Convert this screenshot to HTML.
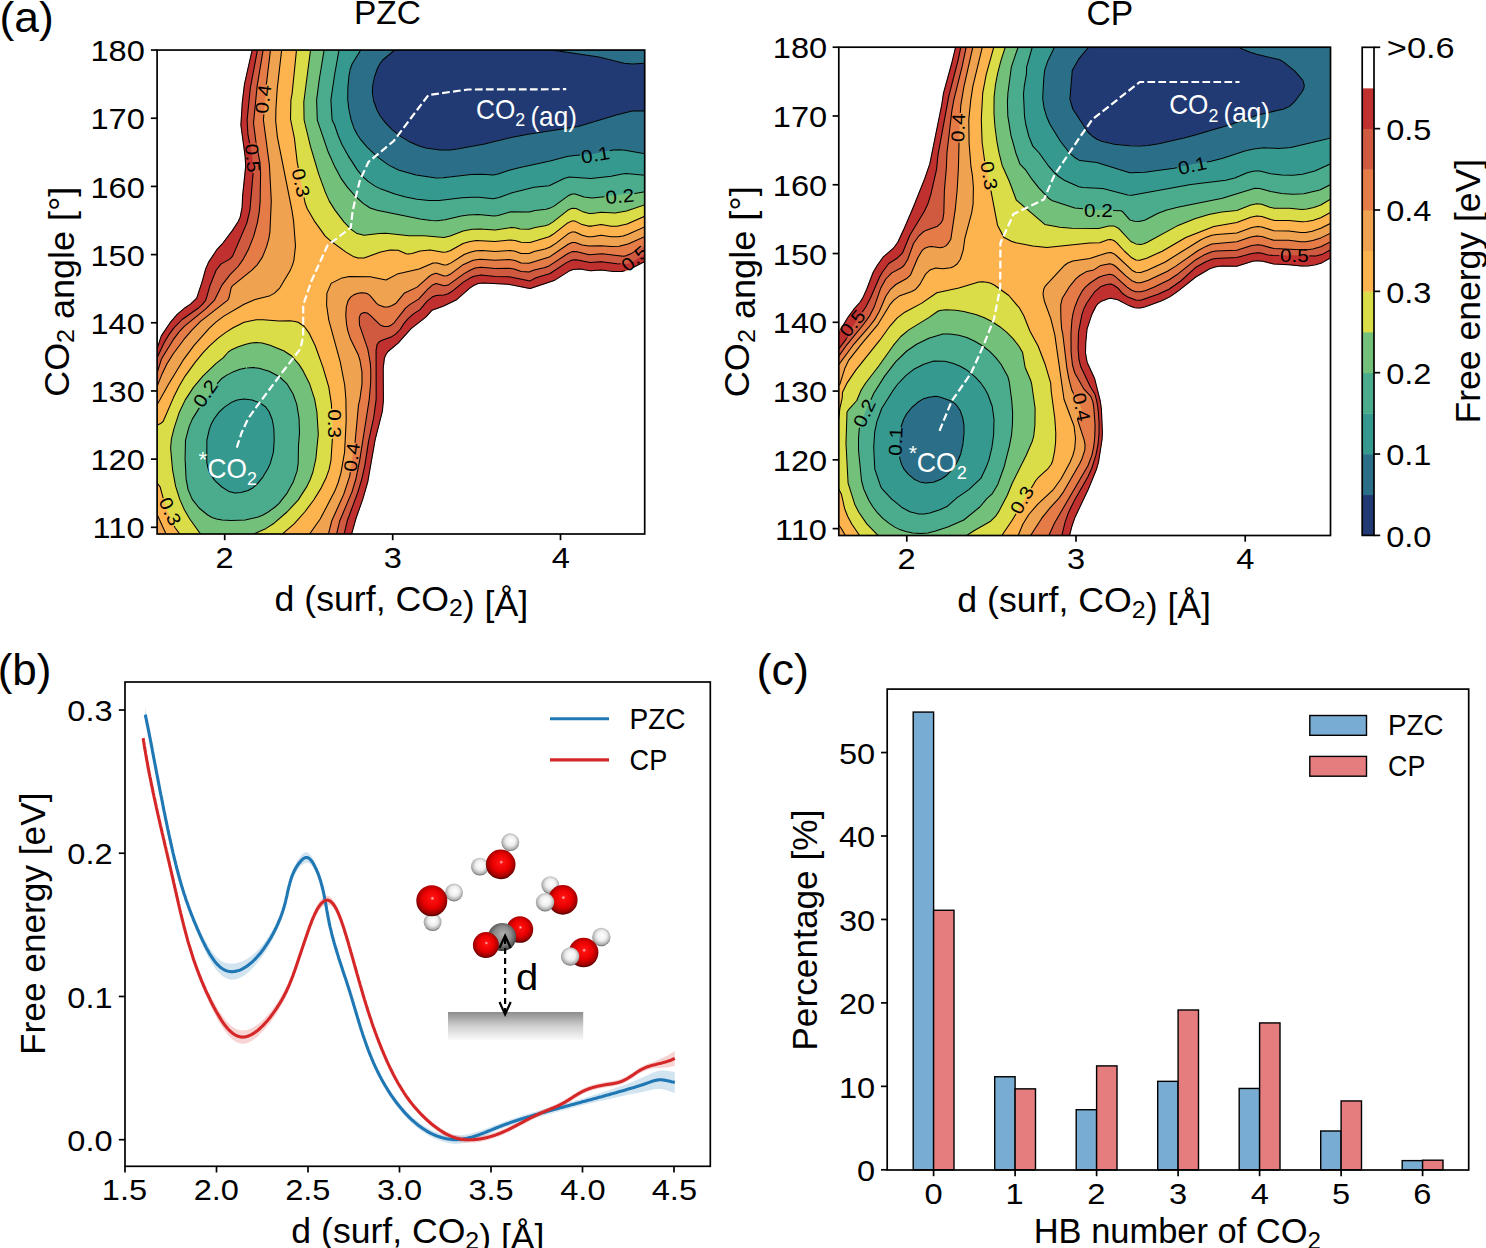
<!DOCTYPE html>
<html><head><meta charset="utf-8"><style>html,body{margin:0;padding:0;background:#fff}svg{display:block}text{font-family:"Liberation Sans",sans-serif}</style></head>
<body><svg width="1486" height="1248" viewBox="0 0 1486 1248">
<rect width="1486" height="1248" fill="#fff"/>
<clipPath id="cl"><rect x="157.1" y="50.05" width="487.60" height="483.95"/></clipPath>
<mask id="mcl" maskUnits="userSpaceOnUse" x="0" y="0" width="1486" height="1248"><rect x="0" y="0" width="1486" height="1248" fill="#fff"/>
<rect x="-15.0" y="-5" width="30.0" height="10" fill="#000" transform="translate(263.1,99.2) rotate(-83)"/>
<rect x="-15.0" y="-5" width="30.0" height="10" fill="#000" transform="translate(252.8,158.1) rotate(85)"/>
<rect x="-15.0" y="-5" width="30.0" height="10" fill="#000" transform="translate(300.9,182.8) rotate(78)"/>
<rect x="-15.0" y="-5" width="30.0" height="10" fill="#000" transform="translate(595.2,154.8) rotate(-10)"/>
<rect x="-15.0" y="-5" width="30.0" height="10" fill="#000" transform="translate(619.5,196.3) rotate(-5)"/>
<rect x="-15.0" y="-5" width="30.0" height="10" fill="#000" transform="translate(634.7,258.5) rotate(-40)"/>
<rect x="-15.0" y="-5" width="30.0" height="10" fill="#000" transform="translate(205.2,393.6) rotate(-55)"/>
<rect x="-15.0" y="-5" width="30.0" height="10" fill="#000" transform="translate(334.3,423.7) rotate(90)"/>
<rect x="-15.0" y="-5" width="30.0" height="10" fill="#000" transform="translate(351.7,457.3) rotate(-82)"/>
<rect x="-15.0" y="-5" width="30.0" height="10" fill="#000" transform="translate(170.2,511.4) rotate(65)"/>
</mask>
<g clip-path="url(#cl)">
<g stroke-width="0.6" stroke-linejoin="round">
<path stroke="#213a73" fill="#213a73" d="M397.1,47.8 397.6,47.0 543.7,47.0 551.1,49.9 598.9,57.0 624.1,63.2 632.1,63.9 648.1,63.0 648.1,111.0 636.1,110.8 631.1,111.3 616.3,115.0 578.1,126.5 528.1,134.2 512.1,137.3 484.5,144.1 457.1,149.0 450.1,149.9 440.1,150.1 426.0,148.1 419.1,146.0 410.0,142.1 400.3,136.1 392.6,130.1 386.1,123.5 380.1,115.7 377.1,110.3 374.0,102.0 372.5,94.0 372.5,87.0 373.9,79.0 377.2,69.0 379.7,64.0 382.7,60.0 396.9,48.0Z"/>
<path stroke="#2a6f87" fill="#2a6f87" d="M363.1,47.0 397.6,47.0 394.7,50.0 382.7,60.0 380.1,63.4 377.6,68.0 374.5,77.0 372.6,86.0 372.4,93.0 373.7,101.0 377.0,110.0 380.1,115.7 385.1,122.4 392.1,129.6 400.3,136.1 410.0,142.1 419.1,146.0 426.0,148.1 440.1,150.1 450.1,149.9 457.1,149.0 484.5,144.1 512.1,137.3 528.1,134.2 578.1,126.5 616.3,115.0 631.1,111.3 636.1,110.8 648.1,111.0 648.1,154.2 625.1,150.2 619.1,149.7 613.1,150.0 595.1,154.1 574.1,155.6 567.1,156.6 550.1,161.1 520.1,167.4 494.1,175.0 490.1,175.1 481.1,174.1 471.1,174.5 439.1,178.0 429.1,177.2 415.1,174.9 401.5,171.1 392.1,167.0 388.7,165.1 376.1,155.7 365.1,145.0 357.1,134.3 352.1,123.1 349.1,111.1 347.7,99.0 348.0,85.0 349.1,74.8 351.3,66.0 354.1,60.4 362.6,47.0ZM544.1,47.0 648.1,47.0 648.1,63.0 631.1,63.9 622.1,62.8 598.9,57.0 551.1,49.9 543.7,47.0Z"/>
<path stroke="#36998f" fill="#36998f" d="M340.1,47.0 362.6,47.0 354.1,60.4 351.7,65.0 349.4,73.0 348.2,82.0 347.6,95.0 348.4,107.0 351.1,119.7 355.1,130.6 358.2,136.1 363.1,142.7 376.1,155.7 390.1,165.9 401.5,171.1 418.1,175.5 436.1,177.9 443.1,177.8 471.1,174.5 482.1,174.2 493.1,175.1 498.1,174.1 509.1,170.3 520.1,167.4 550.1,161.1 567.1,156.6 574.1,155.6 595.1,154.1 613.1,150.0 619.1,149.7 625.1,150.2 648.1,154.2 648.1,175.6 626.1,173.5 622.1,173.9 611.1,176.2 591.1,178.6 569.1,177.1 564.1,178.5 549.1,185.7 534.1,187.2 511.1,193.0 496.1,198.4 491.1,198.7 479.1,197.3 471.1,197.2 441.1,200.3 432.1,200.7 418.1,199.4 405.7,197.1 391.9,193.1 376.8,187.0 369.0,182.1 362.1,175.8 356.1,168.1 348.1,155.6 340.1,140.4 334.6,125.0 332.1,120.0 331.7,117.0 330.9,100.0 334.4,76.0 339.5,47.0ZM244.1,399.0 252.1,400.1 260.1,402.9 265.1,406.5 268.7,411.1 272.1,419.1 273.5,426.1 274.2,439.1 273.5,451.1 272.1,457.9 268.7,467.1 264.8,474.1 259.0,482.1 254.1,486.9 250.1,489.6 244.1,491.9 237.1,493.1 230.1,492.0 224.6,489.1 216.2,482.1 210.9,475.1 208.3,469.0 206.9,463.0 206.9,440.1 209.1,430.1 210.8,425.0 214.1,418.8 219.1,412.1 224.4,407.1 231.1,402.6 237.1,400.1 243.6,399.1Z"/>
<path stroke="#4aac8d" fill="#4aac8d" d="M325.1,47.0 339.5,47.0 334.2,77.0 330.9,101.0 332.1,120.0 334.6,125.0 339.1,138.0 342.2,145.1 347.1,153.9 355.1,166.7 360.5,174.1 365.1,178.8 370.1,182.8 376.1,186.6 382.1,189.5 394.9,194.1 406.1,197.1 417.1,199.3 430.1,200.6 440.1,200.3 471.1,197.2 479.1,197.3 493.1,198.7 499.1,197.6 512.1,192.7 534.1,187.2 549.1,185.7 564.1,178.5 569.1,177.1 591.1,178.6 611.1,176.2 622.1,173.9 626.1,173.5 648.1,175.6 648.1,191.2 633.1,193.7 592.1,198.0 584.1,196.9 575.1,193.9 572.1,194.0 568.1,195.8 554.0,206.1 550.1,208.1 546.1,209.2 535.1,210.5 529.1,212.1 511.1,211.7 498.1,215.4 494.1,216.0 478.1,214.6 468.1,214.9 461.1,215.9 444.1,219.9 435.1,220.7 420.1,219.0 378.1,210.5 371.1,208.5 364.1,204.2 357.1,198.0 348.8,189.1 342.1,179.9 335.5,168.1 328.2,152.1 324.1,141.0 317.2,119.0 316.6,100.0 319.2,80.0 324.6,47.0ZM246.1,368.0 252.1,367.6 258.2,368.1 262.1,368.8 268.8,371.1 279.1,376.5 287.1,383.9 293.1,394.0 296.7,404.1 299.0,418.1 299.5,433.1 298.5,445.1 298.2,463.1 297.1,470.9 293.1,482.3 287.1,493.1 279.1,503.4 275.1,507.1 268.2,512.0 263.0,515.0 258.2,517.0 246.1,519.8 232.1,520.6 222.1,520.1 217.1,519.2 209.1,515.9 200.1,509.0 195.1,503.5 192.1,499.1 188.1,489.6 186.1,478.9 185.1,460.1 185.5,440.1 189.0,427.1 192.3,419.1 202.1,403.4 217.6,383.1 222.1,378.2 226.8,375.1 232.7,372.0 240.1,369.3 245.9,368.1ZM243.6,399.1 237.1,400.1 231.1,402.6 224.4,407.1 219.1,412.1 214.1,418.8 210.8,425.1 209.1,430.1 206.9,440.1 206.9,463.1 208.3,469.1 210.9,475.1 216.2,482.0 224.6,489.0 230.1,492.0 237.1,493.1 244.1,491.9 250.1,489.6 254.1,486.9 259.0,482.1 264.8,474.0 268.7,467.1 272.1,457.9 273.5,451.1 274.2,439.1 273.5,426.1 272.1,419.1 268.7,411.1 265.1,406.5 260.1,402.9 252.1,400.1 244.1,399.0Z"/>
<path stroke="#72c07a" fill="#72c07a" d="M311.1,47.0 324.6,47.0 319.1,80.9 316.5,102.0 317.3,120.1 319.4,125.0 326.1,146.7 336.1,169.3 340.9,178.1 345.1,184.3 351.4,192.1 359.1,199.9 366.1,205.7 371.1,208.5 378.1,210.5 420.1,219.0 431.1,220.6 438.1,220.6 446.1,219.5 461.1,215.9 468.1,214.9 478.1,214.6 494.1,216.0 498.1,215.4 511.1,211.7 529.1,212.1 535.1,210.5 546.1,209.2 550.1,208.1 554.0,206.1 568.1,195.8 572.1,194.0 575.1,193.9 584.1,196.9 592.1,198.0 633.1,193.7 648.1,191.2 648.1,203.7 623.1,211.9 614.1,213.0 601.1,212.3 590.1,213.4 583.1,211.8 575.1,208.3 572.1,208.2 567.1,210.7 551.4,223.1 545.1,225.7 535.1,227.4 529.1,229.2 520.1,229.0 515.1,227.8 511.1,227.5 495.1,229.9 479.1,228.9 471.1,229.4 462.1,231.2 448.1,236.7 443.1,237.4 424.1,235.7 409.1,235.8 386.1,233.2 379.1,233.4 366.1,235.2 361.1,234.9 356.1,233.1 349.1,227.5 343.1,220.9 334.8,210.1 330.4,203.1 327.3,197.1 318.4,173.1 312.0,152.1 304.1,120.0 303.9,100.0 304.9,95.0 310.9,47.0ZM252.1,342.9 256.1,342.6 262.1,343.1 271.1,345.6 279.1,348.7 285.1,351.5 290.1,354.7 298.0,363.1 303.1,370.9 309.7,384.1 314.3,398.1 316.8,411.1 318.3,433.1 316.0,458.1 312.9,472.1 310.1,479.8 307.1,486.1 298.1,500.0 287.0,512.0 274.1,523.2 266.1,528.4 251.5,535.0 248.4,537.0 202.6,537.0 186.7,514.0 182.6,506.1 178.6,496.1 175.6,486.1 173.5,476.1 171.3,458.0 170.6,446.0 171.4,439.1 173.1,432.0 179.1,412.8 186.3,398.1 195.2,385.1 205.1,373.9 216.1,363.4 223.1,357.8 229.5,351.1 240.3,346.0 251.3,343.1ZM245.9,368.1 240.1,369.3 232.7,372.1 226.8,375.1 222.1,378.2 217.6,383.1 202.1,403.4 192.3,419.1 189.0,427.1 185.5,440.1 185.1,460.1 186.1,478.9 188.1,489.6 192.1,499.1 195.1,503.5 200.1,509.0 209.1,515.9 217.1,519.2 222.1,520.1 232.1,520.6 246.1,519.8 258.2,517.0 263.0,515.0 268.2,512.0 275.1,507.0 279.1,503.4 287.1,493.1 293.1,482.3 297.1,470.9 298.2,463.1 298.5,445.1 299.5,433.1 299.0,418.1 296.7,404.1 293.1,394.0 287.1,383.9 279.1,376.5 268.8,371.1 262.1,368.8 258.2,368.1 252.1,367.6 246.1,368.0Z"/>
<path stroke="#dadc48" fill="#dadc48" d="M297.1,47.0 310.9,47.0 304.9,95.0 303.9,100.0 303.9,118.0 310.9,148.1 316.4,167.1 325.7,193.1 331.6,205.1 338.1,214.5 345.8,224.1 352.0,230.1 357.1,233.6 364.1,235.3 379.1,233.4 386.1,233.2 409.1,235.8 424.1,235.7 444.1,237.4 450.1,236.1 463.1,230.9 472.1,229.3 480.1,229.0 495.1,229.9 511.1,227.5 515.1,227.8 520.1,229.0 529.1,229.2 535.1,227.4 545.1,225.7 549.1,224.4 553.1,221.9 568.0,210.1 572.1,208.2 576.1,208.5 582.1,211.4 589.1,213.4 592.1,213.4 601.1,212.3 615.1,212.9 626.5,211.1 648.1,203.7 648.1,214.8 629.1,223.3 621.1,225.7 612.1,226.2 601.1,224.6 589.1,226.2 582.1,224.6 575.1,221.1 572.1,220.9 567.1,223.3 553.1,234.3 549.1,236.8 530.1,242.4 521.1,242.3 515.1,240.6 510.1,240.0 495.1,241.4 481.1,240.5 475.1,240.7 469.1,241.7 463.1,243.5 450.1,250.7 446.1,252.1 443.1,252.2 430.1,250.1 420.1,251.1 412.1,253.6 408.1,254.1 406.1,253.7 398.1,250.2 389.1,250.0 377.4,253.0 366.1,257.4 360.1,258.2 356.1,257.7 350.6,255.1 327.1,238.0 322.1,232.2 315.1,222.1 307.4,209.1 305.4,204.1 297.2,162.1 294.4,138.1 290.5,119.0 290.9,100.0 292.1,93.6 296.8,47.0ZM254.1,320.0 263.1,319.7 279.1,321.0 290.1,320.8 295.1,321.4 299.1,322.7 305.1,327.2 309.1,333.1 314.1,343.1 322.5,366.1 328.6,386.1 331.3,403.1 332.5,433.0 331.5,454.1 330.1,465.3 326.8,476.1 322.7,485.1 318.8,492.1 307.1,509.1 292.1,526.0 278.9,537.0 248.4,537.0 251.5,535.0 266.1,528.4 274.1,523.2 287.0,512.0 298.1,500.1 307.1,486.1 310.1,479.8 312.9,472.0 316.0,458.1 318.3,433.1 317.7,420.1 315.9,405.1 314.3,398.1 309.7,384.1 303.1,370.9 296.4,361.1 290.1,354.7 281.1,349.6 273.1,346.3 263.1,343.3 256.1,342.6 251.1,343.1 245.1,344.5 237.7,347.1 231.1,350.1 228.3,352.0 223.1,357.8 216.1,363.4 204.1,374.9 198.5,381.1 188.1,395.0 184.1,401.9 180.1,410.4 174.1,428.1 171.6,438.0 170.7,444.1 171.0,455.1 173.6,477.1 177.6,493.1 183.5,508.1 189.8,519.0 202.6,537.0 181.9,537.0 175.1,527.8 171.1,520.3 165.1,505.2 160.1,486.9 154.1,479.1 154.1,426.0 157.1,425.7 157.3,425.1 160.1,423.8 163.1,421.5 174.6,395.1 183.2,379.1 193.1,365.0 202.1,353.8 209.1,346.2 218.1,338.1 227.1,331.4 236.1,326.2 245.1,321.8 253.7,320.0Z"/>
<path stroke="#fdb44f" fill="#fdb44f" d="M282.1,47.0 296.8,47.0 292.1,93.6 290.9,100.0 290.5,119.0 294.4,138.1 297.4,163.1 304.1,198.5 306.1,206.1 315.1,222.1 321.2,231.1 326.1,237.0 330.1,240.6 344.1,250.7 353.1,256.4 358.1,258.1 364.1,257.9 380.6,252.1 390.1,250.0 398.1,250.2 406.1,253.7 408.1,254.1 412.1,253.6 420.1,251.1 430.1,250.1 443.1,252.2 446.1,252.1 450.1,250.7 463.1,243.5 469.1,241.7 476.1,240.6 495.1,241.4 510.1,240.0 515.1,240.6 521.1,242.3 530.1,242.4 549.1,236.8 553.1,234.3 567.1,223.3 572.1,220.9 575.1,221.1 582.1,224.6 588.1,226.1 592.1,226.1 601.1,224.6 611.1,226.2 617.1,226.2 627.1,224.1 648.1,214.8 648.1,225.4 629.1,233.9 622.1,236.1 612.1,236.9 601.1,235.3 589.1,236.8 582.1,235.3 575.1,232.1 572.1,231.9 568.1,233.8 556.1,243.1 550.1,247.0 545.1,248.9 534.1,251.6 529.1,253.6 521.1,253.4 515.1,251.3 510.1,250.5 495.1,251.5 482.1,250.5 476.1,250.8 470.1,252.2 464.1,254.5 451.1,262.9 447.1,264.8 444.1,265.0 437.1,262.9 433.1,262.9 419.1,269.0 397.2,274.1 386.1,280.0 370.1,276.7 349.1,276.6 342.1,277.9 331.1,283.4 326.9,293.1 326.6,305.1 328.8,320.1 340.3,362.1 344.7,385.1 345.9,399.1 346.2,420.1 344.6,452.1 340.9,473.1 338.0,483.1 334.8,491.1 320.2,519.0 307.5,537.0 278.9,537.0 294.1,523.9 304.7,512.0 313.7,500.0 321.1,488.1 326.0,478.1 329.1,469.4 331.0,460.1 332.4,438.1 332.3,421.1 331.4,404.1 328.8,387.1 322.9,367.1 315.1,345.5 308.1,331.4 305.1,327.2 303.1,325.5 298.1,322.2 295.1,321.4 290.1,320.8 279.1,321.0 263.1,319.7 256.1,319.8 244.1,322.2 233.1,327.8 226.1,332.1 218.1,338.1 209.1,346.2 203.1,352.6 195.1,362.4 185.1,376.1 179.1,386.2 173.7,397.1 163.1,421.5 160.1,423.8 157.3,425.0 157.1,425.7 154.1,426.0 154.1,409.1 156.1,406.6 167.1,386.7 180.6,364.1 187.4,354.1 196.1,343.1 211.4,326.1 218.3,320.1 225.4,315.1 244.1,304.3 251.1,301.0 258.1,298.6 269.1,296.1 275.1,292.6 279.0,289.1 280.3,287.1 289.9,271.1 292.5,265.1 293.9,260.1 295.5,246.1 293.6,221.1 291.9,210.1 277.4,137.1 275.7,121.0 275.9,109.1 277.2,89.0 282.0,47.0ZM154.8,480.1 156.1,481.2 160.1,486.9 165.1,505.2 171.1,520.3 175.1,527.8 181.9,537.0 167.4,537.0 156.1,512.2 154.1,508.8 154.1,479.1Z"/>
<path stroke="#efa24f" fill="#efa24f" d="M271.1,47.0 282.0,47.0 277.2,89.0 275.9,109.0 275.7,121.0 277.6,138.1 291.9,210.1 293.4,220.0 295.5,246.1 293.9,260.1 292.8,264.1 289.9,271.1 280.3,287.1 278.1,289.9 274.5,293.1 269.2,296.1 255.1,299.5 244.1,304.3 223.8,316.1 215.9,322.1 209.4,328.1 194.1,345.4 183.9,359.1 168.1,384.9 156.1,406.6 154.1,409.1 154.1,392.3 155.6,390.1 165.1,367.4 173.1,354.1 186.1,336.7 197.6,324.1 203.2,319.1 227.8,300.1 228.9,298.1 231.1,288.1 232.1,286.2 251.9,270.1 257.0,265.1 262.4,257.1 266.7,246.1 268.7,239.1 269.9,232.1 271.3,201.1 269.4,165.1 263.4,120.0 266.1,86.6 270.8,47.0ZM647.1,225.7 648.1,225.4 648.1,235.1 629.1,243.7 622.1,245.9 613.1,246.6 601.1,245.7 589.1,246.1 582.7,245.1 576.1,242.7 573.1,242.2 568.1,244.2 553.1,254.8 549.1,257.1 534.1,261.3 529.1,263.2 521.1,263.0 515.1,260.6 509.1,259.6 495.1,260.2 480.1,259.2 472.1,260.6 462.6,265.1 451.1,273.7 447.1,275.8 444.1,276.0 436.1,273.3 432.1,274.4 428.1,277.3 417.1,287.1 404.1,293.3 396.1,303.2 389.1,306.8 384.1,307.0 378.1,304.7 376.1,302.9 370.1,295.7 368.0,294.1 365.1,292.9 361.1,292.7 357.1,293.5 353.4,295.1 350.6,297.1 347.9,301.1 346.3,307.1 345.8,315.1 346.5,324.1 347.9,331.1 350.5,339.0 358.1,354.4 359.9,360.1 362.0,372.1 362.0,384.1 359.9,399.1 358.5,405.0 355.1,442.2 349.7,476.1 343.8,494.1 331.7,521.0 327.7,537.0 307.5,537.0 320.2,519.0 334.8,491.1 338.0,483.0 340.9,473.1 344.6,452.1 346.2,420.1 345.9,399.0 344.7,385.0 340.3,362.1 328.8,320.1 326.6,305.1 326.9,293.1 331.1,283.4 342.1,277.9 349.1,276.6 370.1,276.7 386.1,280.0 397.2,274.1 419.1,269.0 433.1,262.9 437.1,262.9 444.1,265.0 447.1,264.8 451.1,262.9 464.1,254.5 470.1,252.2 476.1,250.8 482.1,250.5 495.1,251.5 510.1,250.5 515.1,251.3 521.1,253.4 529.1,253.6 534.1,251.6 545.1,248.9 550.1,247.0 556.1,243.1 568.1,233.8 572.1,231.9 575.1,232.1 582.1,235.3 588.1,236.7 592.1,236.8 601.1,235.3 611.1,236.8 617.1,236.8 622.1,236.1 627.1,234.7 646.1,226.1ZM154.3,509.1 167.4,537.0 154.1,537.0 154.1,508.8Z"/>
<path stroke="#e57b47" fill="#e57b47" d="M264.1,47.0 270.8,47.0 266.1,86.6 263.4,120.0 269.4,165.1 271.3,201.1 269.9,232.1 268.7,239.1 266.7,246.1 262.4,257.1 257.0,265.1 251.9,270.1 232.1,286.2 231.1,288.1 228.9,298.1 227.8,300.1 200.8,321.1 191.9,330.1 184.1,339.2 173.1,354.0 167.1,363.6 162.1,373.9 155.6,390.1 154.1,392.3 154.1,380.6 156.1,376.1 161.1,359.7 169.1,345.9 176.1,335.7 183.5,327.1 191.3,320.1 205.5,309.1 214.6,300.1 222.0,285.1 230.1,274.6 238.1,266.5 243.9,258.1 249.4,247.1 254.3,234.1 257.6,222.1 259.4,211.1 260.1,202.1 260.6,172.1 259.9,162.1 256.1,143.3 253.5,123.0 257.1,86.4 263.6,47.0ZM646.1,235.8 648.1,235.1 648.1,244.4 630.2,254.1 625.1,255.9 620.1,256.2 602.1,253.8 589.1,254.8 576.1,251.6 573.1,251.4 568.1,253.4 549.1,265.9 544.1,267.7 534.1,270.0 529.1,271.9 521.1,271.4 514.1,269.0 509.1,268.3 495.1,268.4 481.1,267.2 474.1,268.5 463.1,274.2 448.1,285.1 444.1,285.8 436.1,283.6 432.1,285.3 427.8,289.1 418.6,299.1 410.1,304.4 405.1,308.4 395.1,321.8 392.1,324.6 389.1,326.2 385.1,326.7 380.3,325.1 370.1,315.1 367.1,313.0 364.1,312.4 361.1,313.7 360.1,315.1 359.2,318.1 359.5,325.0 367.8,349.1 370.3,363.1 370.8,371.1 370.7,382.1 369.3,399.0 359.9,459.1 355.9,479.1 352.1,491.6 339.7,521.0 335.9,537.0 327.7,537.0 327.8,536.0 331.7,521.0 343.8,494.1 349.7,476.1 355.1,442.2 358.5,405.1 359.9,399.0 362.1,383.1 361.9,371.1 359.6,359.1 358.1,354.4 350.5,339.1 347.9,331.1 346.5,324.1 345.8,315.1 346.3,307.1 347.9,301.1 350.6,297.1 353.4,295.1 357.1,293.5 361.1,292.7 365.1,292.9 368.0,294.1 370.1,295.7 376.1,302.9 378.1,304.7 384.1,307.0 388.1,307.1 392.1,305.5 396.1,303.2 404.1,293.3 417.1,287.1 428.1,277.3 432.1,274.4 436.1,273.3 444.1,276.0 447.1,275.8 451.1,273.7 463.1,264.7 473.1,260.3 480.1,259.2 495.1,260.2 509.1,259.6 515.1,260.6 521.1,263.0 529.1,263.2 549.3,257.1 568.1,244.2 572.1,242.4 575.1,242.4 582.1,244.9 589.1,246.1 601.1,245.7 611.1,246.6 619.1,246.3 628.1,244.1 645.5,236.1Z"/>
<path stroke="#cf5a3f" fill="#cf5a3f" d="M258.1,47.0 263.6,47.0 257.1,86.4 253.5,123.0 256.1,143.3 259.9,162.1 260.6,172.1 260.1,202.1 259.5,210.1 257.8,221.1 254.7,233.1 249.4,247.1 243.9,258.1 238.1,266.5 230.1,274.6 222.0,285.1 214.6,300.1 205.5,309.1 184.5,326.1 179.1,331.9 173.1,339.9 161.4,359.1 156.1,376.1 154.1,380.6 154.1,363.0 155.6,361.1 161.1,348.5 166.1,339.3 172.1,330.1 179.1,322.2 185.2,317.1 198.4,308.1 202.1,304.7 205.1,301.1 206.1,299.1 210.1,285.2 216.1,270.2 220.8,264.1 229.8,259.1 232.6,256.1 244.5,229.1 247.5,221.1 250.2,208.1 253.2,172.1 252.3,158.1 247.9,134.1 247.1,120.0 250.3,88.0 258.0,47.0ZM647.1,244.6 648.1,244.4 648.1,251.9 643.1,254.8 634.1,261.2 628.1,263.6 619.1,263.9 601.1,261.7 590.1,262.5 577.1,259.9 573.1,259.8 567.1,262.3 550.1,273.5 536.1,277.7 531.1,280.5 529.1,281.0 509.1,276.8 495.1,276.5 481.1,275.0 474.1,276.2 469.9,278.1 463.4,282.1 452.1,291.3 448.1,293.8 444.1,294.9 436.1,295.4 432.1,297.1 427.1,301.1 420.1,309.6 413.1,314.1 408.1,318.6 404.2,323.1 400.1,329.5 395.6,334.1 391.1,337.1 382.1,340.3 378.9,342.1 377.1,344.6 376.1,350.1 376.2,399.1 373.8,417.1 368.6,441.1 364.9,465.1 361.8,479.1 357.9,492.0 347.2,521.0 343.5,537.0 335.9,537.0 336.0,536.0 339.7,521.0 352.1,491.6 356.9,475.1 365.1,427.9 369.3,399.1 370.5,386.1 370.7,369.1 369.1,354.5 367.1,346.5 359.3,324.1 359.4,317.1 361.1,313.7 364.1,312.4 367.1,313.0 370.1,315.1 380.1,324.9 384.1,326.6 388.1,326.4 391.1,325.2 394.1,322.8 405.5,308.1 410.1,304.4 418.6,299.1 427.8,289.1 432.1,285.3 436.1,283.6 444.1,285.8 448.1,285.1 464.1,273.6 470.1,270.2 475.1,268.1 481.1,267.2 495.1,268.4 509.1,268.3 514.1,269.0 521.1,271.4 529.1,271.9 534.1,270.0 544.1,267.7 549.1,265.9 567.1,254.0 572.1,251.6 576.1,251.6 589.1,254.8 602.1,253.8 623.1,256.2 626.1,255.7 630.1,254.1 646.3,245.1Z"/>
<path stroke="#c0302e" fill="#c0302e" d="M253.1,47.0 258.0,47.0 250.3,88.0 247.1,120.0 247.9,134.1 252.3,158.1 253.2,172.1 250.2,208.1 247.5,221.1 244.5,229.1 232.6,256.1 229.8,259.1 220.8,264.1 216.1,270.2 210.1,285.2 206.1,299.1 205.1,301.1 202.1,304.7 198.1,308.3 182.1,319.5 173.7,328.1 169.3,334.1 164.1,342.8 155.6,361.1 154.1,363.0 154.1,356.4 162.1,334.3 170.1,322.7 176.1,315.4 185.1,307.7 190.5,304.1 196.7,298.0 202.1,281.8 205.6,269.1 208.6,262.1 217.1,249.3 223.1,242.8 232.1,230.9 238.1,221.8 240.2,217.1 242.1,207.5 242.6,196.1 245.7,166.1 245.1,156.1 240.9,125.0 242.3,102.1 244.5,84.0 252.8,47.1ZM648.1,251.9 648.1,259.8 633.1,267.6 626.1,270.5 622.1,271.4 617.1,271.6 601.1,270.0 591.1,270.8 581.1,269.0 574.1,269.2 569.1,271.1 554.1,280.6 531.1,288.4 528.1,288.4 513.6,285.1 507.1,284.2 483.1,282.9 478.1,283.6 474.1,285.3 470.1,287.9 456.1,300.1 443.1,306.2 432.1,310.2 426.1,316.9 411.1,328.7 398.1,343.2 388.1,351.5 386.1,354.3 384.4,358.1 383.2,368.1 383.4,400.1 382.4,411.1 375.1,439.9 367.7,482.1 362.8,499.1 356.1,518.0 350.8,537.0 343.5,537.0 343.6,536.0 347.2,521.0 357.9,492.1 361.8,479.1 364.9,465.1 368.6,441.1 373.8,417.0 376.2,399.1 376.1,350.1 377.1,344.6 378.9,342.0 382.1,340.3 391.1,337.1 395.6,334.1 400.1,329.5 404.2,323.1 408.1,318.6 413.1,314.1 420.1,309.6 427.1,301.1 432.1,297.1 436.1,295.4 444.1,294.9 448.1,293.8 452.1,291.3 463.4,282.1 469.9,278.1 474.1,276.2 481.1,275.0 495.1,276.5 509.1,276.8 530.1,280.9 536.1,277.7 550.1,273.5 566.1,262.9 572.1,260.0 576.1,259.7 590.1,262.5 601.1,261.7 617.1,263.7 626.1,263.9 630.1,263.1 633.1,261.8 647.7,252.1Z"/>
</g>
<path fill="none" stroke="#000" stroke-width="1.05" stroke-linejoin="round" mask="url(#mcl)" d="M397.6,47.0 394.7,50.0 382.7,60.0 380.1,63.4 377.6,68.0 374.5,77.0 372.6,86.0 372.4,93.0 373.7,101.0 377.0,110.0 380.1,115.7 385.1,122.4 392.1,129.6 400.3,136.1 410.0,142.1 419.1,146.0 426.0,148.1 440.1,150.1 450.1,149.9 457.1,149.0 484.5,144.1 512.1,137.3 528.1,134.2 578.1,126.5 616.3,115.0 631.1,111.3 636.1,110.8 648.1,111.0M648.1,63.0 632.1,63.9 624.1,63.2 598.9,57.0 551.1,49.9 543.7,47.0M362.6,47.0 352.1,64.0 350.3,69.0 349.1,74.8 347.9,87.0 347.7,99.0 348.8,109.0 351.2,120.1 354.1,128.4 357.1,134.3 361.1,140.2 367.1,147.2 377.1,156.6 388.7,165.1 399.1,170.2 416.1,175.1 436.1,177.9 443.1,177.8 471.1,174.5 482.1,174.2 493.1,175.1 498.1,174.1 509.1,170.3 520.1,167.4 550.1,161.1 567.1,156.6 574.1,155.6 595.1,154.1 613.1,150.0 619.1,149.7 625.1,150.2 648.1,154.2M339.5,47.0 334.4,76.0 330.9,100.0 332.1,120.0 334.6,125.0 338.1,135.5 342.2,145.1 348.1,155.6 357.1,169.6 362.1,175.8 367.7,181.1 375.0,186.1 381.1,189.1 394.9,194.1 405.7,197.1 417.1,199.3 429.1,200.5 439.1,200.4 462.1,197.8 472.1,197.2 479.1,197.3 493.1,198.7 499.1,197.6 512.1,192.7 534.1,187.2 549.1,185.7 564.1,178.5 569.1,177.1 591.1,178.6 611.1,176.2 622.1,173.9 626.1,173.5 648.1,175.6M244.1,399.0 237.1,400.1 231.1,402.6 224.4,407.1 219.1,412.1 214.1,418.8 210.8,425.1 209.1,430.1 206.9,440.1 206.8,462.1 208.1,468.6 210.1,473.6 215.1,480.9 221.9,487.0 229.1,491.6 235.1,493.1 241.1,492.6 248.1,490.5 253.1,487.7 257.1,484.1 262.8,477.1 267.7,469.0 270.4,463.1 273.4,452.1 274.2,440.1 273.8,428.0 272.1,419.2 269.1,411.7 265.7,407.0 260.4,403.1 252.1,400.1 244.1,399.0M324.6,47.0 319.2,80.0 316.6,100.1 317.3,120.1 328.1,151.8 335.0,167.1 340.9,178.1 347.1,186.9 355.1,196.0 363.1,203.4 370.1,208.0 377.1,210.3 420.1,219.0 431.1,220.6 437.1,220.7 445.1,219.7 461.1,215.9 468.1,214.9 478.1,214.6 494.1,216.0 498.1,215.4 511.1,211.7 529.1,212.1 535.1,210.5 546.1,209.2 550.1,208.1 554.0,206.1 568.1,195.8 572.1,194.0 575.1,193.9 584.1,196.9 592.1,198.0 633.1,193.7 648.1,191.2M246.1,368.0 240.1,369.3 232.7,372.1 226.8,375.1 222.1,378.2 217.6,383.1 202.1,403.4 192.3,419.1 189.1,426.6 185.5,440.1 185.1,459.1 186.1,478.9 188.1,489.6 192.1,499.1 199.1,508.0 207.7,515.0 212.1,517.5 216.6,519.0 222.1,520.1 231.1,520.6 245.1,519.9 258.2,517.0 263.0,515.0 268.2,512.0 275.1,507.0 279.1,503.4 287.1,493.1 293.1,482.3 297.1,470.9 298.2,463.1 298.5,445.1 299.5,433.1 299.0,418.1 296.7,404.1 293.1,394.0 287.1,383.9 279.1,376.5 269.1,371.2 259.1,368.2 253.1,367.6 247.1,367.9M310.9,47.0 303.8,102.0 304.1,120.0 310.4,146.1 318.7,174.1 325.3,192.1 329.3,201.1 335.1,210.4 344.1,222.1 350.8,229.1 357.1,233.6 364.1,235.3 379.1,233.4 386.1,233.2 409.1,235.8 424.1,235.7 444.1,237.4 450.1,236.1 463.1,230.9 472.1,229.3 480.1,229.0 495.1,229.9 511.1,227.5 515.1,227.8 520.1,229.0 529.1,229.2 535.1,227.4 545.1,225.7 549.1,224.4 553.1,221.9 568.0,210.1 572.1,208.2 576.1,208.5 582.1,211.4 589.1,213.4 592.1,213.4 601.1,212.3 615.1,212.9 626.5,211.1 648.1,203.7M248.4,537.0 251.5,535.0 266.1,528.4 274.1,523.2 287.0,512.0 298.1,500.1 307.1,486.1 310.1,479.8 312.9,472.0 315.8,459.1 318.3,434.1 316.9,412.1 314.6,399.1 309.7,384.1 303.1,370.9 299.1,364.6 291.7,356.0 284.1,351.0 270.1,345.3 262.1,343.1 256.1,342.6 251.1,343.1 245.1,344.5 237.7,347.1 231.1,350.1 228.3,352.0 223.1,357.8 216.1,363.4 203.1,375.9 193.6,387.1 185.1,400.1 179.1,412.8 174.1,428.1 171.4,439.1 170.6,448.1 172.6,470.1 175.6,486.1 179.7,499.1 184.5,510.1 189.8,519.0 202.6,537.0M296.8,47.0 292.1,93.6 290.9,100.0 290.5,119.0 294.4,138.1 297.2,162.1 305.1,203.0 307.1,208.5 314.1,220.6 325.2,236.1 331.1,241.3 346.0,252.1 353.1,256.4 358.1,258.1 364.1,257.9 380.6,252.1 390.1,250.0 398.1,250.2 406.1,253.7 408.1,254.1 412.1,253.6 420.1,251.1 430.1,250.1 443.1,252.2 446.1,252.1 450.1,250.7 463.1,243.5 469.1,241.7 476.1,240.6 495.1,241.4 510.1,240.0 515.1,240.6 521.1,242.3 530.1,242.4 549.1,236.8 553.1,234.3 567.1,223.3 572.1,220.9 575.1,221.1 582.1,224.6 588.1,226.1 592.1,226.1 601.1,224.6 611.1,226.2 617.1,226.2 627.1,224.1 648.1,214.8M154.1,479.1 160.1,486.9 165.1,505.2 171.1,520.3 175.1,527.8 181.9,537.0M278.9,537.0 294.1,523.9 304.7,512.0 313.7,500.0 321.1,488.1 326.0,478.1 329.1,469.4 331.0,460.1 332.4,438.1 332.3,421.1 331.4,404.1 328.8,387.1 322.9,367.1 315.1,345.5 309.1,333.1 304.1,326.3 298.1,322.2 295.1,321.4 290.1,320.8 279.1,321.0 263.1,319.7 256.1,319.8 244.1,322.2 233.1,327.8 226.2,332.1 218.1,338.1 209.3,346.1 203.1,352.6 195.1,362.4 185.1,376.1 179.1,386.2 173.7,397.1 163.1,421.5 160.1,423.8 157.3,425.0 157.1,425.7 154.1,426.0M282.0,47.0 277.2,89.0 275.9,109.0 275.7,121.0 277.4,137.1 291.9,210.1 293.6,221.1 295.5,246.1 293.9,260.1 292.5,265.1 289.9,271.1 279.7,288.1 274.5,293.1 269.2,296.1 255.1,299.5 244.1,304.3 223.8,316.1 215.9,322.1 209.4,328.1 194.1,345.4 183.9,359.1 168.1,384.9 156.1,406.6 154.1,409.1M154.1,508.8 156.1,512.2 167.4,537.0M307.5,537.0 320.2,519.0 334.8,491.1 338.0,483.0 340.9,473.1 344.6,452.1 346.2,420.1 345.9,399.0 344.7,385.0 340.3,362.1 328.8,320.1 326.6,305.1 326.9,293.1 331.1,283.4 342.1,277.9 349.1,276.6 370.1,276.7 386.1,280.0 397.2,274.1 419.1,269.0 433.1,262.9 437.1,262.9 444.1,265.0 447.1,264.8 451.1,262.9 464.1,254.5 470.1,252.2 476.1,250.8 482.1,250.5 495.1,251.5 510.1,250.5 515.1,251.3 521.1,253.4 529.1,253.6 534.1,251.6 545.1,248.9 550.1,247.0 556.1,243.1 568.1,233.8 572.1,231.9 575.1,232.1 582.1,235.3 588.1,236.7 592.1,236.8 601.1,235.3 611.1,236.8 618.1,236.7 623.1,235.9 628.1,234.3 648.1,225.4M270.8,47.0 266.1,86.6 263.4,120.0 269.4,165.1 271.3,201.1 269.9,232.1 268.7,239.1 266.4,247.1 262.4,257.1 257.0,265.1 251.9,270.1 232.1,286.2 231.1,288.1 228.9,298.1 227.8,300.1 200.8,321.1 191.9,330.1 184.1,339.2 173.1,354.0 167.1,363.6 162.1,373.9 155.6,390.1 154.1,392.3M327.7,537.0 331.7,521.0 343.8,494.1 349.7,476.1 355.1,442.2 358.5,405.1 359.9,399.0 362.0,384.1 362.0,372.1 359.9,360.0 358.1,354.4 350.5,339.1 347.9,331.1 346.5,324.1 345.8,315.1 346.3,307.1 347.9,301.1 350.6,297.1 353.4,295.1 357.1,293.5 361.1,292.7 365.1,292.9 368.0,294.1 370.1,295.7 376.1,302.9 378.1,304.7 384.1,307.0 388.1,307.1 392.1,305.5 396.1,303.2 404.1,293.3 417.1,287.1 428.1,277.3 432.1,274.4 436.1,273.3 444.1,276.0 447.1,275.8 451.1,273.7 463.1,264.7 473.1,260.3 480.1,259.2 495.1,260.2 509.1,259.6 515.1,260.6 521.1,263.0 529.1,263.2 549.3,257.1 568.1,244.2 572.1,242.4 575.1,242.4 582.1,244.9 589.1,246.1 601.1,245.7 611.1,246.6 619.1,246.3 628.1,244.1 648.1,235.1M263.6,47.0 257.1,86.4 253.5,123.0 256.1,143.3 259.9,162.1 260.6,173.1 260.1,202.1 259.2,212.1 257.3,223.1 253.7,236.1 248.6,249.1 243.3,259.1 238.1,266.5 230.1,274.6 222.0,285.1 214.6,300.1 205.5,309.1 184.5,326.1 179.1,331.9 173.1,339.9 161.4,359.1 156.1,376.1 154.1,380.6M335.9,537.0 339.7,521.0 352.1,491.6 355.9,479.0 359.9,459.1 369.3,399.1 370.7,382.0 370.8,371.1 370.3,363.1 367.8,349.1 359.5,325.1 359.2,318.1 360.1,315.1 361.1,313.7 364.1,312.4 367.1,313.0 370.1,315.1 380.1,324.9 384.1,326.6 388.1,326.4 391.1,325.2 394.1,322.8 405.5,308.1 410.1,304.4 418.6,299.1 427.8,289.1 432.1,285.3 436.1,283.6 444.1,285.8 448.1,285.1 464.1,273.6 470.1,270.2 475.1,268.1 481.1,267.2 495.1,268.4 509.1,268.3 514.1,269.0 521.1,271.4 529.1,271.9 534.1,270.0 544.1,267.7 549.1,265.9 567.1,254.0 572.1,251.6 576.1,251.6 589.1,254.8 602.1,253.8 623.1,256.2 626.1,255.7 630.1,254.1 648.1,244.4M258.0,47.0 250.3,88.0 247.1,120.0 247.9,134.1 252.3,158.1 253.2,172.1 249.9,210.1 246.8,223.1 232.6,256.1 229.8,259.1 220.8,264.1 216.1,270.2 210.1,285.2 206.1,299.1 205.1,301.1 202.1,304.7 198.1,308.3 182.1,319.5 173.7,328.1 169.3,334.1 164.1,342.8 155.6,361.1 154.1,363.0M343.5,537.0 347.2,521.0 357.9,492.1 361.8,479.1 364.9,465.1 368.6,441.1 373.8,417.0 376.2,399.1 376.1,350.1 377.1,344.6 378.9,342.0 382.1,340.3 391.1,337.1 395.6,334.1 400.1,329.5 404.2,323.1 408.1,318.6 413.1,314.1 420.1,309.6 427.1,301.1 432.1,297.1 436.1,295.4 444.1,294.9 448.1,293.8 452.1,291.3 463.4,282.1 469.9,278.1 474.1,276.2 481.1,275.0 495.1,276.5 509.1,276.8 530.1,280.9 536.1,277.7 550.1,273.5 566.1,262.9 572.1,260.0 576.1,259.7 590.1,262.5 601.1,261.7 617.1,263.7 626.1,263.9 630.1,263.1 633.1,261.8 648.1,251.9M252.8,47.1 244.5,84.0 242.3,102.1 240.9,125.0 245.1,156.1 245.7,166.1 242.6,196.1 242.1,207.5 240.2,217.1 238.1,221.8 232.1,230.9 223.1,242.8 217.1,249.3 208.6,262.1 205.6,269.1 202.1,281.8 196.7,298.1 190.5,304.1 185.1,307.7 177.4,314.1 170.1,322.7 161.2,336.1 156.1,351.7 154.1,356.4M350.8,537.0 356.1,518.0 362.8,499.1 367.7,482.1 375.1,439.9 382.4,411.1 383.4,400.1 383.2,368.1 384.4,358.1 386.1,354.3 388.1,351.5 398.1,343.2 411.1,328.7 426.1,316.9 432.1,310.2 443.1,306.2 456.1,300.1 470.1,287.9 474.1,285.3 478.1,283.6 483.1,282.9 508.1,284.3 530.1,288.6 554.1,280.6 569.1,271.1 573.1,269.4 580.1,268.9 590.1,270.7 601.1,270.0 613.1,271.5 622.1,271.4 631.1,268.5 648.1,259.8"/>
<g transform="translate(263.1,99.2) rotate(-83)"><text transform="matrix(1.12,0,0,1.0,-14.37,6.50)" font-size="18.5" fill="#000">0.4</text></g>
<g transform="translate(252.8,158.1) rotate(85)"><text transform="matrix(1.12,0,0,1.0,-14.37,6.50)" font-size="18.5" fill="#000">0.5</text></g>
<g transform="translate(300.9,182.8) rotate(78)"><text transform="matrix(1.12,0,0,1.0,-14.37,6.50)" font-size="18.5" fill="#000">0.3</text></g>
<g transform="translate(595.2,154.8) rotate(-10)"><text transform="matrix(1.12,0,0,1.0,-14.19,6.50)" font-size="18.5" fill="#000">0.1</text></g>
<g transform="translate(619.5,196.3) rotate(-5)"><text transform="matrix(1.12,0,0,1.0,-14.19,6.50)" font-size="18.5" fill="#000">0.2</text></g>
<g transform="translate(634.7,258.5) rotate(-40)"><text transform="matrix(1.12,0,0,1.0,-14.37,6.50)" font-size="18.5" fill="#000">0.5</text></g>
<g transform="translate(205.2,393.6) rotate(-55)"><text transform="matrix(1.12,0,0,1.0,-14.19,6.50)" font-size="18.5" fill="#000">0.2</text></g>
<g transform="translate(334.3,423.7) rotate(90)"><text transform="matrix(1.12,0,0,1.0,-14.37,6.50)" font-size="18.5" fill="#000">0.3</text></g>
<g transform="translate(351.7,457.3) rotate(-82)"><text transform="matrix(1.12,0,0,1.0,-14.37,6.50)" font-size="18.5" fill="#000">0.4</text></g>
<g transform="translate(170.2,511.4) rotate(65)"><text transform="matrix(1.12,0,0,1.0,-14.37,6.50)" font-size="18.5" fill="#000">0.3</text></g>
</g>
<clipPath id="cr"><rect x="838.8" y="47.2" width="491.70" height="488.30"/></clipPath>
<mask id="mcr" maskUnits="userSpaceOnUse" x="0" y="0" width="1486" height="1248"><rect x="0" y="0" width="1486" height="1248" fill="#fff"/>
<rect x="-15.0" y="-5" width="30.0" height="10" fill="#000" transform="translate(958.1,127.7) rotate(-88)"/>
<rect x="-15.0" y="-5" width="30.0" height="10" fill="#000" transform="translate(989.2,175.6) rotate(80)"/>
<rect x="-15.0" y="-5" width="30.0" height="10" fill="#000" transform="translate(1192.1,165.6) rotate(-12)"/>
<rect x="-15.0" y="-5" width="30.0" height="10" fill="#000" transform="translate(1098.1,210.7) rotate(0)"/>
<rect x="-15.0" y="-5" width="30.0" height="10" fill="#000" transform="translate(1294.3,255.5) rotate(0)"/>
<rect x="-15.0" y="-5" width="30.0" height="10" fill="#000" transform="translate(852.3,323.4) rotate(-50)"/>
<rect x="-15.0" y="-5" width="30.0" height="10" fill="#000" transform="translate(864.2,413.3) rotate(-65)"/>
<rect x="-15.0" y="-5" width="30.0" height="10" fill="#000" transform="translate(895.6,441.5) rotate(-88)"/>
<rect x="-15.0" y="-5" width="30.0" height="10" fill="#000" transform="translate(1021.9,500.0) rotate(-60)"/>
<rect x="-15.0" y="-5" width="30.0" height="10" fill="#000" transform="translate(1081.5,407.0) rotate(78)"/>
</mask>
<g clip-path="url(#cr)">
<g stroke-width="0.6" stroke-linejoin="round">
<path stroke="#213a73" fill="#213a73" d="M1090.8,45.0 1091.2,44.2 1233.3,44.2 1242.7,49.2 1249.8,52.0 1260.5,55.2 1276.8,58.8 1282.8,61.3 1293.8,70.2 1302.0,79.2 1304.2,84.2 1304.1,87.2 1303.0,90.2 1298.4,97.2 1293.3,103.2 1289.8,106.1 1284.8,108.7 1276.8,110.9 1256.7,115.2 1230.8,124.6 1194.3,135.2 1160.8,143.4 1147.8,145.5 1131.8,145.8 1113.8,144.1 1098.8,140.2 1093.8,137.2 1089.0,133.2 1073.8,110.9 1071.8,106.6 1070.2,101.2 1070.0,97.2 1072.3,70.2 1078.8,58.9 1090.7,45.2Z"/>
<path stroke="#2a6f87" fill="#2a6f87" d="M1055.8,44.6 1055.9,44.2 1091.2,44.2 1078.8,58.9 1072.7,69.2 1072.0,72.2 1069.9,98.2 1071.0,104.2 1073.4,110.2 1087.8,132.0 1095.3,138.2 1101.6,141.2 1114.8,144.3 1130.8,145.8 1139.8,146.0 1147.8,145.5 1158.8,143.8 1183.8,138.1 1194.3,135.2 1230.8,124.6 1256.7,115.2 1283.8,109.0 1289.8,106.1 1294.2,102.2 1302.4,91.2 1303.8,88.2 1304.3,85.2 1302.7,80.2 1294.8,71.2 1283.8,62.1 1279.8,59.8 1256.6,54.2 1250.3,52.2 1242.7,49.2 1233.3,44.2 1333.8,44.2 1333.8,137.4 1290.8,147.5 1278.8,148.5 1263.8,147.8 1253.8,149.0 1244.8,151.1 1222.8,158.2 1211.0,161.2 1174.0,168.2 1144.8,172.3 1129.8,172.8 1096.8,162.4 1080.8,160.9 1075.9,158.2 1070.8,154.2 1066.8,150.0 1061.8,143.2 1049.8,124.0 1046.5,116.2 1044.1,108.2 1042.7,98.2 1043.8,78.0 1044.7,70.2 1047.8,60.9 1055.7,45.2ZM928.8,397.2 934.8,396.3 938.8,396.8 949.4,400.2 955.5,404.2 958.9,408.2 961.6,414.2 963.4,421.2 964.0,428.2 963.7,438.2 961.8,449.7 959.8,456.6 956.6,463.2 951.7,470.2 945.8,476.0 938.8,480.2 931.8,482.6 925.8,483.1 919.8,481.9 913.8,478.9 907.8,473.8 903.8,468.8 900.8,462.4 899.5,456.2 898.6,447.2 898.9,438.2 900.7,428.2 902.9,421.2 905.8,415.2 910.2,409.2 916.8,403.1 922.8,399.1 928.7,397.2Z"/>
<path stroke="#36998f" fill="#36998f" d="M1033.8,44.2 1055.9,44.2 1047.8,60.9 1044.7,70.2 1043.8,78.0 1042.7,98.2 1044.1,108.2 1046.5,116.2 1049.8,124.0 1061.8,143.2 1066.8,150.0 1070.8,154.2 1075.9,158.2 1080.8,160.9 1096.8,162.4 1129.8,172.8 1144.8,172.3 1174.0,168.2 1211.0,161.2 1222.8,158.2 1244.8,151.1 1253.8,149.0 1263.8,147.8 1278.8,148.5 1290.8,147.5 1333.8,137.4 1333.8,162.3 1318.8,169.3 1311.0,172.2 1298.8,174.7 1285.8,175.3 1272.8,174.1 1259.8,171.0 1254.8,171.0 1247.8,172.6 1234.8,177.9 1225.8,180.2 1190.8,184.5 1147.8,192.6 1130.8,195.3 1102.8,188.4 1080.6,187.2 1066.2,181.2 1058.8,176.5 1053.0,171.2 1038.8,152.5 1032.1,145.2 1028.2,134.2 1025.7,124.2 1024.0,112.2 1023.4,96.2 1024.1,87.2 1026.4,74.2 1026.6,67.2 1033.1,44.2ZM933.8,361.1 944.8,361.2 952.5,363.2 958.8,365.5 963.8,368.1 968.8,371.5 974.3,376.2 979.2,381.2 985.8,390.4 988.8,396.3 991.7,404.2 993.8,416.2 994.0,430.2 992.8,442.2 989.8,456.9 986.8,465.8 981.0,478.2 968.8,489.6 956.4,498.2 947.8,506.0 938.8,510.2 926.8,513.7 921.8,514.2 916.8,513.7 910.8,512.2 906.3,510.2 900.2,506.2 892.8,500.2 881.8,488.5 879.3,483.2 874.8,469.2 873.8,446.2 874.9,430.2 878.8,415.7 882.8,406.3 893.9,389.2 901.8,379.5 912.5,370.2 921.5,365.2 933.2,361.2ZM928.7,397.2 922.8,399.1 916.8,403.1 910.2,409.2 905.8,415.2 902.9,421.2 900.7,428.2 898.9,438.2 898.6,447.2 899.5,456.2 900.8,462.4 903.8,468.8 907.8,473.8 913.8,478.9 919.8,481.9 925.8,483.1 931.8,482.6 938.8,480.2 945.8,476.0 951.7,470.2 956.6,463.2 959.8,456.6 961.8,449.7 963.7,438.2 964.0,428.2 963.4,421.2 961.6,414.2 958.9,408.2 955.5,404.2 949.4,400.2 938.8,396.8 934.8,396.3 928.8,397.2Z"/>
<path stroke="#4aac8d" fill="#4aac8d" d="M1019.8,44.2 1033.1,44.2 1026.6,67.2 1026.4,74.2 1024.1,87.2 1023.4,96.2 1024.0,112.2 1025.6,123.2 1028.2,134.2 1031.8,144.5 1032.8,146.2 1038.8,152.5 1050.3,168.2 1056.0,174.2 1064.8,180.5 1078.8,186.7 1082.8,187.4 1102.8,188.4 1127.8,194.9 1131.8,195.2 1190.8,184.5 1225.8,180.2 1234.8,177.9 1247.8,172.6 1254.8,171.0 1259.8,171.0 1270.8,173.7 1281.8,175.1 1292.8,175.2 1302.3,174.2 1314.8,171.0 1333.8,162.3 1333.8,183.0 1323.8,188.4 1318.8,190.4 1304.8,193.6 1290.8,194.1 1276.8,192.8 1269.8,191.4 1259.8,188.4 1254.8,188.2 1222.4,198.2 1167.8,209.7 1158.8,212.9 1143.8,220.5 1137.8,221.5 1129.8,219.9 1122.8,211.8 1120.8,210.7 1096.8,210.0 1074.8,207.9 1051.4,200.2 1046.6,196.2 1038.8,187.9 1031.9,179.2 1025.8,170.2 1020.0,164.2 1015.9,153.2 1010.9,135.2 1008.1,119.2 1007.4,106.2 1008.2,90.2 1011.3,67.2 1019.1,44.2ZM942.8,334.1 949.8,334.0 957.8,335.1 965.7,337.2 972.9,340.2 980.8,344.7 987.8,349.8 993.8,355.4 999.8,362.5 1005.8,372.3 1009.0,380.2 1012.4,408.2 1012.7,417.2 1012.2,427.2 1010.3,442.2 1004.3,466.2 997.8,484.4 991.9,494.2 986.8,498.6 978.6,508.2 963.8,520.0 946.8,527.3 933.8,531.5 926.8,533.1 918.8,533.4 911.8,532.7 903.8,531.0 896.8,528.2 889.8,523.9 882.7,518.2 877.0,512.2 871.8,505.3 868.7,500.2 864.6,491.2 861.7,482.2 858.5,450.2 858.7,433.2 859.4,428.2 861.6,420.2 867.9,404.2 871.1,399.2 874.9,391.2 879.9,383.2 887.8,371.7 894.8,362.8 904.8,352.7 914.8,345.3 927.8,338.6 942.1,334.2ZM933.2,361.2 921.5,365.2 912.5,370.2 901.8,379.5 893.9,389.2 882.8,406.3 878.8,415.7 874.9,430.2 873.8,446.2 874.8,469.2 879.3,483.2 881.8,488.5 892.8,500.2 900.2,506.2 906.3,510.2 910.8,512.2 916.8,513.7 921.8,514.2 926.8,513.7 938.8,510.2 947.8,506.0 956.4,498.2 968.8,489.6 981.0,478.2 986.8,465.8 989.8,456.9 992.8,442.2 994.0,430.2 993.8,416.2 991.7,404.2 988.8,396.3 985.8,390.4 979.2,381.2 974.3,376.2 968.8,371.5 963.8,368.1 958.8,365.5 952.5,363.2 944.8,361.2 933.8,361.1Z"/>
<path stroke="#72c07a" fill="#72c07a" d="M1006.8,44.2 1019.1,44.2 1011.3,67.2 1008.9,84.2 1007.5,99.2 1007.5,111.2 1008.5,122.2 1011.1,136.2 1014.0,147.2 1017.8,159.2 1020.0,164.2 1025.8,170.2 1031.9,179.2 1039.0,188.2 1048.6,198.2 1051.8,200.4 1074.8,207.9 1096.8,210.0 1120.8,210.7 1122.8,211.8 1129.8,219.9 1134.8,221.3 1138.8,221.5 1144.6,220.2 1158.1,213.2 1166.8,210.0 1178.8,207.0 1222.4,198.2 1254.8,188.2 1259.8,188.4 1270.8,191.6 1281.8,193.5 1292.8,194.2 1303.8,193.7 1319.8,190.0 1333.8,183.0 1333.8,197.3 1322.8,204.1 1314.8,207.2 1303.8,209.4 1288.8,208.2 1275.8,208.3 1270.8,207.5 1260.8,204.1 1257.8,203.7 1253.8,204.3 1236.8,210.4 1221.8,211.9 1213.8,213.5 1194.8,218.7 1175.8,226.6 1160.8,235.2 1145.3,243.2 1142.8,244.1 1139.8,244.4 1135.8,243.9 1130.8,241.5 1118.4,228.2 1113.8,225.9 1108.8,226.1 1098.8,228.5 1088.8,228.1 1072.8,228.3 1060.8,227.3 1045.8,224.8 1042.8,223.0 1016.4,200.2 1009.7,182.2 1001.4,163.2 997.0,142.2 994.2,116.2 994.0,98.2 995.8,82.5 999.4,66.2 1006.2,44.2ZM941.8,310.1 949.8,309.9 959.8,310.7 968.8,312.6 978.8,315.5 987.8,319.4 995.8,324.0 1003.8,329.8 1010.8,336.3 1017.8,344.6 1022.5,352.2 1025.1,367.2 1030.6,380.2 1031.7,384.2 1035.1,407.2 1035.0,424.2 1033.7,436.2 1032.6,440.2 1027.2,453.2 1012.8,481.9 1009.6,490.2 1001.7,506.2 996.4,515.2 991.8,520.2 974.8,530.2 960.9,539.2 881.7,539.2 866.8,523.9 858.8,512.3 854.7,504.2 847.8,481.2 846.0,441.2 846.7,414.2 847.5,411.2 856.8,400.5 861.1,390.2 865.5,383.2 878.8,366.0 892.8,346.1 899.8,337.5 904.3,333.2 909.8,329.2 928.8,317.6 937.8,311.3 941.0,310.2ZM942.1,334.2 927.8,338.6 914.8,345.3 904.8,352.7 894.8,362.8 887.8,371.7 879.9,383.2 874.9,391.2 871.1,399.2 867.9,404.2 861.6,420.2 859.4,428.2 858.7,433.2 858.5,450.2 861.7,482.2 864.6,491.2 868.7,500.2 871.8,505.3 877.0,512.2 882.7,518.2 889.8,523.9 896.8,528.2 903.8,531.0 911.8,532.7 918.8,533.4 926.8,533.1 933.8,531.5 946.8,527.3 963.8,520.0 978.6,508.2 986.8,498.6 991.9,494.2 997.8,484.4 1004.3,466.2 1010.3,442.2 1012.2,427.2 1012.7,417.2 1012.4,408.2 1009.0,380.2 1005.8,372.3 999.8,362.5 993.8,355.4 987.8,349.8 980.8,344.7 972.9,340.2 965.7,337.2 957.8,335.1 949.8,334.0 942.8,334.1Z"/>
<path stroke="#dadc48" fill="#dadc48" d="M994.8,44.2 1006.2,44.2 1000.8,61.2 997.7,73.2 995.2,86.2 994.0,98.2 994.0,113.2 995.1,128.2 997.9,147.2 1001.4,163.2 1009.7,182.2 1016.4,200.2 1044.8,224.4 1059.9,227.2 1071.8,228.3 1098.8,228.5 1108.8,226.1 1113.8,225.9 1118.4,228.2 1130.8,241.5 1135.8,243.9 1140.8,244.4 1143.8,243.8 1147.3,242.2 1176.8,226.1 1194.8,218.7 1208.8,214.6 1221.8,211.9 1236.8,210.4 1250.8,205.1 1256.8,203.8 1261.8,204.3 1269.8,207.2 1274.2,208.2 1289.8,208.2 1301.8,209.4 1306.8,209.1 1313.8,207.5 1320.8,205.0 1333.8,197.3 1333.8,210.6 1323.8,216.5 1316.9,219.2 1308.8,221.3 1301.8,221.8 1288.8,220.6 1274.8,220.4 1270.8,219.6 1260.8,216.2 1257.8,215.8 1253.8,216.4 1236.8,222.5 1216.8,225.8 1209.8,227.7 1184.8,238.0 1167.9,248.2 1158.0,253.2 1144.8,258.9 1138.8,260.3 1135.8,260.0 1131.8,257.8 1124.8,251.5 1116.8,242.8 1113.8,240.5 1110.8,239.5 1107.8,239.7 1099.8,242.7 1089.8,242.9 1051.8,247.1 1043.8,247.4 1035.8,246.6 1014.8,242.6 1005.3,238.2 1003.8,237.2 1002.8,235.8 997.9,226.2 996.8,222.2 990.4,187.2 984.0,157.2 982.3,144.2 981.5,133.2 981.5,113.2 983.1,90.2 986.8,72.2 994.6,44.2ZM977.8,282.1 982.8,281.7 988.8,282.7 992.8,284.1 997.6,287.2 1008.8,295.5 1018.8,307.2 1022.1,312.2 1029.8,330.8 1037.8,345.2 1045.8,366.3 1050.9,384.2 1051.2,391.2 1055.2,422.2 1055.8,434.2 1055.4,444.2 1053.8,456.1 1051.8,463.2 1047.8,468.9 1038.7,477.2 1035.8,480.5 1012.2,520.2 999.3,539.2 960.9,539.2 974.8,530.2 991.8,520.2 996.4,515.2 1001.7,506.2 1009.6,490.2 1012.8,481.9 1027.2,453.2 1032.6,440.2 1033.9,435.2 1035.1,423.2 1035.0,406.2 1031.7,384.2 1030.6,380.2 1025.1,367.2 1022.8,353.2 1020.8,349.0 1012.6,338.2 1001.8,328.2 989.8,320.4 976.8,314.8 966.8,312.1 957.8,310.5 945.8,309.8 939.8,310.4 937.8,311.3 928.8,317.6 905.8,332.0 900.8,336.5 894.8,343.5 878.8,366.0 866.2,382.2 861.1,390.2 856.8,400.5 848.2,410.2 847.0,412.2 846.0,443.2 848.1,483.2 854.7,504.2 858.8,512.3 866.8,523.9 881.7,539.2 862.1,539.2 851.9,524.2 847.6,516.2 844.5,508.2 841.4,494.2 835.8,483.3 835.8,431.1 837.8,426.8 839.9,408.2 842.2,398.2 842.5,392.2 846.8,383.4 851.8,375.6 880.5,339.2 890.8,325.0 895.9,319.2 901.8,314.2 906.8,311.0 921.8,303.1 936.8,292.8 958.8,287.9 977.3,282.2Z"/>
<path stroke="#fdb44f" fill="#fdb44f" d="M983.8,44.2 994.6,44.2 986.1,75.2 982.5,95.2 981.3,125.2 981.9,140.2 983.2,152.2 997.5,225.2 1003.8,237.2 1011.3,241.2 1015.8,242.8 1032.8,246.1 1046.8,247.4 1089.8,242.9 1099.8,242.7 1107.8,239.7 1110.8,239.5 1113.8,240.5 1116.8,242.8 1124.8,251.5 1131.8,257.8 1135.8,260.0 1139.8,260.3 1146.7,258.2 1162.2,251.2 1185.8,237.5 1213.8,226.4 1236.8,222.5 1250.8,217.2 1256.8,215.9 1261.8,216.4 1270.8,219.6 1274.8,220.4 1288.8,220.6 1301.8,221.8 1306.8,221.6 1313.4,220.2 1320.8,217.8 1333.8,210.6 1333.8,221.7 1321.8,227.9 1308.8,232.0 1301.8,232.6 1288.8,231.0 1274.8,230.8 1270.8,230.1 1261.8,227.1 1257.8,226.6 1251.8,227.6 1236.8,232.9 1216.8,234.4 1209.8,235.9 1200.1,240.2 1185.8,248.8 1166.8,261.2 1147.8,270.0 1140.8,272.4 1136.8,272.5 1132.8,270.8 1128.8,267.7 1115.8,255.2 1112.8,253.1 1109.8,252.4 1105.8,253.2 1089.8,258.5 1077.8,260.0 1071.8,261.4 1066.8,263.6 1063.7,266.2 1045.2,286.2 1043.5,290.2 1043.0,295.2 1044.4,301.2 1050.8,318.6 1054.8,334.9 1064.0,399.2 1074.1,426.2 1075.5,438.2 1074.8,448.2 1072.8,455.6 1069.8,462.8 1060.8,479.3 1052.8,490.2 1037.8,504.1 1028.8,514.5 1022.8,524.2 1016.6,539.2 999.3,539.2 1012.2,520.2 1035.8,480.5 1038.7,477.2 1047.8,468.9 1051.8,463.2 1053.8,456.1 1055.5,443.2 1055.8,433.2 1055.1,421.2 1051.2,391.2 1050.7,383.2 1044.8,363.3 1037.3,344.2 1030.0,331.2 1023.8,315.7 1019.6,308.2 1008.8,295.5 993.8,284.7 990.8,283.2 985.8,282.0 981.8,281.7 977.8,282.1 958.8,287.9 936.8,292.8 921.8,303.1 904.8,312.2 896.8,318.3 889.8,326.3 879.8,340.2 855.8,370.1 846.8,383.4 842.5,392.2 842.2,398.2 839.9,408.2 837.8,426.8 835.8,431.1 835.8,384.8 838.8,385.1 839.9,384.2 844.9,368.2 848.8,360.1 860.8,344.9 876.7,326.2 881.4,319.2 889.8,304.9 894.8,299.2 899.8,295.7 911.8,291.5 915.8,289.2 919.8,284.4 925.8,273.8 929.6,270.2 934.8,268.1 943.8,268.8 948.8,268.2 951.8,267.4 955.7,265.2 957.8,263.2 961.3,257.2 963.2,250.2 964.9,238.2 972.0,211.2 973.3,201.2 973.3,184.2 970.9,166.2 968.8,138.2 968.6,124.2 969.3,113.2 971.6,94.2 973.7,82.2 983.0,44.2ZM836.0,484.2 837.8,486.7 841.4,494.2 844.5,508.2 847.6,516.2 851.9,524.2 862.1,539.2 847.4,539.2 841.8,529.3 835.8,520.7 835.8,483.3Z"/>
<path stroke="#efa24f" fill="#efa24f" d="M973.8,44.2 983.0,44.2 973.7,82.2 971.6,94.2 969.3,113.2 968.6,124.2 968.8,138.2 970.9,166.2 973.3,184.2 973.3,201.2 972.0,211.2 964.9,238.2 963.2,250.2 961.3,257.2 957.8,263.2 955.7,265.2 951.8,267.4 948.8,268.2 943.8,268.8 934.8,268.1 929.6,270.2 925.8,273.8 919.8,284.4 915.8,289.2 911.8,291.5 898.9,296.2 892.8,301.2 889.8,304.9 877.4,325.2 860.8,344.9 848.8,360.2 844.9,368.2 840.3,383.2 838.8,385.1 835.8,384.8 835.8,367.8 837.8,365.9 853.1,345.2 868.8,327.2 874.8,319.4 879.4,311.2 885.3,297.2 888.8,291.5 895.8,284.5 906.8,278.4 909.8,275.9 911.4,273.2 914.0,266.2 918.8,255.7 920.8,252.2 923.5,249.2 925.8,247.7 929.8,246.7 939.8,247.7 943.8,246.9 945.8,245.9 947.8,243.9 950.8,239.3 955.3,209.2 957.2,189.2 958.4,168.2 959.4,127.2 960.8,105.2 963.8,87.2 973.5,44.2ZM1332.8,222.0 1333.8,221.7 1333.8,231.7 1321.8,237.6 1308.8,241.3 1302.8,241.9 1288.8,240.3 1273.8,240.3 1261.8,236.5 1256.8,235.9 1250.8,237.1 1236.8,241.8 1214.8,243.5 1210.8,244.4 1204.8,246.9 1197.8,250.8 1175.8,266.1 1167.8,271.0 1154.8,277.3 1141.8,282.5 1136.8,282.8 1132.7,281.2 1126.8,276.8 1115.8,266.5 1112.8,264.5 1109.8,263.7 1100.8,265.4 1093.8,269.9 1086.8,271.4 1079.8,275.5 1075.5,279.2 1068.4,288.2 1063.8,295.2 1061.9,299.2 1060.6,306.2 1060.9,319.2 1061.7,329.2 1062.8,334.2 1066.9,368.2 1068.8,378.6 1071.8,390.1 1075.8,398.2 1079.6,403.2 1081.8,409.2 1081.6,411.2 1077.9,418.2 1077.7,420.2 1084.2,440.2 1085.1,445.2 1084.8,450.2 1082.2,458.2 1079.9,463.2 1062.8,492.9 1058.8,498.4 1049.8,508.2 1041.8,518.2 1028.2,539.2 1016.6,539.2 1022.8,524.2 1026.9,517.2 1032.8,509.4 1043.8,498.2 1052.8,490.2 1058.8,482.4 1064.8,472.6 1069.8,462.8 1073.6,453.2 1075.2,446.2 1075.5,439.2 1074.8,429.9 1072.8,421.9 1067.4,409.2 1064.0,399.2 1054.8,334.9 1050.8,318.6 1044.4,301.2 1043.0,295.2 1043.5,290.2 1045.2,286.2 1063.7,266.2 1066.8,263.6 1071.8,261.4 1077.8,260.0 1089.8,258.5 1105.8,253.2 1109.8,252.4 1112.8,253.1 1115.8,255.2 1128.8,267.7 1132.8,270.8 1136.8,272.5 1140.8,272.4 1147.3,270.2 1164.8,262.2 1200.1,240.2 1205.8,237.4 1211.8,235.3 1216.8,234.4 1236.8,232.9 1251.8,227.6 1257.8,226.6 1261.8,227.1 1273.8,230.7 1288.8,231.0 1300.8,232.5 1305.8,232.5 1312.2,231.2 1320.8,228.3 1332.3,222.2ZM836.3,521.2 842.8,530.9 847.4,539.2 835.8,539.2 835.8,520.7Z"/>
<path stroke="#e57b47" fill="#e57b47" d="M966.8,44.4 973.5,44.2 963.8,87.2 960.8,105.2 959.4,127.2 958.4,168.2 957.2,189.2 955.3,209.2 950.8,239.3 947.8,243.9 945.8,245.9 943.8,246.9 939.8,247.7 931.8,246.6 928.8,246.8 924.8,248.2 922.4,250.2 918.8,255.7 914.0,266.2 911.4,273.2 909.8,275.9 906.8,278.4 895.8,284.5 890.7,289.2 885.8,296.2 878.8,312.6 872.8,322.2 853.1,345.2 836.8,367.1 835.8,367.8 835.8,360.4 846.8,344.8 863.8,324.0 869.8,315.6 874.5,306.2 880.8,287.9 885.8,279.0 891.8,272.9 901.8,267.5 904.2,265.2 907.8,259.2 913.6,243.2 918.8,236.0 922.8,232.3 925.8,230.4 937.6,226.2 940.8,223.2 942.8,219.7 943.8,213.2 944.4,190.2 946.4,167.2 946.9,153.2 951.8,111.2 953.8,99.9 962.2,66.2 966.7,45.2ZM1332.8,232.0 1333.8,231.7 1333.8,240.1 1321.8,246.4 1309.8,249.5 1301.8,250.1 1288.8,248.9 1274.8,248.7 1269.8,247.8 1261.8,245.2 1256.8,244.7 1250.8,245.8 1236.8,250.2 1215.8,251.0 1210.8,252.1 1203.8,255.1 1195.8,259.7 1176.8,274.8 1169.8,279.4 1153.9,287.2 1141.8,291.6 1136.8,292.0 1131.8,290.3 1126.8,286.9 1114.8,276.1 1112.8,275.0 1109.8,274.3 1103.8,275.4 1098.8,277.2 1090.8,282.5 1085.3,287.2 1082.1,291.2 1078.3,298.2 1075.1,306.2 1073.1,313.2 1071.9,320.2 1071.0,333.2 1071.1,352.2 1072.5,365.2 1074.8,373.0 1084.0,389.2 1090.8,396.4 1092.8,401.6 1093.8,407.6 1095.1,425.2 1094.8,436.8 1093.8,446.3 1091.8,455.6 1087.8,466.0 1054.4,523.2 1047.2,539.2 1028.2,539.2 1028.6,538.2 1042.5,517.2 1050.7,507.2 1058.8,498.4 1062.8,492.9 1080.4,462.2 1083.8,453.9 1085.0,449.2 1085.1,445.2 1084.2,440.2 1077.7,420.2 1077.9,418.2 1081.6,411.2 1081.8,409.2 1079.6,403.2 1075.8,398.2 1071.8,390.1 1068.8,378.6 1066.9,368.2 1062.8,334.2 1061.7,329.2 1060.9,319.2 1060.6,306.2 1061.9,299.2 1066.3,291.2 1074.8,279.9 1079.8,275.5 1086.8,271.4 1093.8,269.9 1100.8,265.4 1109.8,263.7 1112.8,264.5 1115.8,266.5 1125.8,275.9 1131.8,280.7 1136.8,282.8 1140.8,282.8 1148.3,280.2 1167.5,271.2 1175.8,266.1 1197.8,250.8 1205.8,246.4 1211.8,244.1 1236.8,241.8 1250.8,237.1 1256.8,235.9 1261.8,236.5 1273.8,240.3 1288.8,240.3 1300.8,241.8 1305.8,241.8 1312.8,240.4 1320.8,237.9 1332.4,232.2Z"/>
<path stroke="#cf5a3f" fill="#cf5a3f" d="M961.8,44.2 966.8,44.2 962.2,66.2 953.8,99.9 951.8,111.2 946.9,153.2 946.4,167.2 944.4,190.2 943.8,213.2 942.8,219.7 940.8,223.2 937.6,226.2 925.8,230.4 922.8,232.3 918.8,236.0 913.6,243.2 907.8,259.2 904.2,265.2 901.8,267.5 891.8,272.9 885.8,279.0 880.8,287.9 874.5,306.2 869.8,315.6 863.8,324.0 846.8,344.8 835.8,360.4 835.8,352.9 845.8,339.6 852.3,327.2 866.2,306.2 869.8,299.3 881.0,274.2 888.8,263.5 897.8,257.7 902.4,253.2 909.8,235.2 924.4,211.2 928.1,203.2 930.9,194.2 936.6,169.2 937.9,155.2 948.8,96.2 958.1,60.2 961.4,44.2ZM1333.8,240.1 1333.8,248.1 1322.8,254.2 1317.8,255.8 1303.8,256.2 1272.8,255.4 1267.8,254.9 1260.8,252.9 1257.8,252.7 1251.8,253.6 1236.8,257.5 1215.8,258.6 1211.8,259.3 1204.8,262.2 1196.0,267.2 1181.8,280.2 1169.8,288.8 1160.5,293.2 1141.8,300.0 1135.8,300.1 1128.0,297.2 1122.2,293.2 1118.1,288.2 1113.8,285.2 1110.8,284.1 1106.8,284.4 1100.8,286.6 1094.3,292.2 1086.6,303.2 1084.1,308.2 1082.0,314.2 1078.5,332.2 1078.1,348.2 1078.9,359.2 1080.6,366.2 1090.1,386.2 1094.8,393.9 1096.8,401.2 1098.2,410.2 1099.1,423.2 1099.0,434.2 1098.1,444.2 1095.9,455.2 1092.2,467.2 1087.8,477.0 1074.8,499.8 1068.6,512.2 1065.1,522.2 1060.9,539.2 1047.2,539.2 1047.5,538.2 1054.4,523.2 1082.8,475.0 1088.8,463.9 1092.7,452.2 1094.4,441.2 1095.0,422.2 1093.8,407.2 1092.8,401.6 1090.8,396.4 1084.0,389.2 1074.8,373.0 1072.5,365.2 1071.1,352.2 1071.0,333.2 1071.9,320.2 1073.1,313.2 1075.1,306.2 1078.3,298.2 1082.1,291.2 1085.3,287.2 1090.8,282.5 1098.8,277.2 1103.8,275.4 1109.8,274.3 1112.8,275.0 1114.8,276.1 1126.8,286.9 1131.7,290.2 1135.8,291.8 1140.8,291.8 1145.8,290.4 1153.8,287.2 1168.8,280.0 1176.8,274.8 1195.8,259.7 1203.8,255.1 1211.8,251.8 1215.8,251.0 1236.8,250.2 1251.8,245.5 1257.8,244.7 1261.8,245.2 1273.8,248.6 1305.8,250.0 1312.8,249.0 1320.8,246.7 1333.4,240.2Z"/>
<path stroke="#c0302e" fill="#c0302e" d="M956.8,44.2 961.4,44.2 961.2,45.2 958.1,60.2 948.8,96.2 937.9,155.2 936.6,169.2 930.9,194.2 928.1,203.2 924.4,211.2 909.8,235.2 902.4,253.2 897.8,257.7 888.8,263.5 882.3,272.2 879.5,277.2 870.8,297.2 866.2,306.2 852.3,327.2 845.8,339.6 835.8,352.9 835.8,336.4 838.5,333.2 847.8,317.5 853.8,309.2 859.8,302.5 862.8,297.9 866.8,289.0 873.2,272.2 877.3,265.2 883.0,257.2 893.4,248.2 897.8,242.2 911.8,210.8 923.8,181.0 929.8,163.9 941.8,104.5 943.5,93.2 951.8,63.0 956.3,44.2ZM1333.8,248.1 1333.8,256.0 1321.8,262.9 1310.8,265.6 1301.8,266.1 1288.8,264.7 1274.8,264.1 1270.8,263.5 1262.8,261.2 1256.8,260.7 1252.7,261.2 1236.8,266.2 1220.8,266.1 1213.6,267.2 1208.9,269.2 1195.5,277.2 1177.8,291.3 1169.8,296.9 1158.8,301.9 1141.8,307.8 1136.8,308.1 1131.8,306.8 1117.8,299.7 1110.8,298.2 1108.8,298.4 1100.8,301.6 1096.8,305.0 1090.8,317.0 1087.0,329.2 1085.7,343.2 1085.5,353.2 1087.1,362.2 1094.5,378.2 1100.3,401.2 1101.4,409.2 1102.4,432.2 1102.2,438.2 1098.5,462.2 1096.5,469.2 1088.3,489.2 1074.8,517.8 1071.8,526.5 1068.6,539.2 1060.9,539.2 1065.7,520.2 1068.2,513.2 1071.8,505.5 1086.8,478.8 1091.4,469.2 1096.2,454.2 1098.6,440.2 1099.2,429.2 1098.9,418.2 1097.8,406.4 1096.0,397.2 1094.8,393.9 1090.1,386.2 1080.8,366.9 1078.9,359.2 1078.1,349.2 1078.5,332.2 1081.8,315.0 1086.1,304.2 1089.8,298.1 1094.3,292.2 1100.8,286.6 1106.8,284.4 1110.8,284.1 1113.8,285.2 1118.1,288.2 1122.2,293.2 1127.8,297.1 1135.8,300.1 1140.8,300.2 1158.0,294.2 1169.0,289.2 1180.8,281.0 1196.0,267.2 1204.8,262.2 1211.8,259.3 1215.8,258.6 1236.8,257.5 1251.8,253.6 1257.8,252.7 1260.8,252.9 1267.8,254.9 1272.8,255.4 1315.8,256.0 1321.8,254.6 1333.5,248.2Z"/>
</g>
<path fill="none" stroke="#000" stroke-width="1.05" stroke-linejoin="round" mask="url(#mcr)" d="M1091.2,44.2 1078.8,58.9 1072.3,70.2 1069.9,99.2 1072.8,109.0 1087.8,132.0 1092.4,136.2 1096.9,139.2 1101.6,141.2 1114.4,144.2 1129.8,145.7 1139.8,146.0 1147.8,145.5 1158.8,143.8 1183.8,138.1 1194.3,135.2 1230.8,124.6 1256.7,115.2 1283.8,109.0 1289.8,106.1 1294.2,102.2 1302.4,91.2 1303.8,88.2 1304.3,85.2 1302.7,80.2 1294.8,71.2 1283.8,62.1 1279.8,59.8 1256.6,54.2 1250.3,52.2 1242.7,49.2 1233.3,44.2M1055.9,44.2 1047.8,60.9 1044.7,70.2 1043.8,78.0 1042.7,98.2 1044.1,108.2 1046.5,116.2 1049.8,124.0 1060.4,141.2 1069.7,153.2 1074.4,157.2 1079.8,160.6 1096.8,162.4 1129.8,172.8 1144.8,172.3 1174.0,168.2 1211.0,161.2 1222.8,158.2 1244.8,151.1 1253.8,149.0 1263.8,147.8 1278.8,148.5 1290.8,147.5 1333.8,137.4M928.8,397.2 922.8,399.1 917.8,402.3 911.8,407.5 906.8,413.6 903.7,419.2 901.2,426.2 899.3,435.2 898.6,442.2 898.8,450.2 899.8,458.3 901.5,464.2 903.8,468.8 908.2,474.2 914.2,479.2 919.8,481.9 925.8,483.1 933.4,482.2 940.9,479.2 946.8,475.2 952.8,468.8 957.7,461.2 960.8,453.7 962.9,444.2 964.0,433.2 963.9,425.2 962.8,418.2 960.0,410.2 956.6,405.2 953.0,402.2 949.8,400.4 939.8,397.1 935.8,396.3 928.8,397.2M1033.1,44.2 1026.6,67.2 1026.4,74.2 1024.3,86.2 1023.5,94.2 1024.5,116.2 1025.8,124.5 1028.8,136.2 1032.8,146.2 1038.8,152.5 1048.7,166.2 1053.8,172.1 1058.8,176.5 1063.8,179.9 1078.8,186.7 1082.8,187.4 1102.8,188.4 1127.8,194.9 1131.8,195.2 1190.8,184.5 1225.8,180.2 1234.8,177.9 1247.8,172.6 1254.8,171.0 1259.8,171.0 1270.8,173.7 1281.8,175.1 1292.8,175.2 1302.3,174.2 1314.8,171.0 1333.8,162.3M933.8,361.1 923.8,364.2 913.8,369.3 905.8,375.7 897.8,384.0 893.2,390.2 881.8,408.2 876.8,421.9 874.7,432.2 873.7,447.2 874.8,469.2 880.8,486.8 882.4,489.2 891.7,499.2 901.6,507.2 909.8,511.8 918.8,514.0 923.8,514.1 929.8,513.1 939.8,509.8 947.5,506.2 956.8,497.9 968.8,489.6 980.8,478.4 985.8,468.1 988.8,460.4 991.8,447.9 993.6,435.2 994.0,419.2 992.2,406.2 987.8,394.2 984.8,388.7 980.9,383.2 975.8,377.6 970.8,373.1 965.5,369.2 960.2,366.2 952.8,363.3 944.8,361.2 933.8,361.1M1019.1,44.2 1011.3,67.2 1007.9,93.2 1007.4,102.2 1007.8,115.8 1010.9,135.2 1015.9,153.2 1020.0,164.2 1025.8,170.2 1031.9,179.2 1039.0,188.2 1048.6,198.2 1051.8,200.4 1074.8,207.9 1096.8,210.0 1120.8,210.7 1122.8,211.8 1129.8,219.9 1134.8,221.3 1138.8,221.5 1144.6,220.2 1158.1,213.2 1166.8,210.0 1178.8,207.0 1222.4,198.2 1254.8,188.2 1259.8,188.4 1270.8,191.6 1281.8,193.5 1292.8,194.2 1303.8,193.7 1319.8,190.0 1333.8,183.0M942.8,334.1 928.8,338.2 916.6,344.2 906.8,351.0 895.8,361.6 884.8,375.9 873.8,393.2 871.1,399.2 867.8,404.5 863.7,414.2 859.2,429.2 858.5,438.2 858.5,450.2 861.6,481.2 863.8,489.2 868.8,500.3 872.8,506.8 877.8,513.2 882.8,518.3 888.8,523.1 894.8,527.1 899.8,529.6 905.8,531.5 912.8,532.9 920.8,533.4 927.8,532.9 934.8,531.2 947.8,526.9 963.8,520.0 979.8,507.0 986.8,498.6 991.9,494.2 997.8,484.4 1004.3,466.2 1009.4,446.2 1011.5,435.2 1012.5,423.2 1012.6,412.2 1011.7,400.2 1009.3,382.2 1007.7,376.2 1001.0,364.2 995.8,357.6 989.4,351.2 982.8,346.0 974.8,341.2 966.8,337.6 958.8,335.3 949.8,334.0 942.8,334.1M1006.2,44.2 1000.8,61.2 997.7,73.2 995.4,85.2 994.1,97.2 994.0,113.2 994.9,126.2 997.0,142.2 999.1,153.2 1002.1,165.2 1009.3,181.2 1016.4,200.2 1044.8,224.4 1059.9,227.2 1071.8,228.3 1098.8,228.5 1108.8,226.1 1113.8,225.9 1118.4,228.2 1130.8,241.5 1135.8,243.9 1140.8,244.4 1143.8,243.8 1147.3,242.2 1176.8,226.1 1194.8,218.7 1208.8,214.6 1221.8,211.9 1236.8,210.4 1250.8,205.1 1256.8,203.8 1261.8,204.3 1269.8,207.2 1274.2,208.2 1289.8,208.2 1301.8,209.4 1306.8,209.1 1313.8,207.5 1320.8,205.0 1333.8,197.3M960.9,539.2 974.8,530.2 990.6,521.2 995.7,516.2 998.8,511.4 1007.3,495.2 1012.2,483.2 1026.2,455.2 1032.3,441.2 1033.7,436.2 1034.9,425.2 1035.1,408.2 1031.7,384.2 1030.6,380.2 1025.1,367.2 1022.5,352.2 1018.8,346.0 1012.8,338.4 1006.8,332.4 999.8,326.7 991.8,321.5 983.8,317.5 975.8,314.5 963.8,311.4 955.8,310.3 945.8,309.8 939.8,310.4 937.8,311.3 928.8,317.6 908.8,329.9 900.8,336.5 893.5,345.2 878.8,366.0 865.5,383.2 861.1,390.2 856.8,400.5 848.2,410.2 847.0,412.2 846.0,443.2 848.1,483.2 854.7,504.2 858.8,512.3 866.8,523.9 881.7,539.2M994.6,44.2 986.3,74.2 982.7,93.2 981.3,119.2 982.1,142.2 984.8,162.2 989.3,182.2 997.5,225.2 1003.8,237.2 1011.3,241.2 1015.8,242.8 1032.8,246.1 1046.8,247.4 1089.8,242.9 1099.8,242.7 1107.8,239.7 1110.8,239.5 1113.8,240.5 1116.8,242.8 1124.8,251.5 1131.8,257.8 1135.8,260.0 1139.8,260.3 1146.7,258.2 1162.2,251.2 1185.8,237.5 1213.8,226.4 1236.8,222.5 1250.8,217.2 1256.8,215.9 1261.8,216.4 1270.8,219.6 1274.8,220.4 1288.8,220.6 1301.8,221.8 1306.8,221.6 1313.4,220.2 1320.8,217.8 1333.8,210.6M835.8,475.7 835.8,476.2M835.8,483.3 841.4,494.2 844.5,508.2 847.6,516.2 851.9,524.2 862.1,539.2M999.3,539.2 1012.2,520.2 1035.8,480.5 1038.7,477.2 1047.5,469.2 1051.3,464.2 1052.8,460.2 1054.6,451.2 1055.6,442.2 1055.8,433.2 1054.8,418.2 1051.2,391.2 1050.7,383.2 1045.1,364.2 1038.2,346.2 1030.0,331.2 1023.8,315.7 1019.6,308.2 1008.8,295.5 994.6,285.2 990.8,283.2 986.8,282.2 982.8,281.7 978.8,282.0 958.8,287.9 936.8,292.8 921.8,303.1 904.8,312.2 897.0,318.2 889.8,326.3 879.8,340.2 855.8,370.1 846.8,383.4 842.5,392.2 842.2,398.2 839.9,408.2 837.8,426.8 835.8,431.1M983.0,44.2 972.9,86.2 970.8,99.9 968.8,119.2 969.1,143.2 970.9,166.2 972.5,176.2 973.4,187.2 973.1,204.2 971.6,213.2 964.9,238.2 963.2,250.2 960.4,259.2 956.9,264.2 953.8,266.4 950.8,267.7 942.8,268.8 935.8,267.9 929.8,270.1 925.8,273.8 919.8,284.4 915.8,289.2 911.8,291.5 899.8,295.7 893.8,300.2 889.8,304.9 877.4,325.2 860.8,344.9 848.8,360.1 844.9,368.2 839.9,384.2 838.8,385.1 835.8,384.8M835.8,520.7 841.8,529.3 847.4,539.2M1016.6,539.2 1022.8,524.2 1028.8,514.5 1037.8,504.1 1052.8,490.2 1060.8,479.3 1069.8,462.8 1072.8,455.6 1074.8,448.2 1075.5,438.2 1074.1,426.2 1064.0,399.2 1054.8,334.9 1050.8,318.6 1044.4,301.2 1043.0,294.2 1043.8,289.1 1045.2,286.2 1064.7,265.2 1067.8,263.0 1072.8,261.1 1089.8,258.5 1106.8,252.9 1110.8,252.5 1113.8,253.7 1116.8,256.0 1131.9,270.2 1135.8,272.2 1140.8,272.4 1147.3,270.2 1164.8,262.2 1200.1,240.2 1205.8,237.4 1211.8,235.3 1216.8,234.4 1236.8,232.9 1251.8,227.6 1257.8,226.6 1261.8,227.1 1273.8,230.7 1288.8,231.0 1300.8,232.5 1305.8,232.5 1312.2,231.2 1320.8,228.3 1333.8,221.7M973.5,44.2 963.8,87.2 960.8,105.2 959.4,127.2 958.4,168.2 957.2,189.2 955.3,209.2 950.8,239.3 947.8,243.9 945.8,245.9 943.8,246.9 939.8,247.7 931.8,246.6 928.8,246.8 924.8,248.2 921.8,250.9 917.8,257.8 910.4,275.2 907.1,278.2 895.8,284.5 889.8,290.2 885.8,296.2 879.4,311.2 874.8,319.4 868.8,327.2 853.1,345.2 837.8,365.9 835.8,367.8M1028.2,539.2 1041.8,518.2 1049.8,508.2 1058.8,498.4 1062.8,492.9 1079.9,463.2 1082.2,458.2 1084.8,450.2 1085.1,445.2 1084.2,440.2 1077.7,420.2 1077.9,418.2 1081.6,411.2 1081.8,409.2 1079.6,403.2 1075.8,398.2 1071.8,390.1 1068.8,378.6 1066.9,368.2 1062.8,334.2 1061.7,329.2 1060.9,318.2 1060.7,305.2 1062.3,298.2 1069.1,287.2 1075.8,278.9 1079.8,275.5 1086.8,271.4 1093.8,269.9 1100.8,265.4 1109.8,263.7 1112.8,264.5 1115.8,266.5 1125.8,275.9 1131.8,280.7 1136.8,282.8 1140.8,282.8 1148.3,280.2 1167.5,271.2 1175.8,266.1 1197.8,250.8 1205.8,246.4 1211.8,244.1 1236.8,241.8 1250.8,237.1 1256.8,235.9 1261.8,236.5 1273.8,240.3 1288.8,240.3 1300.8,241.8 1305.8,241.8 1312.8,240.4 1320.8,237.9 1333.8,231.7M966.8,44.2 962.2,66.2 953.8,99.9 951.8,111.2 946.9,153.2 946.4,167.2 944.4,190.2 943.8,213.2 942.8,219.7 940.8,223.2 937.6,226.2 925.8,230.4 922.8,232.3 918.8,236.0 913.6,243.2 907.8,259.2 904.2,265.2 901.8,267.5 891.8,272.9 885.8,279.0 880.8,287.9 874.5,306.2 869.8,315.6 863.8,324.0 846.8,344.8 835.8,360.4M1047.2,539.2 1054.4,523.2 1087.8,466.0 1091.8,455.6 1093.8,446.3 1094.8,436.8 1095.1,425.2 1093.8,407.6 1092.8,401.6 1090.8,396.4 1084.0,389.2 1074.8,373.0 1072.5,365.2 1071.1,352.2 1071.0,333.2 1071.9,320.2 1073.1,313.2 1075.1,306.2 1078.3,298.2 1082.1,291.2 1085.3,287.2 1090.8,282.5 1098.8,277.2 1103.8,275.4 1109.8,274.3 1112.8,275.0 1114.8,276.1 1126.8,286.9 1131.7,290.2 1135.8,291.8 1140.8,291.8 1145.8,290.4 1153.8,287.2 1168.8,280.0 1176.8,274.8 1195.8,259.7 1203.8,255.1 1211.8,251.8 1215.8,251.0 1236.8,250.2 1251.8,245.5 1257.8,244.7 1261.8,245.2 1273.8,248.6 1305.8,250.0 1312.8,249.0 1320.8,246.7 1333.8,240.1M961.4,44.2 958.1,60.2 948.8,96.2 937.9,155.2 936.6,169.2 930.9,194.2 928.1,203.2 924.4,211.2 909.8,235.2 902.4,253.2 897.8,257.7 888.8,263.5 882.3,272.2 879.5,277.2 870.8,297.2 866.2,306.2 852.3,327.2 845.8,339.6 835.8,352.9M1060.9,539.2 1065.1,522.2 1068.6,512.2 1074.8,499.8 1087.8,477.0 1092.2,467.2 1095.9,455.2 1098.1,444.2 1099.0,434.2 1099.1,423.2 1098.2,410.2 1096.8,401.2 1094.8,393.9 1090.1,386.2 1080.6,366.2 1078.9,359.2 1078.1,348.2 1078.5,332.2 1082.0,314.2 1084.1,308.2 1086.6,303.2 1094.3,292.2 1100.8,286.6 1106.8,284.4 1110.8,284.1 1113.8,285.2 1118.1,288.2 1122.2,293.2 1127.8,297.1 1135.8,300.1 1140.8,300.2 1158.0,294.2 1169.0,289.2 1180.8,281.0 1196.0,267.2 1204.8,262.2 1211.8,259.3 1215.8,258.6 1236.8,257.5 1251.8,253.6 1257.8,252.7 1260.8,252.9 1267.8,254.9 1272.8,255.4 1315.8,256.0 1321.8,254.6 1333.8,248.1M956.3,44.2 951.8,63.0 943.5,93.2 941.8,104.5 929.8,163.9 924.8,178.4 913.8,206.0 903.8,229.6 897.8,242.2 893.4,248.2 883.0,257.2 877.3,265.2 873.2,272.2 866.8,289.0 862.8,297.9 859.8,302.5 853.8,309.2 847.8,317.5 838.5,333.2 835.8,336.4M1068.6,539.2 1071.8,526.5 1074.8,517.8 1088.3,489.2 1096.5,469.2 1098.5,462.2 1102.1,439.2 1102.4,432.2 1101.4,409.2 1100.3,401.2 1094.5,378.2 1087.1,362.2 1085.5,353.2 1085.7,343.2 1087.0,329.2 1091.8,314.6 1095.8,306.5 1097.8,303.9 1100.8,301.6 1108.8,298.4 1110.8,298.2 1117.8,299.7 1128.8,305.6 1134.8,307.7 1139.8,308.1 1144.8,306.9 1161.8,300.7 1169.8,296.9 1177.8,291.3 1195.8,277.0 1209.8,268.7 1215.8,266.7 1221.8,266.0 1236.8,266.2 1252.7,261.2 1256.8,260.7 1262.8,261.2 1273.8,264.0 1288.8,264.7 1301.8,266.1 1307.8,266.0 1314.8,264.9 1321.8,262.9 1333.8,256.0"/>
<g transform="translate(958.1,127.7) rotate(-88)"><text transform="matrix(1.12,0,0,1.0,-14.37,6.50)" font-size="18.5" fill="#000">0.4</text></g>
<g transform="translate(989.2,175.6) rotate(80)"><text transform="matrix(1.12,0,0,1.0,-14.37,6.50)" font-size="18.5" fill="#000">0.3</text></g>
<g transform="translate(1192.1,165.6) rotate(-12)"><text transform="matrix(1.12,0,0,1.0,-14.19,6.50)" font-size="18.5" fill="#000">0.1</text></g>
<g transform="translate(1098.1,210.7) rotate(0)"><text transform="matrix(1.12,0,0,1.0,-14.19,6.50)" font-size="18.5" fill="#000">0.2</text></g>
<g transform="translate(1294.3,255.5) rotate(0)"><text transform="matrix(1.12,0,0,1.0,-14.37,6.50)" font-size="18.5" fill="#000">0.5</text></g>
<g transform="translate(852.3,323.4) rotate(-50)"><text transform="matrix(1.12,0,0,1.0,-14.37,6.50)" font-size="18.5" fill="#000">0.5</text></g>
<g transform="translate(864.2,413.3) rotate(-65)"><text transform="matrix(1.12,0,0,1.0,-14.19,6.50)" font-size="18.5" fill="#000">0.2</text></g>
<g transform="translate(895.6,441.5) rotate(-88)"><text transform="matrix(1.12,0,0,1.0,-14.19,6.50)" font-size="18.5" fill="#000">0.1</text></g>
<g transform="translate(1021.9,500.0) rotate(-60)"><text transform="matrix(1.12,0,0,1.0,-14.37,6.50)" font-size="18.5" fill="#000">0.3</text></g>
<g transform="translate(1081.5,407.0) rotate(78)"><text transform="matrix(1.12,0,0,1.0,-14.37,6.50)" font-size="18.5" fill="#000">0.4</text></g>
</g>
<rect x="157.1" y="50.05" width="487.60" height="483.95" fill="none" stroke="#000" stroke-width="1.7"/>
<rect x="838.8" y="47.2" width="491.70" height="488.30" fill="none" stroke="#000" stroke-width="1.7"/>
<line x1="150.90" y1="50.05" x2="157.10" y2="50.05" stroke="#000" stroke-width="1.7"/>
<line x1="150.90" y1="118.23" x2="157.10" y2="118.23" stroke="#000" stroke-width="1.7"/>
<line x1="150.90" y1="186.41" x2="157.10" y2="186.41" stroke="#000" stroke-width="1.7"/>
<line x1="150.90" y1="254.59" x2="157.10" y2="254.59" stroke="#000" stroke-width="1.7"/>
<line x1="150.90" y1="322.77" x2="157.10" y2="322.77" stroke="#000" stroke-width="1.7"/>
<line x1="150.90" y1="390.95" x2="157.10" y2="390.95" stroke="#000" stroke-width="1.7"/>
<line x1="150.90" y1="459.13" x2="157.10" y2="459.13" stroke="#000" stroke-width="1.7"/>
<line x1="150.90" y1="527.31" x2="157.10" y2="527.31" stroke="#000" stroke-width="1.7"/>
<line x1="224.70" y1="534.00" x2="224.70" y2="540.20" stroke="#000" stroke-width="1.7"/>
<line x1="392.70" y1="534.00" x2="392.70" y2="540.20" stroke="#000" stroke-width="1.7"/>
<line x1="560.50" y1="534.00" x2="560.50" y2="540.20" stroke="#000" stroke-width="1.7"/>
<line x1="832.60" y1="47.20" x2="838.80" y2="47.20" stroke="#000" stroke-width="1.7"/>
<line x1="832.60" y1="115.98" x2="838.80" y2="115.98" stroke="#000" stroke-width="1.7"/>
<line x1="832.60" y1="184.75" x2="838.80" y2="184.75" stroke="#000" stroke-width="1.7"/>
<line x1="832.60" y1="253.53" x2="838.80" y2="253.53" stroke="#000" stroke-width="1.7"/>
<line x1="832.60" y1="322.30" x2="838.80" y2="322.30" stroke="#000" stroke-width="1.7"/>
<line x1="832.60" y1="391.07" x2="838.80" y2="391.07" stroke="#000" stroke-width="1.7"/>
<line x1="832.60" y1="459.85" x2="838.80" y2="459.85" stroke="#000" stroke-width="1.7"/>
<line x1="832.60" y1="528.62" x2="838.80" y2="528.62" stroke="#000" stroke-width="1.7"/>
<line x1="906.80" y1="535.50" x2="906.80" y2="541.70" stroke="#000" stroke-width="1.7"/>
<line x1="1076.00" y1="535.50" x2="1076.00" y2="541.70" stroke="#000" stroke-width="1.7"/>
<line x1="1245.20" y1="535.50" x2="1245.20" y2="541.70" stroke="#000" stroke-width="1.7"/>
<rect x="1362.2" y="494.72" width="11.80" height="41.07" fill="#213a73"/>
<rect x="1362.2" y="454.05" width="11.80" height="41.07" fill="#2a6f87"/>
<rect x="1362.2" y="413.38" width="11.80" height="41.07" fill="#36998f"/>
<rect x="1362.2" y="372.70" width="11.80" height="41.07" fill="#4aac8d"/>
<rect x="1362.2" y="332.02" width="11.80" height="41.07" fill="#72c07a"/>
<rect x="1362.2" y="291.35" width="11.80" height="41.07" fill="#dadc48"/>
<rect x="1362.2" y="250.68" width="11.80" height="41.07" fill="#fdb44f"/>
<rect x="1362.2" y="210.00" width="11.80" height="41.07" fill="#efa24f"/>
<rect x="1362.2" y="169.32" width="11.80" height="41.07" fill="#e57b47"/>
<rect x="1362.2" y="128.65" width="11.80" height="41.07" fill="#cf5a3f"/>
<rect x="1362.2" y="87.98" width="11.80" height="41.07" fill="#c0302e"/>
<rect x="1362.2" y="47.30" width="11.80" height="41.07" fill="#ffffff"/>
<rect x="1362.2" y="47.3" width="11.80" height="488.10" fill="none" stroke="#000" stroke-width="1.7"/>
<line x1="1374.0" y1="535.40" x2="1380.20" y2="535.40" stroke="#000" stroke-width="1.7"/>
<line x1="1374.0" y1="454.05" x2="1380.20" y2="454.05" stroke="#000" stroke-width="1.7"/>
<line x1="1374.0" y1="372.70" x2="1380.20" y2="372.70" stroke="#000" stroke-width="1.7"/>
<line x1="1374.0" y1="291.35" x2="1380.20" y2="291.35" stroke="#000" stroke-width="1.7"/>
<line x1="1374.0" y1="210.00" x2="1380.20" y2="210.00" stroke="#000" stroke-width="1.7"/>
<line x1="1374.0" y1="128.65" x2="1380.20" y2="128.65" stroke="#000" stroke-width="1.7"/>
<line x1="1374.0" y1="47.30" x2="1380.20" y2="47.30" stroke="#000" stroke-width="1.7"/>
<g clip-path="url(#cl)"><path d="M236.8,447.6 L241.5,433.0 L247.9,418.9 L258.3,404.4 L283.3,371.0 L300.5,348.7 L303.2,336.0 L303.2,305.0 L311.5,280.8 L327.5,245.5 L350.8,227.5 L352.5,212.0 L356.0,196.0 L360.0,180.0 L368.5,162.0 L393.7,141.0 L428.4,95.0 L468.0,89.5 L566.2,89.2" fill="none" stroke="#fff" stroke-width="2.2" stroke-dasharray="7.7,3.3"/></g>
<g clip-path="url(#cr)"><path d="M939.5,430.8 L951.8,400.8 L970.9,373.5 L983.1,346.3 L994.0,319.0 L1000.2,287.7 L1000.4,243.0 L1013.5,214.1 L1044.0,199.4 L1054.1,175.7 L1067.6,155.5 L1080.0,137.0 L1092.4,119.4 L1139.8,82.0 L1239.5,82.0" fill="none" stroke="#fff" stroke-width="2.2" stroke-dasharray="7.7,3.3"/></g>
<clipPath id="cb"><rect x="125.0" y="682.0" width="585.3" height="484.3"/></clipPath>
<g clip-path="url(#cb)">
<path d="M145.3,706.4 L145.6,708.6 L145.9,710.8 L146.2,713.0 L146.5,715.2 L146.8,717.5 L147.1,719.5 L147.4,721.1 L147.7,722.7 L148.0,724.3 L148.3,725.9 L148.6,727.5 L148.9,729.1 L149.2,730.7 L149.5,732.4 L149.8,734.0 L150.1,735.6 L150.4,737.2 L150.7,738.9 L151.0,740.5 L151.3,742.2 L151.6,743.8 L151.9,745.4 L152.2,747.0 L152.4,748.6 L152.7,750.1 L153.0,751.7 L153.3,753.2 L153.6,754.8 L153.9,756.3 L154.2,757.9 L154.5,759.5 L154.8,761.0 L155.1,762.6 L155.4,764.2 L155.7,765.7 L156.0,767.3 L156.3,768.9 L156.6,770.4 L156.9,772.0 L157.2,773.6 L157.5,775.1 L157.8,776.7 L158.1,778.3 L158.4,779.9 L158.7,781.4 L159.0,783.0 L159.3,784.6 L159.6,786.1 L159.9,787.7 L160.2,789.3 L160.5,790.9 L160.8,792.4 L161.2,794.0 L161.5,795.6 L161.8,797.1 L162.1,798.7 L162.4,800.3 L162.7,801.8 L163.0,803.4 L163.3,805.0 L163.6,806.5 L163.9,808.1 L164.2,809.7 L164.6,811.2 L164.9,812.8 L165.2,814.3 L165.5,815.8 L165.8,817.4 L166.1,818.9 L166.5,820.4 L166.8,821.9 L167.1,823.5 L167.4,825.0 L167.7,826.5 L168.1,828.0 L168.4,829.5 L168.7,831.0 L169.0,832.5 L169.4,834.0 L169.7,835.5 L170.0,837.0 L170.4,838.5 L170.7,840.0 L171.0,841.4 L171.4,842.9 L171.7,844.4 L172.0,845.8 L172.4,847.3 L172.7,848.8 L173.0,850.2 L173.4,851.7 L173.7,853.1 L174.1,854.5 L174.4,856.0 L174.8,857.4 L175.1,858.8 L175.5,860.2 L175.8,861.6 L176.2,863.0 L176.5,864.5 L176.9,865.9 L177.3,867.3 L177.7,868.7 L178.0,870.1 L178.4,871.5 L178.8,872.9 L179.2,874.3 L179.6,875.7 L180.0,877.1 L180.4,878.4 L180.8,879.8 L181.2,881.2 L181.6,882.6 L182.1,884.0 L182.5,885.4 L182.9,886.8 L183.4,888.2 L183.8,889.6 L184.3,891.0 L184.8,892.4 L185.3,893.9 L185.7,895.3 L186.2,896.7 L186.7,898.1 L187.3,899.6 L187.8,901.0 L188.3,902.5 L188.9,903.9 L189.4,905.4 L190.0,906.9 L190.6,908.3 L191.1,909.8 L191.7,911.3 L192.4,912.8 L193.0,914.3 L193.6,915.8 L194.2,917.4 L194.9,918.9 L195.6,920.5 L196.3,922.0 L196.9,923.6 L197.7,925.2 L198.4,926.8 L199.1,928.4 L199.9,930.0 L200.6,931.6 L201.4,933.2 L202.2,934.8 L203.0,936.3 L203.8,937.9 L204.6,939.5 L205.5,941.0 L206.3,942.6 L207.2,944.1 L208.1,945.5 L209.0,947.0 L209.9,948.4 L210.8,949.8 L211.8,951.1 L212.7,952.3 L213.7,953.6 L214.6,954.7 L215.6,955.8 L216.6,956.9 L217.6,957.9 L218.7,958.8 L219.7,959.7 L220.7,960.5 L221.8,961.1 L222.9,961.7 L223.9,962.2 L225.0,962.7 L226.1,963.0 L227.2,963.3 L228.4,963.4 L229.5,963.5 L230.6,963.5 L231.8,963.5 L232.9,963.5 L234.0,963.5 L235.2,963.4 L236.4,963.2 L237.5,962.9 L238.7,962.6 L239.8,962.3 L241.0,961.8 L242.2,961.4 L243.3,960.8 L244.5,960.2 L245.7,959.6 L246.8,958.9 L248.0,958.2 L249.1,957.5 L250.3,956.7 L251.4,955.8 L252.6,954.9 L253.7,954.0 L254.8,953.0 L255.9,952.0 L257.0,950.9 L258.1,949.8 L259.2,948.7 L260.3,947.5 L261.4,946.3 L262.4,945.0 L263.5,943.7 L264.5,942.3 L265.5,940.9 L266.5,939.5 L267.5,938.1 L268.5,936.6 L269.4,935.1 L270.4,933.6 L271.3,932.1 L272.2,930.6 L273.1,929.0 L273.9,927.4 L274.8,925.9 L275.6,924.3 L276.4,922.7 L277.1,921.1 L277.9,919.4 L278.6,917.8 L279.3,916.2 L280.0,914.6 L280.7,912.9 L281.3,911.2 L281.9,909.5 L282.4,907.8 L283.0,906.2 L283.5,904.5 L284.0,902.9 L284.4,901.3 L284.9,899.7 L285.3,898.1 L285.7,896.5 L286.0,894.9 L286.4,893.3 L286.8,891.8 L287.1,890.2 L287.4,888.7 L287.8,887.2 L288.1,885.7 L288.5,884.2 L288.8,882.7 L289.2,881.2 L289.6,879.7 L289.9,878.3 L290.4,876.8 L290.8,875.4 L291.2,874.0 L291.7,872.6 L292.2,871.2 L292.8,869.8 L293.4,868.4 L294.0,867.0 L294.6,865.7 L295.4,864.3 L296.1,862.9 L296.9,861.5 L297.8,860.1 L298.7,858.7 L299.7,857.4 L300.7,856.1 L301.7,854.8 L302.8,853.8 L303.8,852.9 L304.9,852.2 L306.0,852.1 L307.0,852.3 L308.0,852.7 L308.9,853.4 L309.8,854.2 L310.7,855.3 L311.6,856.5 L312.5,857.8 L313.3,859.2 L314.0,860.7 L314.8,862.3 L315.5,863.8 L316.2,865.3 L316.8,866.8 L317.5,868.4 L318.1,869.9 L318.6,871.4 L319.2,873.0 L319.7,874.5 L320.2,876.1 L320.7,877.7 L321.1,879.2 L321.5,880.8 L322.0,882.4 L322.3,884.0 L322.7,885.6 L323.1,887.2 L323.4,888.8 L323.8,890.4 L324.1,892.0 L324.4,893.6 L324.7,895.2 L325.0,896.8 L325.3,898.4 L325.6,900.0 L325.9,901.6 L326.2,903.2 L326.5,904.8 L326.7,906.4 L327.0,908.1 L327.3,909.7 L327.6,911.3 L327.9,912.9 L328.2,914.5 L328.5,916.1 L328.8,917.7 L329.1,919.3 L329.4,920.9 L329.8,922.5 L330.1,924.1 L330.5,925.7 L330.9,927.2 L331.3,928.8 L331.6,930.3 L332.0,931.9 L332.4,933.5 L332.9,935.0 L333.3,936.6 L333.7,938.1 L334.1,939.6 L334.6,941.2 L335.0,942.7 L335.5,944.2 L335.9,945.8 L336.4,947.3 L336.8,948.8 L337.3,950.3 L337.8,951.9 L338.3,953.4 L338.7,954.9 L339.2,956.4 L339.7,957.9 L340.2,959.4 L340.7,960.9 L341.2,962.4 L341.7,963.9 L342.2,965.4 L342.6,966.9 L343.1,968.4 L343.6,969.9 L344.1,971.4 L344.6,972.9 L345.1,974.3 L345.6,975.8 L346.1,977.3 L346.6,978.8 L347.0,980.3 L347.5,981.7 L348.0,983.2 L348.5,984.7 L348.9,986.1 L349.4,987.6 L349.9,989.1 L350.3,990.5 L350.8,992.0 L351.2,993.4 L351.7,994.9 L352.1,996.4 L352.5,997.8 L353.0,999.3 L353.4,1000.7 L353.8,1002.2 L354.3,1003.6 L354.7,1005.1 L355.1,1006.5 L355.6,1008.0 L356.0,1009.4 L356.4,1010.8 L356.8,1012.3 L357.3,1013.7 L357.7,1015.2 L358.1,1016.6 L358.6,1018.0 L359.0,1019.5 L359.5,1020.9 L359.9,1022.4 L360.3,1023.8 L360.8,1025.2 L361.2,1026.7 L361.7,1028.1 L362.2,1029.5 L362.6,1031.0 L363.1,1032.4 L363.6,1033.8 L364.1,1035.3 L364.6,1036.7 L365.1,1038.1 L365.6,1039.6 L366.1,1041.0 L366.6,1042.5 L367.1,1043.9 L367.7,1045.3 L368.2,1046.8 L368.8,1048.2 L369.3,1049.6 L369.9,1051.1 L370.5,1052.5 L371.1,1054.0 L371.7,1055.4 L372.3,1056.8 L372.9,1058.3 L373.5,1059.7 L374.2,1061.2 L374.8,1062.6 L375.5,1064.1 L376.2,1065.5 L376.9,1067.0 L377.6,1068.4 L378.3,1069.9 L379.1,1071.3 L379.8,1072.8 L380.6,1074.2 L381.3,1075.7 L382.1,1077.1 L382.9,1078.6 L383.7,1080.0 L384.6,1081.4 L385.4,1082.8 L386.3,1084.3 L387.1,1085.7 L388.0,1087.1 L388.9,1088.5 L389.8,1089.9 L390.7,1091.2 L391.6,1092.6 L392.6,1094.0 L393.5,1095.3 L394.5,1096.7 L395.4,1098.0 L396.4,1099.3 L397.4,1100.6 L398.4,1101.9 L399.5,1103.2 L400.0,1103.8 L402.1,1106.3 L404.1,1108.6 L406.2,1110.9 L408.3,1113.0 L410.3,1115.0 L412.4,1116.9 L414.5,1118.8 L416.6,1120.5 L418.6,1122.1 L420.7,1123.7 L422.8,1125.1 L424.8,1126.4 L426.9,1127.7 L429.0,1128.8 L431.0,1129.9 L433.1,1130.9 L435.2,1131.8 L437.2,1132.6 L439.3,1133.3 L441.4,1133.9 L443.4,1134.3 L445.5,1134.7 L447.6,1135.0 L449.7,1135.2 L451.7,1135.3 L453.8,1135.3 L455.9,1135.3 L457.9,1135.3 L460.0,1135.3 L460.3,1135.2 L461.1,1135.2 L461.9,1135.1 L462.7,1135.0 L463.5,1134.9 L464.3,1134.8 L465.1,1134.7 L465.9,1134.6 L466.7,1134.4 L467.4,1134.3 L468.2,1134.1 L469.0,1134.0 L469.8,1133.8 L470.6,1133.6 L471.4,1133.4 L472.2,1133.2 L473.0,1133.0 L473.8,1132.8 L474.5,1132.6 L475.3,1132.3 L476.1,1132.1 L476.9,1131.9 L477.7,1131.6 L478.5,1131.4 L479.3,1131.1 L480.0,1130.8 L480.8,1130.6 L481.6,1130.3 L482.4,1130.0 L483.2,1129.7 L484.0,1129.5 L484.7,1129.2 L485.5,1128.9 L486.3,1128.6 L487.1,1128.3 L487.9,1128.0 L488.7,1127.7 L489.4,1127.4 L490.2,1127.1 L491.0,1126.8 L491.8,1126.5 L492.6,1126.2 L493.3,1125.9 L494.1,1125.6 L494.9,1125.3 L495.7,1125.0 L496.5,1124.7 L497.2,1124.4 L498.0,1124.2 L498.8,1123.9 L499.6,1123.6 L500.3,1123.3 L501.1,1123.0 L501.9,1122.7 L502.7,1122.4 L503.4,1122.1 L504.2,1121.8 L505.0,1121.5 L505.8,1121.2 L506.5,1121.0 L507.3,1120.7 L508.1,1120.4 L508.9,1120.1 L509.6,1119.8 L510.4,1119.6 L511.2,1119.3 L511.9,1119.0 L512.7,1118.8 L513.5,1118.5 L514.3,1118.2 L515.0,1118.0 L515.8,1117.7 L516.6,1117.4 L517.4,1117.2 L518.1,1116.9 L518.9,1116.7 L519.7,1116.4 L520.4,1116.2 L521.2,1115.9 L522.0,1115.7 L522.8,1115.4 L523.5,1115.2 L524.3,1115.0 L525.1,1114.7 L525.9,1114.5 L526.6,1114.2 L527.4,1114.0 L528.2,1113.8 L529.0,1113.5 L529.7,1113.3 L530.5,1113.1 L531.3,1112.8 L532.1,1112.6 L532.8,1112.4 L533.6,1112.1 L534.4,1111.9 L535.2,1111.7 L535.9,1111.4 L536.7,1111.2 L537.5,1111.0 L538.3,1110.8 L539.1,1110.5 L539.8,1110.3 L540.6,1110.1 L541.4,1109.9 L542.2,1109.6 L543.0,1109.4 L543.7,1109.2 L544.5,1109.0 L545.3,1108.8 L546.1,1108.5 L546.9,1108.3 L547.7,1108.1 L548.5,1107.9 L549.2,1107.7 L550.0,1107.4 L550.8,1107.2 L551.6,1107.0 L552.4,1106.8 L553.2,1106.6 L554.0,1106.4 L554.8,1106.1 L555.5,1105.9 L556.3,1105.7 L557.1,1105.5 L557.9,1105.3 L558.7,1105.1 L559.5,1104.8 L560.3,1104.6 L561.1,1104.4 L561.9,1104.2 L562.7,1104.0 L563.5,1103.8 L564.2,1103.6 L565.0,1103.3 L565.8,1103.1 L566.6,1102.9 L567.4,1102.7 L568.2,1102.5 L569.0,1102.3 L569.8,1102.1 L570.6,1101.8 L571.4,1101.6 L572.2,1101.4 L573.0,1101.2 L573.8,1101.0 L574.6,1100.8 L575.4,1100.6 L576.2,1100.3 L577.0,1100.1 L577.7,1099.9 L578.5,1099.7 L579.3,1099.5 L580.1,1099.3 L580.9,1099.1 L581.7,1098.8 L582.5,1098.6 L583.3,1098.4 L584.1,1098.1 L584.9,1097.9 L585.7,1097.6 L586.5,1097.4 L587.3,1097.1 L588.1,1096.9 L588.9,1096.6 L589.7,1096.4 L590.5,1096.1 L591.3,1095.9 L592.1,1095.6 L592.9,1095.3 L593.7,1095.1 L594.5,1094.8 L595.2,1094.6 L596.0,1094.3 L596.8,1094.1 L597.6,1093.8 L598.4,1093.5 L599.2,1093.3 L600.0,1093.0 L600.8,1092.8 L601.6,1092.5 L602.4,1092.3 L603.2,1092.0 L604.0,1091.7 L604.8,1091.5 L605.6,1091.2 L606.4,1091.0 L607.2,1090.7 L607.9,1090.5 L608.7,1090.2 L609.5,1089.9 L610.3,1089.7 L611.1,1089.4 L611.9,1089.2 L612.7,1088.9 L613.5,1088.6 L614.3,1088.4 L615.1,1088.1 L615.8,1087.8 L616.6,1087.6 L617.4,1087.3 L618.2,1087.1 L619.0,1086.8 L619.8,1086.5 L620.6,1086.3 L621.4,1086.0 L622.1,1085.7 L622.9,1085.5 L623.7,1085.2 L624.5,1084.9 L625.3,1084.7 L626.1,1084.4 L626.8,1084.1 L627.6,1083.8 L628.4,1083.5 L629.2,1083.2 L630.0,1082.8 L630.8,1082.5 L631.5,1082.2 L632.3,1081.9 L633.1,1081.5 L633.9,1081.2 L634.6,1080.9 L635.4,1080.6 L636.2,1080.2 L637.0,1079.9 L637.7,1079.6 L638.5,1079.2 L639.3,1078.9 L640.1,1078.5 L640.8,1078.2 L641.6,1077.9 L642.4,1077.5 L643.1,1077.2 L643.9,1076.8 L644.7,1076.5 L645.4,1076.1 L646.2,1075.8 L647.0,1075.4 L647.7,1075.1 L648.5,1074.7 L649.3,1074.3 L650.0,1074.0 L650.8,1073.6 L651.5,1073.3 L652.3,1072.9 L653.1,1072.6 L653.8,1072.2 L654.6,1072.0 L655.4,1071.7 L656.1,1071.4 L656.9,1071.2 L657.7,1071.0 L658.5,1070.9 L659.3,1070.7 L660.1,1070.6 L660.9,1070.6 L661.7,1070.5 L662.5,1070.5 L663.3,1070.5 L664.1,1070.6 L664.9,1070.6 L665.8,1070.7 L666.6,1070.8 L667.4,1070.9 L668.2,1071.0 L669.1,1071.1 L669.9,1071.2 L670.7,1071.4 L671.5,1071.5 L672.4,1071.6 L673.2,1071.8 L674.0,1071.9 L674.8,1072.0 L674.8,1093.0 L674.0,1092.7 L673.2,1092.5 L672.4,1092.2 L671.5,1091.9 L670.7,1091.6 L669.9,1091.3 L669.1,1091.0 L668.2,1090.8 L667.4,1090.5 L666.6,1090.3 L665.8,1090.0 L664.9,1089.8 L664.1,1089.6 L663.3,1089.4 L662.5,1089.2 L661.7,1089.1 L660.9,1089.0 L660.1,1088.9 L659.3,1088.9 L658.5,1088.9 L657.7,1088.9 L656.9,1088.9 L656.1,1089.0 L655.4,1089.1 L654.6,1089.3 L653.8,1089.4 L653.1,1089.5 L652.3,1089.7 L651.5,1089.9 L650.8,1090.0 L650.0,1090.2 L649.3,1090.4 L648.5,1090.6 L647.7,1090.8 L647.0,1090.9 L646.2,1091.1 L645.4,1091.3 L644.7,1091.5 L643.9,1091.6 L643.1,1091.8 L642.4,1092.0 L641.6,1092.1 L640.8,1092.3 L640.1,1092.4 L639.3,1092.6 L638.5,1092.7 L637.7,1092.9 L637.0,1093.1 L636.2,1093.2 L635.4,1093.3 L634.6,1093.5 L633.9,1093.6 L633.1,1093.8 L632.3,1093.9 L631.5,1094.1 L630.8,1094.2 L630.0,1094.3 L629.2,1094.5 L628.4,1094.6 L627.6,1094.8 L626.8,1094.9 L626.1,1095.1 L625.3,1095.3 L624.5,1095.5 L623.7,1095.7 L622.9,1095.9 L622.1,1096.0 L621.4,1096.2 L620.6,1096.4 L619.8,1096.6 L619.0,1096.8 L618.2,1097.0 L617.4,1097.2 L616.6,1097.3 L615.8,1097.5 L615.1,1097.7 L614.3,1097.9 L613.5,1098.1 L612.7,1098.3 L611.9,1098.4 L611.1,1098.6 L610.3,1098.8 L609.5,1099.0 L608.7,1099.2 L607.9,1099.3 L607.2,1099.5 L606.4,1099.7 L605.6,1099.9 L604.8,1100.1 L604.0,1100.2 L603.2,1100.4 L602.4,1100.6 L601.6,1100.8 L600.8,1101.0 L600.0,1101.1 L599.2,1101.3 L598.4,1101.5 L597.6,1101.7 L596.8,1101.8 L596.0,1102.0 L595.2,1102.2 L594.5,1102.4 L593.7,1102.6 L592.9,1102.7 L592.1,1102.9 L591.3,1103.1 L590.5,1103.3 L589.7,1103.4 L588.9,1103.6 L588.1,1103.8 L587.3,1104.0 L586.5,1104.1 L585.7,1104.3 L584.9,1104.5 L584.1,1104.7 L583.3,1104.8 L582.5,1105.0 L581.7,1105.2 L580.9,1105.5 L580.1,1105.7 L579.3,1105.9 L578.5,1106.1 L577.7,1106.3 L577.0,1106.5 L576.2,1106.7 L575.4,1107.0 L574.6,1107.2 L573.8,1107.4 L573.0,1107.6 L572.2,1107.8 L571.4,1108.0 L570.6,1108.2 L569.8,1108.5 L569.0,1108.7 L568.2,1108.9 L567.4,1109.1 L566.6,1109.3 L565.8,1109.5 L565.0,1109.7 L564.2,1110.0 L563.5,1110.2 L562.7,1110.4 L561.9,1110.6 L561.1,1110.8 L560.3,1111.0 L559.5,1111.2 L558.7,1111.5 L557.9,1111.7 L557.1,1111.9 L556.3,1112.1 L555.5,1112.3 L554.8,1112.5 L554.0,1112.8 L553.2,1113.0 L552.4,1113.2 L551.6,1113.4 L550.8,1113.6 L550.0,1113.8 L549.2,1114.1 L548.5,1114.3 L547.7,1114.5 L546.9,1114.7 L546.1,1114.9 L545.3,1115.2 L544.5,1115.4 L543.7,1115.6 L543.0,1115.8 L542.2,1116.0 L541.4,1116.3 L540.6,1116.5 L539.8,1116.7 L539.1,1116.9 L538.3,1117.1 L537.5,1117.4 L536.7,1117.6 L535.9,1117.8 L535.2,1118.0 L534.4,1118.2 L533.6,1118.5 L532.8,1118.7 L532.1,1118.9 L531.3,1119.1 L530.5,1119.4 L529.7,1119.6 L529.0,1119.8 L528.2,1120.0 L527.4,1120.3 L526.6,1120.5 L525.9,1120.7 L525.1,1121.0 L524.3,1121.2 L523.5,1121.4 L522.8,1121.7 L522.0,1121.9 L521.2,1122.1 L520.4,1122.4 L519.7,1122.6 L518.9,1122.9 L518.1,1123.1 L517.4,1123.4 L516.6,1123.6 L515.8,1123.9 L515.0,1124.1 L514.3,1124.4 L513.5,1124.6 L512.7,1124.9 L511.9,1125.1 L511.2,1125.4 L510.4,1125.7 L509.6,1125.9 L508.9,1126.2 L508.1,1126.5 L507.3,1126.7 L506.5,1127.0 L505.8,1127.3 L505.0,1127.6 L504.2,1127.9 L503.4,1128.1 L502.7,1128.4 L501.9,1128.7 L501.1,1129.0 L500.3,1129.3 L499.6,1129.6 L498.8,1129.9 L498.0,1130.3 L497.2,1130.6 L496.5,1130.9 L495.7,1131.3 L494.9,1131.6 L494.1,1131.9 L493.3,1132.3 L492.6,1132.6 L491.8,1133.0 L491.0,1133.3 L490.2,1133.6 L489.4,1134.0 L488.7,1134.3 L487.9,1134.6 L487.1,1135.0 L486.3,1135.3 L485.5,1135.7 L484.7,1136.0 L484.0,1136.3 L483.2,1136.6 L482.4,1137.0 L481.6,1137.3 L480.8,1137.6 L480.0,1137.9 L479.3,1138.2 L478.5,1138.5 L477.7,1138.8 L476.9,1139.1 L476.1,1139.4 L475.3,1139.7 L474.5,1139.9 L473.8,1140.2 L473.0,1140.5 L472.2,1140.7 L471.4,1141.0 L470.6,1141.2 L469.8,1141.4 L469.0,1141.6 L468.2,1141.9 L467.4,1142.1 L466.7,1142.3 L465.9,1142.5 L465.1,1142.6 L464.3,1142.8 L463.5,1143.0 L462.7,1143.1 L461.9,1143.2 L461.1,1143.4 L460.3,1143.5 L460.0,1143.5 L457.9,1143.7 L455.9,1143.9 L453.8,1143.8 L451.7,1143.6 L449.7,1143.2 L447.6,1142.8 L445.5,1142.3 L443.4,1141.7 L441.4,1141.0 L439.3,1140.3 L437.2,1139.6 L435.2,1138.7 L433.1,1137.8 L431.0,1136.8 L429.0,1135.7 L426.9,1134.5 L424.8,1133.3 L422.8,1131.9 L420.7,1130.4 L418.6,1128.9 L416.6,1127.2 L414.5,1125.5 L412.4,1123.6 L410.3,1121.7 L408.3,1119.6 L406.2,1117.4 L404.1,1115.2 L402.1,1112.8 L400.0,1110.3 L399.5,1109.7 L398.4,1108.4 L397.4,1107.1 L396.4,1105.8 L395.4,1104.4 L394.5,1103.1 L393.5,1101.7 L392.6,1100.4 L391.6,1099.0 L390.7,1097.6 L389.8,1096.2 L388.9,1094.8 L388.0,1093.4 L387.1,1092.0 L386.3,1090.6 L385.4,1089.2 L384.6,1087.7 L383.7,1086.3 L382.9,1084.8 L382.1,1083.4 L381.3,1081.9 L380.6,1080.5 L379.8,1079.0 L379.1,1077.6 L378.3,1076.1 L377.6,1074.6 L376.9,1073.2 L376.2,1071.7 L375.5,1070.3 L374.8,1068.8 L374.2,1067.4 L373.5,1065.9 L372.9,1064.4 L372.3,1063.0 L371.7,1061.5 L371.1,1060.1 L370.5,1058.6 L369.9,1057.2 L369.3,1055.8 L368.8,1054.3 L368.2,1052.9 L367.7,1051.4 L367.1,1050.0 L366.6,1048.5 L366.1,1047.1 L365.6,1045.7 L365.1,1044.2 L364.6,1042.8 L364.1,1041.3 L363.6,1039.9 L363.1,1038.4 L362.6,1037.0 L362.2,1035.6 L361.7,1034.1 L361.2,1032.7 L360.8,1031.2 L360.3,1029.8 L359.9,1028.4 L359.5,1026.9 L359.0,1025.5 L358.6,1024.0 L358.1,1022.6 L357.7,1021.2 L357.3,1019.7 L356.8,1018.3 L356.4,1016.8 L356.0,1015.4 L355.6,1014.0 L355.1,1012.5 L354.7,1011.1 L354.3,1009.6 L353.8,1008.2 L353.4,1006.7 L353.0,1005.3 L352.5,1003.8 L352.1,1002.4 L351.7,1000.9 L351.2,999.4 L350.8,998.0 L350.3,996.5 L349.9,995.1 L349.4,993.6 L348.9,992.1 L348.5,990.7 L348.0,989.2 L347.5,987.7 L347.0,986.3 L346.6,984.8 L346.1,983.3 L345.6,981.8 L345.1,980.3 L344.6,978.9 L344.1,977.4 L343.6,975.9 L343.1,974.4 L342.6,972.9 L342.2,971.4 L341.7,969.9 L341.2,968.4 L340.7,966.9 L340.2,965.4 L339.7,963.9 L339.2,962.4 L338.7,960.9 L338.3,959.4 L337.8,957.9 L337.3,956.3 L336.8,954.8 L336.4,953.3 L335.9,951.8 L335.5,950.2 L335.0,948.7 L334.6,947.2 L334.1,945.6 L333.7,944.1 L333.3,942.6 L332.9,941.0 L332.4,939.5 L332.0,937.9 L331.6,936.3 L331.3,934.8 L330.9,933.2 L330.5,931.7 L330.1,930.1 L329.8,928.5 L329.4,927.0 L329.1,925.4 L328.8,923.9 L328.5,922.3 L328.2,920.7 L327.9,919.2 L327.6,917.6 L327.3,916.0 L327.0,914.5 L326.7,912.9 L326.5,911.3 L326.2,909.7 L325.9,908.2 L325.6,906.6 L325.3,905.0 L325.0,903.4 L324.7,901.9 L324.4,900.3 L324.1,898.7 L323.8,897.2 L323.4,895.6 L323.1,894.1 L322.7,892.5 L322.3,891.0 L322.0,889.5 L321.5,887.9 L321.1,886.4 L320.7,884.9 L320.2,883.4 L319.7,881.9 L319.2,880.4 L318.6,879.0 L318.1,877.5 L317.5,876.0 L316.8,874.6 L316.2,873.1 L315.5,871.7 L314.8,870.3 L314.0,869.0 L313.3,867.8 L312.5,866.6 L311.6,865.6 L310.7,864.6 L309.8,863.9 L308.9,863.3 L308.0,862.9 L307.0,862.8 L306.0,863.0 L304.9,863.4 L303.8,863.8 L302.8,864.5 L301.7,865.3 L300.7,866.3 L299.7,867.4 L298.7,868.6 L297.8,869.7 L296.9,870.9 L296.1,872.2 L295.4,873.4 L294.6,874.7 L294.0,876.0 L293.4,877.3 L292.8,878.7 L292.2,880.1 L291.7,881.4 L291.2,882.8 L290.8,884.2 L290.4,885.6 L289.9,887.1 L289.6,888.5 L289.2,890.0 L288.8,891.4 L288.5,892.9 L288.1,894.4 L287.8,895.9 L287.4,897.4 L287.1,898.9 L286.8,900.4 L286.4,902.0 L286.0,903.5 L285.7,905.1 L285.3,906.7 L284.9,908.3 L284.4,909.8 L284.0,911.5 L283.5,913.1 L283.0,914.7 L282.4,916.3 L281.9,918.0 L281.3,919.6 L280.7,921.3 L280.0,923.0 L279.3,924.7 L278.6,926.4 L277.9,928.1 L277.1,929.9 L276.4,931.6 L275.6,933.3 L274.8,935.0 L273.9,936.7 L273.1,938.4 L272.2,940.1 L271.3,941.8 L270.4,943.4 L269.4,945.1 L268.5,946.7 L267.5,948.3 L266.5,949.9 L265.5,951.4 L264.5,953.0 L263.5,954.5 L262.4,955.9 L261.4,957.4 L260.3,958.9 L259.2,960.3 L258.1,961.7 L257.0,963.1 L255.9,964.4 L254.8,965.7 L253.7,967.0 L252.6,968.2 L251.4,969.3 L250.3,970.4 L249.1,971.5 L248.0,972.5 L246.8,973.5 L245.7,974.4 L244.5,975.3 L243.3,976.0 L242.2,976.7 L241.0,977.3 L239.8,977.8 L238.7,978.3 L237.5,978.8 L236.4,979.1 L235.2,979.4 L234.0,979.6 L232.9,979.8 L231.8,979.8 L230.6,979.7 L229.5,979.4 L228.4,979.1 L227.2,978.7 L226.1,978.2 L225.0,977.7 L223.9,977.0 L222.9,976.3 L221.8,975.5 L220.7,974.6 L219.7,973.6 L218.7,972.6 L217.6,971.4 L216.6,970.2 L215.6,969.0 L214.6,967.6 L213.7,966.2 L212.7,964.7 L211.8,963.2 L210.8,961.6 L209.9,960.0 L209.0,958.4 L208.1,956.7 L207.2,955.0 L206.3,953.2 L205.5,951.5 L204.6,949.7 L203.8,947.9 L203.0,946.1 L202.2,944.3 L201.4,942.5 L200.6,940.8 L199.9,939.0 L199.1,937.2 L198.4,935.5 L197.7,933.8 L196.9,932.1 L196.3,930.5 L195.6,928.8 L194.9,927.2 L194.2,925.5 L193.6,923.9 L193.0,922.3 L192.4,920.7 L191.7,919.1 L191.1,917.5 L190.6,915.9 L190.0,914.4 L189.4,912.8 L188.9,911.3 L188.3,909.7 L187.8,908.2 L187.3,906.7 L186.7,905.2 L186.2,903.6 L185.7,902.1 L185.3,900.6 L184.8,899.2 L184.3,897.7 L183.8,896.2 L183.4,894.7 L182.9,893.3 L182.5,891.8 L182.1,890.3 L181.6,888.9 L181.2,887.4 L180.8,886.0 L180.4,884.5 L180.0,883.1 L179.6,881.6 L179.2,880.2 L178.8,878.7 L178.4,877.3 L178.0,875.9 L177.7,874.4 L177.3,873.0 L176.9,871.5 L176.5,870.1 L176.2,868.6 L175.8,867.2 L175.5,865.7 L175.1,864.3 L174.8,862.8 L174.4,861.4 L174.1,859.9 L173.7,858.4 L173.4,856.9 L173.0,855.5 L172.7,854.0 L172.4,852.5 L172.0,851.0 L171.7,849.5 L171.4,848.0 L171.0,846.5 L170.7,845.0 L170.4,843.5 L170.0,841.9 L169.7,840.4 L169.4,838.9 L169.0,837.3 L168.7,835.8 L168.4,834.3 L168.1,832.7 L167.7,831.2 L167.4,829.6 L167.1,828.1 L166.8,826.5 L166.5,825.0 L166.1,823.4 L165.8,821.9 L165.5,820.3 L165.2,818.7 L164.9,817.2 L164.6,815.6 L164.2,814.1 L163.9,812.5 L163.6,810.9 L163.3,809.4 L163.0,807.8 L162.7,806.2 L162.4,804.7 L162.1,803.1 L161.8,801.5 L161.5,800.0 L161.2,798.4 L160.8,796.8 L160.5,795.3 L160.2,793.7 L159.9,792.1 L159.6,790.5 L159.3,789.0 L159.0,787.4 L158.7,785.8 L158.4,784.3 L158.1,782.7 L157.8,781.1 L157.5,779.5 L157.2,778.0 L156.9,776.4 L156.6,774.8 L156.3,773.3 L156.0,771.7 L155.7,770.1 L155.4,768.6 L155.1,767.0 L154.8,765.4 L154.5,763.9 L154.2,762.3 L153.9,760.7 L153.6,759.2 L153.3,757.6 L153.0,756.1 L152.7,754.5 L152.4,753.0 L152.2,751.4 L151.9,749.9 L151.6,748.5 L151.3,747.1 L151.0,745.7 L150.7,744.2 L150.4,742.8 L150.1,741.4 L149.8,740.0 L149.5,738.6 L149.2,737.2 L148.9,735.8 L148.6,734.4 L148.3,733.0 L148.0,731.6 L147.7,730.2 L147.4,728.8 L147.1,727.4 L146.8,726.5 L146.5,725.7 L146.2,725.0 L145.9,724.3 L145.6,723.6 L145.3,722.9 Z" fill="#1f77b4" fill-opacity="0.2"/>
<path d="M143.1,736.1 L143.4,737.6 L143.6,739.2 L143.9,740.7 L144.1,742.2 L144.3,743.8 L144.6,745.3 L144.8,746.9 L145.1,748.4 L145.4,749.9 L145.6,751.5 L145.9,753.0 L146.2,754.6 L146.4,756.1 L146.7,757.7 L147.0,759.2 L147.3,760.8 L147.6,762.3 L147.8,763.9 L148.1,765.4 L148.4,767.0 L148.7,768.5 L149.0,770.1 L149.3,771.7 L149.6,773.2 L149.9,774.8 L150.3,776.3 L150.6,777.9 L150.9,779.5 L151.2,781.0 L151.5,782.6 L151.8,784.2 L152.2,785.7 L152.5,787.3 L152.8,788.9 L153.1,790.4 L153.5,792.0 L153.8,793.5 L154.1,795.1 L154.5,796.7 L154.8,798.2 L155.2,799.8 L155.5,801.4 L155.9,803.0 L156.2,804.5 L156.5,806.1 L156.9,807.7 L157.2,809.2 L157.6,810.8 L157.9,812.4 L158.3,813.9 L158.7,815.5 L159.0,817.1 L159.4,818.6 L159.7,820.2 L160.1,821.8 L160.4,823.3 L160.8,824.9 L161.2,826.4 L161.5,828.0 L161.9,829.5 L162.2,831.1 L162.6,832.6 L163.0,834.2 L163.3,835.7 L163.7,837.3 L164.1,838.8 L164.4,840.4 L164.8,841.9 L165.1,843.4 L165.5,845.0 L165.9,846.5 L166.2,848.1 L166.6,849.6 L167.0,851.2 L167.3,852.7 L167.7,854.2 L168.0,855.8 L168.4,857.3 L168.8,858.8 L169.1,860.4 L169.5,861.9 L169.8,863.4 L170.2,864.9 L170.6,866.5 L170.9,868.0 L171.3,869.5 L171.6,871.0 L172.0,872.6 L172.3,874.1 L172.7,875.6 L173.0,877.1 L173.4,878.6 L173.7,880.1 L174.1,881.6 L174.4,883.2 L174.7,884.7 L175.1,886.2 L175.4,887.7 L175.8,889.2 L176.1,890.7 L176.5,892.2 L176.8,893.7 L177.1,895.2 L177.5,896.7 L177.8,898.2 L178.2,899.6 L178.5,901.1 L178.9,902.6 L179.2,904.1 L179.6,905.6 L179.9,907.1 L180.3,908.6 L180.6,910.1 L181.0,911.6 L181.3,913.0 L181.7,914.5 L182.0,916.0 L182.4,917.5 L182.8,919.0 L183.2,920.5 L183.5,921.9 L183.9,923.4 L184.3,924.9 L184.7,926.4 L185.1,927.9 L185.5,929.3 L185.9,930.8 L186.3,932.3 L186.7,933.8 L187.1,935.3 L187.5,936.7 L187.9,938.2 L188.4,939.7 L188.8,941.2 L189.3,942.7 L189.7,944.2 L190.2,945.6 L190.6,947.1 L191.1,948.5 L191.6,950.0 L192.0,951.4 L192.5,952.9 L193.0,954.4 L193.5,955.8 L194.0,957.3 L194.5,958.7 L195.1,960.2 L195.6,961.6 L196.1,963.1 L196.7,964.5 L197.2,966.0 L197.8,967.5 L198.4,968.9 L199.0,970.4 L199.6,971.8 L200.2,973.3 L200.8,974.8 L201.4,976.2 L202.0,977.7 L202.7,979.2 L203.3,980.6 L204.0,982.1 L204.7,983.6 L205.3,985.0 L206.0,986.5 L206.7,988.0 L207.5,989.5 L208.2,990.9 L208.9,992.4 L209.7,993.9 L210.4,995.4 L211.2,996.9 L212.0,998.4 L212.8,999.9 L213.6,1001.4 L214.5,1002.9 L215.3,1004.4 L216.1,1005.9 L217.0,1007.4 L217.9,1008.9 L218.8,1010.4 L219.7,1011.8 L220.6,1013.2 L221.5,1014.6 L222.5,1015.9 L223.4,1017.3 L224.4,1018.5 L225.4,1019.7 L226.4,1020.9 L227.4,1022.0 L228.4,1023.1 L229.4,1024.1 L230.5,1025.0 L231.5,1025.9 L232.6,1026.8 L233.7,1027.5 L234.8,1028.2 L235.9,1028.8 L237.0,1029.3 L238.2,1029.7 L239.3,1030.0 L240.5,1030.2 L241.6,1030.3 L242.8,1030.3 L244.0,1030.3 L245.2,1030.2 L246.5,1030.0 L247.7,1029.7 L248.9,1029.3 L250.2,1028.8 L251.4,1028.3 L252.7,1027.6 L253.9,1026.9 L255.2,1026.1 L256.5,1025.3 L257.7,1024.3 L258.9,1023.4 L260.2,1022.3 L261.4,1021.2 L262.6,1020.1 L263.8,1018.9 L265.0,1017.7 L266.2,1016.5 L267.4,1015.2 L268.5,1013.9 L269.7,1012.6 L270.8,1011.2 L271.8,1009.9 L272.9,1008.5 L273.9,1007.1 L275.0,1005.7 L275.9,1004.3 L276.9,1002.9 L277.8,1001.5 L278.7,1000.2 L279.6,998.8 L280.4,997.4 L281.3,996.1 L282.1,994.7 L282.8,993.4 L283.6,992.0 L284.3,990.7 L285.0,989.3 L285.7,988.0 L286.4,986.6 L287.0,985.3 L287.6,983.9 L288.3,982.6 L288.9,981.2 L289.5,979.9 L290.0,978.5 L290.6,977.2 L291.2,975.8 L291.7,974.4 L292.2,973.1 L292.8,971.7 L293.3,970.3 L293.8,968.9 L294.3,967.5 L294.8,966.1 L295.3,964.7 L295.8,963.2 L296.3,961.8 L296.8,960.3 L297.3,958.9 L297.8,957.4 L298.3,955.9 L298.8,954.4 L299.3,952.9 L299.9,951.4 L300.4,949.8 L300.9,948.2 L301.5,946.6 L302.0,945.0 L302.5,943.3 L303.1,941.7 L303.7,940.0 L304.2,938.3 L304.8,936.6 L305.4,934.9 L306.0,933.1 L306.6,931.4 L307.2,929.6 L307.8,927.8 L308.5,926.0 L309.1,924.2 L309.7,922.3 L310.4,920.5 L311.1,918.8 L311.7,917.0 L312.4,915.2 L313.1,913.5 L313.9,911.9 L314.6,910.3 L315.3,908.7 L316.1,907.2 L316.8,905.7 L317.6,904.3 L318.4,903.0 L319.2,901.8 L320.0,900.7 L320.9,899.6 L321.7,898.7 L322.5,897.9 L323.3,897.2 L324.2,896.6 L325.0,896.2 L325.9,895.8 L326.7,895.7 L327.5,895.7 L328.4,895.9 L329.2,896.2 L330.0,896.7 L330.8,897.4 L331.6,898.1 L332.4,899.0 L333.2,900.1 L334.0,901.2 L334.8,902.4 L335.5,903.8 L336.3,905.2 L337.0,906.7 L337.7,908.3 L338.4,910.0 L339.1,911.7 L339.8,913.5 L340.5,915.3 L341.2,917.1 L341.8,919.0 L342.4,920.9 L343.1,922.8 L343.7,924.7 L344.3,926.7 L344.8,928.6 L345.4,930.4 L346.0,932.2 L346.5,934.0 L347.0,935.8 L347.6,937.6 L348.1,939.3 L348.6,941.0 L349.0,942.7 L349.5,944.4 L350.0,946.0 L350.5,947.7 L350.9,949.3 L351.4,950.9 L351.9,952.5 L352.3,954.1 L352.8,955.7 L353.2,957.3 L353.6,958.9 L354.1,960.5 L354.5,962.1 L355.0,963.6 L355.4,965.2 L355.8,966.7 L356.3,968.3 L356.7,969.8 L357.1,971.3 L357.6,972.9 L358.0,974.4 L358.4,975.9 L358.8,977.4 L359.3,978.9 L359.7,980.4 L360.1,981.9 L360.6,983.4 L361.0,984.9 L361.4,986.4 L361.8,987.8 L362.3,989.3 L362.7,990.8 L363.1,992.3 L363.6,993.7 L364.0,995.2 L364.4,996.7 L364.9,998.1 L365.3,999.6 L365.8,1001.0 L366.2,1002.5 L366.7,1003.9 L367.1,1005.4 L367.6,1006.8 L368.0,1008.3 L368.5,1009.7 L369.0,1011.2 L369.4,1012.6 L369.9,1014.1 L370.4,1015.5 L370.9,1017.0 L371.4,1018.4 L371.8,1019.9 L372.3,1021.3 L372.8,1022.8 L373.3,1024.2 L373.9,1025.7 L374.4,1027.1 L374.9,1028.6 L375.4,1030.1 L376.0,1031.5 L376.5,1033.0 L377.0,1034.4 L377.6,1035.9 L378.2,1037.4 L378.7,1038.9 L379.3,1040.3 L379.9,1041.8 L380.5,1043.3 L381.1,1044.8 L381.7,1046.3 L382.3,1047.8 L382.9,1049.2 L383.5,1050.7 L384.1,1052.2 L384.8,1053.7 L385.4,1055.2 L386.1,1056.7 L386.7,1058.2 L387.4,1059.7 L388.1,1061.2 L388.8,1062.6 L389.5,1064.1 L390.2,1065.6 L390.9,1067.1 L391.7,1068.6 L392.4,1070.0 L393.1,1071.5 L393.9,1072.9 L394.7,1074.4 L395.4,1075.8 L396.2,1077.3 L397.0,1078.7 L397.8,1080.2 L398.6,1081.6 L399.5,1083.0 L400.0,1083.9 L402.1,1087.3 L404.1,1090.5 L406.2,1093.6 L408.3,1096.5 L410.3,1099.3 L412.4,1101.9 L414.5,1104.4 L416.6,1106.8 L418.6,1109.1 L420.7,1111.3 L422.8,1113.4 L424.8,1115.4 L426.9,1117.3 L429.0,1119.1 L431.0,1120.9 L433.1,1122.5 L435.2,1124.1 L437.2,1125.7 L439.3,1127.1 L441.4,1128.4 L443.4,1129.7 L445.5,1130.9 L447.6,1131.9 L449.7,1132.9 L451.7,1133.7 L453.8,1134.5 L455.9,1135.1 L457.9,1135.6 L460.0,1136.0 L460.6,1136.1 L461.5,1136.3 L462.3,1136.4 L463.2,1136.5 L464.0,1136.5 L464.9,1136.6 L465.7,1136.7 L466.6,1136.7 L467.4,1136.8 L468.3,1136.8 L469.1,1136.8 L470.0,1136.8 L470.8,1136.8 L471.7,1136.8 L472.6,1136.8 L473.4,1136.7 L474.3,1136.7 L475.1,1136.6 L476.0,1136.5 L476.9,1136.5 L477.7,1136.4 L478.6,1136.3 L479.5,1136.1 L480.3,1136.0 L481.2,1135.9 L482.0,1135.7 L482.9,1135.6 L483.8,1135.4 L484.6,1135.2 L485.5,1135.0 L486.3,1134.8 L487.2,1134.6 L488.0,1134.4 L488.9,1134.2 L489.7,1134.0 L490.6,1133.7 L491.4,1133.5 L492.3,1133.2 L493.1,1133.0 L494.0,1132.7 L494.8,1132.4 L495.6,1132.2 L496.5,1131.9 L497.3,1131.6 L498.1,1131.3 L498.9,1131.0 L499.7,1130.7 L500.6,1130.3 L501.4,1130.0 L502.2,1129.7 L503.0,1129.3 L503.8,1129.0 L504.6,1128.6 L505.4,1128.3 L506.2,1127.9 L507.0,1127.6 L507.8,1127.2 L508.5,1126.8 L509.3,1126.5 L510.1,1126.1 L510.9,1125.7 L511.7,1125.3 L512.4,1125.0 L513.2,1124.6 L514.0,1124.2 L514.8,1123.8 L515.5,1123.4 L516.3,1123.0 L517.1,1122.6 L517.8,1122.2 L518.6,1121.8 L519.4,1121.4 L520.1,1121.0 L520.9,1120.6 L521.7,1120.2 L522.4,1119.8 L523.2,1119.4 L524.0,1118.9 L524.7,1118.5 L525.5,1118.1 L526.3,1117.7 L527.0,1117.3 L527.8,1116.9 L528.6,1116.5 L529.3,1116.1 L530.1,1115.7 L530.9,1115.3 L531.7,1114.9 L532.4,1114.5 L533.2,1114.1 L534.0,1113.7 L534.8,1113.3 L535.5,1113.0 L536.3,1112.6 L537.1,1112.2 L537.9,1111.8 L538.7,1111.5 L539.5,1111.1 L540.3,1110.8 L541.1,1110.4 L541.8,1110.1 L542.6,1109.7 L543.5,1109.4 L544.3,1109.0 L545.1,1108.7 L545.9,1108.4 L546.7,1108.0 L547.5,1107.7 L548.3,1107.4 L549.1,1107.1 L549.9,1106.7 L550.7,1106.4 L551.5,1106.1 L552.3,1105.7 L553.1,1105.4 L553.9,1105.0 L554.7,1104.7 L555.5,1104.3 L556.3,1104.0 L557.1,1103.6 L557.9,1103.3 L558.7,1102.9 L559.5,1102.5 L560.3,1102.1 L561.0,1101.7 L561.8,1101.3 L562.6,1100.9 L563.3,1100.5 L564.1,1100.0 L564.9,1099.6 L565.6,1099.1 L566.4,1098.7 L567.1,1098.2 L567.9,1097.8 L568.6,1097.3 L569.3,1096.8 L570.1,1096.4 L570.8,1095.9 L571.6,1095.4 L572.3,1094.9 L573.0,1094.4 L573.8,1094.0 L574.5,1093.5 L575.3,1093.0 L576.0,1092.6 L576.7,1092.1 L577.5,1091.7 L578.2,1091.2 L579.0,1090.8 L579.8,1090.3 L580.5,1089.9 L581.3,1089.5 L582.0,1089.1 L582.8,1088.7 L583.6,1088.3 L584.4,1088.0 L585.2,1087.6 L586.0,1087.3 L586.8,1086.9 L587.6,1086.6 L588.4,1086.3 L589.2,1086.0 L590.0,1085.7 L590.8,1085.4 L591.6,1085.2 L592.5,1084.9 L593.3,1084.7 L594.1,1084.4 L595.0,1084.2 L595.8,1084.0 L596.7,1083.8 L597.5,1083.6 L598.4,1083.4 L599.2,1083.2 L600.1,1083.0 L600.9,1082.9 L601.8,1082.7 L602.7,1082.5 L603.5,1082.4 L604.4,1082.2 L605.3,1082.1 L606.1,1082.0 L607.0,1081.8 L607.9,1081.7 L608.7,1081.6 L609.6,1081.4 L610.4,1081.3 L611.3,1081.2 L612.2,1081.0 L613.0,1080.9 L613.9,1080.8 L614.7,1080.6 L615.6,1080.4 L616.4,1080.2 L617.2,1080.0 L618.1,1079.8 L618.9,1079.6 L619.7,1079.3 L620.5,1079.1 L621.3,1078.8 L622.1,1078.5 L622.9,1078.1 L623.7,1077.8 L624.4,1077.4 L625.2,1077.0 L625.9,1076.6 L626.7,1076.2 L627.4,1075.8 L628.2,1075.3 L628.9,1074.9 L629.6,1074.4 L630.4,1073.9 L631.1,1073.5 L631.8,1073.0 L632.5,1072.5 L633.3,1072.0 L634.0,1071.5 L634.7,1071.0 L635.4,1070.5 L636.2,1070.1 L636.9,1069.6 L637.6,1069.1 L638.4,1068.6 L639.1,1068.1 L639.8,1067.7 L640.6,1067.2 L641.3,1066.8 L642.1,1066.3 L642.9,1065.9 L643.6,1065.5 L644.4,1065.2 L645.2,1064.8 L646.0,1064.5 L646.8,1064.1 L647.6,1063.8 L648.4,1063.5 L649.2,1063.2 L650.0,1062.9 L650.8,1062.7 L651.7,1062.4 L652.5,1062.2 L653.3,1061.9 L654.1,1061.6 L655.0,1061.3 L655.8,1060.9 L656.7,1060.5 L657.5,1060.1 L658.3,1059.7 L659.2,1059.4 L660.0,1059.0 L660.9,1058.6 L661.7,1058.2 L662.6,1057.8 L663.4,1057.4 L664.2,1057.0 L665.1,1056.6 L665.9,1056.2 L666.7,1055.8 L667.6,1055.4 L668.4,1054.9 L669.2,1054.5 L670.0,1054.0 L670.8,1053.5 L671.6,1053.0 L672.4,1052.5 L673.2,1052.0 L674.0,1051.4 L674.8,1050.9 L674.8,1065.8 L674.0,1066.0 L673.2,1066.2 L672.4,1066.4 L671.6,1066.6 L670.8,1066.8 L670.0,1067.0 L669.2,1067.1 L668.4,1067.2 L667.6,1067.3 L666.7,1067.4 L665.9,1067.5 L665.1,1067.6 L664.2,1067.6 L663.4,1067.7 L662.6,1067.7 L661.7,1067.8 L660.9,1067.8 L660.0,1067.9 L659.2,1067.9 L658.3,1067.9 L657.5,1068.0 L656.7,1068.0 L655.8,1068.0 L655.0,1068.1 L654.1,1068.1 L653.3,1068.3 L652.5,1068.5 L651.7,1068.7 L650.8,1068.9 L650.0,1069.1 L649.2,1069.3 L648.4,1069.6 L647.6,1069.8 L646.8,1070.1 L646.0,1070.4 L645.2,1070.7 L644.4,1071.0 L643.6,1071.3 L642.9,1071.7 L642.1,1072.0 L641.3,1072.4 L640.6,1072.8 L639.8,1073.2 L639.1,1073.6 L638.4,1074.1 L637.6,1074.5 L636.9,1075.0 L636.2,1075.5 L635.4,1075.9 L634.7,1076.4 L634.0,1076.9 L633.3,1077.4 L632.5,1077.9 L631.8,1078.4 L631.1,1078.9 L630.4,1079.3 L629.6,1079.8 L628.9,1080.3 L628.2,1080.7 L627.4,1081.2 L626.7,1081.6 L625.9,1082.0 L625.2,1082.4 L624.4,1082.8 L623.7,1083.2 L622.9,1083.5 L622.1,1083.9 L621.3,1084.2 L620.5,1084.5 L619.7,1084.7 L618.9,1085.0 L618.1,1085.2 L617.2,1085.4 L616.4,1085.6 L615.6,1085.8 L614.7,1086.0 L613.9,1086.2 L613.0,1086.3 L612.2,1086.4 L611.3,1086.6 L610.4,1086.7 L609.6,1086.8 L608.7,1087.0 L607.9,1087.1 L607.0,1087.2 L606.1,1087.4 L605.3,1087.5 L604.4,1087.6 L603.5,1087.8 L602.7,1087.9 L601.8,1088.1 L600.9,1088.3 L600.1,1088.4 L599.2,1088.6 L598.4,1088.8 L597.5,1089.0 L596.7,1089.2 L595.8,1089.4 L595.0,1089.6 L594.1,1089.8 L593.3,1090.0 L592.5,1090.3 L591.6,1090.5 L590.8,1090.8 L590.0,1091.1 L589.2,1091.3 L588.4,1091.6 L587.6,1091.9 L586.8,1092.3 L586.0,1092.6 L585.2,1092.9 L584.4,1093.3 L583.6,1093.6 L582.8,1094.0 L582.0,1094.4 L581.3,1094.8 L580.5,1095.2 L579.8,1095.6 L579.0,1096.1 L578.2,1096.5 L577.5,1096.9 L576.7,1097.4 L576.0,1097.8 L575.3,1098.3 L574.5,1098.8 L573.8,1099.2 L573.0,1099.7 L572.3,1100.2 L571.6,1100.7 L570.8,1101.1 L570.1,1101.6 L569.3,1102.1 L568.6,1102.5 L567.9,1103.0 L567.1,1103.5 L566.4,1103.9 L565.6,1104.4 L564.9,1104.8 L564.1,1105.3 L563.3,1105.7 L562.6,1106.1 L561.8,1106.5 L561.0,1106.9 L560.3,1107.3 L559.5,1107.7 L558.7,1108.1 L557.9,1108.4 L557.1,1108.8 L556.3,1109.2 L555.5,1109.5 L554.7,1109.9 L553.9,1110.2 L553.1,1110.6 L552.3,1110.9 L551.5,1111.2 L550.7,1111.5 L549.9,1111.9 L549.1,1112.2 L548.3,1112.5 L547.5,1112.9 L546.7,1113.2 L545.9,1113.5 L545.1,1113.8 L544.3,1114.2 L543.5,1114.5 L542.6,1114.8 L541.8,1115.2 L541.1,1115.5 L540.3,1115.9 L539.5,1116.2 L538.7,1116.6 L537.9,1116.9 L537.1,1117.3 L536.3,1117.7 L535.5,1118.0 L534.8,1118.4 L534.0,1118.8 L533.2,1119.2 L532.4,1119.6 L531.7,1120.0 L530.9,1120.4 L530.1,1120.8 L529.3,1121.1 L528.6,1121.5 L527.8,1121.9 L527.0,1122.3 L526.3,1122.8 L525.5,1123.2 L524.7,1123.6 L524.0,1124.0 L523.2,1124.4 L522.4,1124.8 L521.7,1125.2 L520.9,1125.6 L520.1,1126.0 L519.4,1126.4 L518.6,1126.8 L517.8,1127.2 L517.1,1127.7 L516.3,1128.1 L515.5,1128.5 L514.8,1128.9 L514.0,1129.3 L513.2,1129.7 L512.4,1130.1 L511.7,1130.5 L510.9,1130.9 L510.1,1131.3 L509.3,1131.7 L508.5,1132.1 L507.8,1132.4 L507.0,1132.8 L506.2,1133.2 L505.4,1133.6 L504.6,1133.9 L503.8,1134.3 L503.0,1134.7 L502.2,1135.0 L501.4,1135.3 L500.6,1135.7 L499.7,1136.0 L498.9,1136.4 L498.1,1136.7 L497.3,1137.0 L496.5,1137.3 L495.6,1137.6 L494.8,1137.9 L494.0,1138.2 L493.1,1138.5 L492.3,1138.8 L491.4,1139.0 L490.6,1139.3 L489.7,1139.5 L488.9,1139.8 L488.0,1140.0 L487.2,1140.2 L486.3,1140.5 L485.5,1140.7 L484.6,1140.9 L483.8,1141.1 L482.9,1141.3 L482.0,1141.4 L481.2,1141.6 L480.3,1141.7 L479.5,1141.9 L478.6,1142.0 L477.7,1142.1 L476.9,1142.3 L476.0,1142.4 L475.1,1142.4 L474.3,1142.5 L473.4,1142.6 L472.6,1142.6 L471.7,1142.7 L470.8,1142.7 L470.0,1142.7 L469.1,1142.8 L468.3,1142.8 L467.4,1142.7 L466.6,1142.7 L465.7,1142.7 L464.9,1142.6 L464.0,1142.5 L463.2,1142.4 L462.3,1142.3 L461.5,1142.2 L460.6,1142.0 L460.0,1141.9 L457.9,1141.4 L455.9,1140.9 L453.8,1140.2 L451.7,1139.4 L449.7,1138.5 L447.6,1137.5 L445.5,1136.4 L443.4,1135.2 L441.4,1133.9 L439.3,1132.5 L437.2,1131.0 L435.2,1129.5 L433.1,1127.8 L431.0,1126.1 L429.0,1124.3 L426.9,1122.4 L424.8,1120.5 L422.8,1118.4 L420.7,1116.3 L418.6,1114.1 L416.6,1111.8 L414.5,1109.4 L412.4,1106.9 L410.3,1104.3 L408.3,1101.5 L406.2,1098.6 L404.1,1095.5 L402.1,1092.3 L400.0,1088.9 L399.5,1088.0 L398.6,1086.6 L397.8,1085.2 L397.0,1083.7 L396.2,1082.3 L395.4,1080.8 L394.7,1079.4 L393.9,1077.9 L393.1,1076.5 L392.4,1075.0 L391.7,1073.6 L390.9,1072.1 L390.2,1070.6 L389.5,1069.1 L388.8,1067.6 L388.1,1066.2 L387.4,1064.7 L386.7,1063.2 L386.1,1061.7 L385.4,1060.2 L384.8,1058.7 L384.1,1057.2 L383.5,1055.7 L382.9,1054.2 L382.3,1052.8 L381.7,1051.3 L381.1,1049.8 L380.5,1048.3 L379.9,1046.8 L379.3,1045.4 L378.7,1043.9 L378.2,1042.4 L377.6,1041.0 L377.0,1039.5 L376.5,1038.1 L376.0,1036.6 L375.4,1035.2 L374.9,1033.7 L374.4,1032.3 L373.9,1030.9 L373.3,1029.4 L372.8,1028.0 L372.3,1026.5 L371.8,1025.1 L371.4,1023.7 L370.9,1022.2 L370.4,1020.8 L369.9,1019.4 L369.4,1017.9 L369.0,1016.5 L368.5,1015.1 L368.0,1013.6 L367.6,1012.2 L367.1,1010.8 L366.7,1009.3 L366.2,1007.9 L365.8,1006.4 L365.3,1005.0 L364.9,1003.6 L364.4,1002.1 L364.0,1000.7 L363.6,999.2 L363.1,997.8 L362.7,996.3 L362.3,994.8 L361.8,993.4 L361.4,991.9 L361.0,990.4 L360.6,989.0 L360.1,987.5 L359.7,986.0 L359.3,984.5 L358.8,983.0 L358.4,981.5 L358.0,980.0 L357.6,978.5 L357.1,977.0 L356.7,975.5 L356.3,973.9 L355.8,972.4 L355.4,970.9 L355.0,969.3 L354.5,967.8 L354.1,966.2 L353.6,964.7 L353.2,963.1 L352.8,961.5 L352.3,959.9 L351.9,958.3 L351.4,956.7 L350.9,955.1 L350.5,953.5 L350.0,951.9 L349.5,950.2 L349.0,948.6 L348.6,946.9 L348.1,945.2 L347.6,943.5 L347.0,941.7 L346.5,940.0 L346.0,938.2 L345.4,936.4 L344.8,934.6 L344.3,932.8 L343.7,931.0 L343.1,929.2 L342.4,927.3 L341.8,925.5 L341.2,923.8 L340.5,922.0 L339.8,920.3 L339.1,918.7 L338.4,917.1 L337.7,915.5 L337.0,914.1 L336.3,912.7 L335.5,911.3 L334.8,910.1 L334.0,909.0 L333.2,908.0 L332.4,907.1 L331.6,906.4 L330.8,905.7 L330.0,905.2 L329.2,904.9 L328.4,904.7 L327.5,904.6 L326.7,904.7 L325.9,904.8 L325.0,905.1 L324.2,905.5 L323.3,906.1 L322.5,906.7 L321.7,907.5 L320.9,908.4 L320.0,909.4 L319.2,910.5 L318.4,911.7 L317.6,913.0 L316.8,914.3 L316.1,915.8 L315.3,917.2 L314.6,918.8 L313.9,920.4 L313.1,922.0 L312.4,923.7 L311.7,925.4 L311.1,927.2 L310.4,928.9 L309.7,930.7 L309.1,932.5 L308.5,934.3 L307.8,936.1 L307.2,937.8 L306.6,939.6 L306.0,941.4 L305.4,943.1 L304.8,944.8 L304.2,946.5 L303.7,948.1 L303.1,949.8 L302.5,951.4 L302.0,953.1 L301.5,954.7 L300.9,956.2 L300.4,957.8 L299.9,959.4 L299.3,961.0 L298.8,962.5 L298.3,964.1 L297.8,965.6 L297.3,967.1 L296.8,968.6 L296.3,970.1 L295.8,971.6 L295.3,973.0 L294.8,974.5 L294.3,975.9 L293.8,977.4 L293.3,978.8 L292.8,980.3 L292.2,981.7 L291.7,983.1 L291.2,984.5 L290.6,985.9 L290.0,987.3 L289.5,988.7 L288.9,990.1 L288.3,991.5 L287.6,992.9 L287.0,994.3 L286.4,995.7 L285.7,997.1 L285.0,998.5 L284.3,999.9 L283.6,1001.3 L282.8,1002.7 L282.1,1004.1 L281.3,1005.6 L280.4,1007.0 L279.6,1008.4 L278.7,1009.9 L277.8,1011.3 L276.9,1012.8 L275.9,1014.3 L275.0,1015.7 L273.9,1017.2 L272.9,1018.7 L271.8,1020.2 L270.8,1021.7 L269.7,1023.2 L268.5,1024.7 L267.4,1026.1 L266.2,1027.5 L265.0,1028.9 L263.8,1030.3 L262.6,1031.6 L261.4,1032.8 L260.2,1034.1 L258.9,1035.3 L257.7,1036.4 L256.5,1037.4 L255.2,1038.4 L253.9,1039.3 L252.7,1040.2 L251.4,1041.0 L250.2,1041.7 L248.9,1042.3 L247.7,1042.8 L246.5,1043.2 L245.2,1043.6 L244.0,1043.8 L242.8,1043.9 L241.6,1043.8 L240.5,1043.6 L239.3,1043.3 L238.2,1042.9 L237.0,1042.4 L235.9,1041.8 L234.8,1041.1 L233.7,1040.4 L232.6,1039.6 L231.5,1038.6 L230.5,1037.7 L229.4,1036.6 L228.4,1035.5 L227.4,1034.3 L226.4,1033.0 L225.4,1031.7 L224.4,1030.4 L223.4,1029.0 L222.5,1027.6 L221.5,1026.1 L220.6,1024.6 L219.7,1023.1 L218.8,1021.5 L217.9,1019.9 L217.0,1018.4 L216.1,1016.7 L215.3,1015.1 L214.5,1013.5 L213.6,1011.9 L212.8,1010.3 L212.0,1008.7 L211.2,1007.0 L210.4,1005.4 L209.7,1003.8 L208.9,1002.2 L208.2,1000.6 L207.5,998.9 L206.7,997.3 L206.0,995.7 L205.3,994.1 L204.7,992.5 L204.0,990.9 L203.3,989.3 L202.7,987.7 L202.0,986.1 L201.4,984.5 L200.8,982.9 L200.2,981.3 L199.6,979.8 L199.0,978.2 L198.4,976.6 L197.8,975.0 L197.2,973.4 L196.7,971.9 L196.1,970.3 L195.6,968.7 L195.1,967.2 L194.5,965.6 L194.0,964.1 L193.5,962.5 L193.0,961.0 L192.5,959.4 L192.0,957.8 L191.6,956.3 L191.1,954.8 L190.6,953.2 L190.2,951.7 L189.7,950.1 L189.3,948.6 L188.8,947.1 L188.4,945.6 L187.9,944.1 L187.5,942.6 L187.1,941.1 L186.7,939.6 L186.3,938.1 L185.9,936.5 L185.5,935.0 L185.1,933.5 L184.7,932.0 L184.3,930.5 L183.9,929.0 L183.5,927.5 L183.2,926.0 L182.8,924.5 L182.4,923.0 L182.0,921.5 L181.7,920.0 L181.3,918.5 L181.0,917.0 L180.6,915.4 L180.3,913.9 L179.9,912.4 L179.6,910.9 L179.2,909.4 L178.9,907.9 L178.5,906.4 L178.2,904.9 L177.8,903.3 L177.5,901.8 L177.1,900.3 L176.8,898.8 L176.5,897.3 L176.1,895.7 L175.8,894.2 L175.4,892.7 L175.1,891.2 L174.7,889.6 L174.4,888.1 L174.1,886.6 L173.7,885.1 L173.4,883.5 L173.0,882.0 L172.7,880.4 L172.3,878.9 L172.0,877.4 L171.6,875.8 L171.3,874.3 L170.9,872.7 L170.6,871.2 L170.2,869.6 L169.8,868.1 L169.5,866.5 L169.1,865.0 L168.8,863.4 L168.4,861.9 L168.0,860.3 L167.7,858.7 L167.3,857.2 L167.0,855.6 L166.6,854.1 L166.2,852.5 L165.9,850.9 L165.5,849.4 L165.1,847.8 L164.8,846.2 L164.4,844.6 L164.1,843.1 L163.7,841.5 L163.3,839.9 L163.0,838.4 L162.6,836.8 L162.2,835.2 L161.9,833.6 L161.5,832.1 L161.2,830.5 L160.8,828.9 L160.4,827.3 L160.1,825.8 L159.7,824.2 L159.4,822.6 L159.0,821.1 L158.7,819.5 L158.3,817.9 L157.9,816.4 L157.6,814.8 L157.2,813.2 L156.9,811.7 L156.5,810.1 L156.2,808.5 L155.9,807.0 L155.5,805.4 L155.2,803.8 L154.8,802.2 L154.5,800.7 L154.1,799.1 L153.8,797.5 L153.5,796.0 L153.1,794.4 L152.8,792.9 L152.5,791.3 L152.2,789.7 L151.8,788.2 L151.5,786.6 L151.2,785.0 L150.9,783.5 L150.6,781.9 L150.3,780.3 L149.9,778.8 L149.6,777.2 L149.3,775.7 L149.0,774.1 L148.7,772.5 L148.4,771.0 L148.1,769.4 L147.8,767.9 L147.6,766.3 L147.3,764.8 L147.0,763.2 L146.7,761.7 L146.4,760.1 L146.2,758.6 L145.9,757.0 L145.6,755.5 L145.4,753.9 L145.1,752.4 L144.8,750.9 L144.6,749.3 L144.3,747.8 L144.1,746.2 L143.9,744.7 L143.6,743.2 L143.4,741.6 L143.1,740.1 Z" fill="#d62728" fill-opacity="0.2"/>
<path d="M145.3,714.6 L145.6,716.1 L145.9,717.6 L146.2,719.0 L146.5,720.5 L146.8,722.0 L147.1,723.5 L147.4,724.9 L147.7,726.4 L148.0,727.9 L148.3,729.4 L148.6,730.9 L148.9,732.4 L149.2,733.9 L149.5,735.5 L149.8,737.0 L150.1,738.5 L150.4,740.0 L150.7,741.6 L151.0,743.1 L151.3,744.6 L151.6,746.2 L151.9,747.7 L152.2,749.2 L152.4,750.8 L152.7,752.3 L153.0,753.9 L153.3,755.4 L153.6,757.0 L153.9,758.5 L154.2,760.1 L154.5,761.7 L154.8,763.2 L155.1,764.8 L155.4,766.4 L155.7,767.9 L156.0,769.5 L156.3,771.1 L156.6,772.6 L156.9,774.2 L157.2,775.8 L157.5,777.3 L157.8,778.9 L158.1,780.5 L158.4,782.1 L158.7,783.6 L159.0,785.2 L159.3,786.8 L159.6,788.3 L159.9,789.9 L160.2,791.5 L160.5,793.1 L160.8,794.6 L161.2,796.2 L161.5,797.8 L161.8,799.3 L162.1,800.9 L162.4,802.5 L162.7,804.0 L163.0,805.6 L163.3,807.2 L163.6,808.7 L163.9,810.3 L164.2,811.9 L164.6,813.4 L164.9,815.0 L165.2,816.5 L165.5,818.1 L165.8,819.6 L166.1,821.2 L166.5,822.7 L166.8,824.2 L167.1,825.8 L167.4,827.3 L167.7,828.8 L168.1,830.4 L168.4,831.9 L168.7,833.4 L169.0,834.9 L169.4,836.4 L169.7,838.0 L170.0,839.5 L170.4,841.0 L170.7,842.5 L171.0,844.0 L171.4,845.5 L171.7,846.9 L172.0,848.4 L172.4,849.9 L172.7,851.4 L173.0,852.8 L173.4,854.3 L173.7,855.8 L174.1,857.2 L174.4,858.7 L174.8,860.1 L175.1,861.5 L175.5,863.0 L175.8,864.4 L176.2,865.8 L176.5,867.3 L176.9,868.7 L177.3,870.1 L177.7,871.5 L178.0,873.0 L178.4,874.4 L178.8,875.8 L179.2,877.2 L179.6,878.6 L180.0,880.1 L180.4,881.5 L180.8,882.9 L181.2,884.3 L181.6,885.7 L182.1,887.2 L182.5,888.6 L182.9,890.0 L183.4,891.5 L183.8,892.9 L184.3,894.4 L184.8,895.8 L185.3,897.3 L185.7,898.7 L186.2,900.2 L186.7,901.6 L187.3,903.1 L187.8,904.6 L188.3,906.1 L188.9,907.6 L189.4,909.1 L190.0,910.6 L190.6,912.1 L191.1,913.7 L191.7,915.2 L192.4,916.7 L193.0,918.3 L193.6,919.9 L194.2,921.4 L194.9,923.0 L195.6,924.6 L196.3,926.2 L196.9,927.9 L197.7,929.5 L198.4,931.2 L199.1,932.8 L199.9,934.5 L200.6,936.2 L201.4,937.9 L202.2,939.6 L203.0,941.2 L203.8,942.9 L204.6,944.6 L205.5,946.3 L206.3,947.9 L207.2,949.5 L208.1,951.1 L209.0,952.7 L209.9,954.2 L210.8,955.7 L211.8,957.1 L212.7,958.5 L213.7,959.9 L214.6,961.2 L215.6,962.4 L216.6,963.6 L217.6,964.7 L218.7,965.7 L219.7,966.7 L220.7,967.5 L221.8,968.3 L222.9,969.0 L223.9,969.6 L225.0,970.2 L226.1,970.6 L227.2,971.0 L228.4,971.3 L229.5,971.5 L230.6,971.6 L231.8,971.7 L232.9,971.6 L234.0,971.5 L235.2,971.4 L236.4,971.1 L237.5,970.8 L238.7,970.5 L239.8,970.1 L241.0,969.6 L242.2,969.0 L243.3,968.4 L244.5,967.7 L245.7,967.0 L246.8,966.2 L248.0,965.4 L249.1,964.5 L250.3,963.6 L251.4,962.6 L252.6,961.6 L253.7,960.5 L254.8,959.4 L255.9,958.2 L257.0,957.0 L258.1,955.8 L259.2,954.5 L260.3,953.2 L261.4,951.9 L262.4,950.5 L263.5,949.1 L264.5,947.6 L265.5,946.2 L266.5,944.7 L267.5,943.2 L268.5,941.7 L269.4,940.1 L270.4,938.5 L271.3,936.9 L272.2,935.3 L273.1,933.7 L273.9,932.1 L274.8,930.4 L275.6,928.8 L276.4,927.1 L277.1,925.5 L277.9,923.8 L278.6,922.1 L279.3,920.4 L280.0,918.8 L280.7,917.1 L281.3,915.4 L281.9,913.8 L282.4,912.1 L283.0,910.4 L283.5,908.8 L284.0,907.2 L284.4,905.6 L284.9,904.0 L285.3,902.4 L285.7,900.8 L286.0,899.2 L286.4,897.6 L286.8,896.1 L287.1,894.6 L287.4,893.0 L287.8,891.5 L288.1,890.0 L288.5,888.5 L288.8,887.0 L289.2,885.6 L289.6,884.1 L289.9,882.7 L290.4,881.2 L290.8,879.8 L291.2,878.4 L291.7,877.0 L292.2,875.6 L292.8,874.2 L293.4,872.9 L294.0,871.5 L294.6,870.2 L295.4,868.9 L296.1,867.5 L296.9,866.2 L297.8,864.9 L298.7,863.6 L299.7,862.4 L300.7,861.2 L301.7,860.1 L302.8,859.1 L303.8,858.3 L304.9,857.8 L306.0,857.5 L307.0,857.5 L308.0,857.8 L308.9,858.3 L309.8,859.0 L310.7,860.0 L311.6,861.0 L312.5,862.2 L313.3,863.5 L314.0,864.9 L314.8,866.3 L315.5,867.8 L316.2,869.2 L316.8,870.7 L317.5,872.2 L318.1,873.7 L318.6,875.2 L319.2,876.7 L319.7,878.2 L320.2,879.8 L320.7,881.3 L321.1,882.8 L321.5,884.4 L322.0,885.9 L322.3,887.5 L322.7,889.1 L323.1,890.6 L323.4,892.2 L323.8,893.8 L324.1,895.4 L324.4,896.9 L324.7,898.5 L325.0,900.1 L325.3,901.7 L325.6,903.3 L325.9,904.9 L326.2,906.5 L326.5,908.1 L326.7,909.7 L327.0,911.3 L327.3,912.9 L327.6,914.4 L327.9,916.0 L328.2,917.6 L328.5,919.2 L328.8,920.8 L329.1,922.4 L329.4,924.0 L329.8,925.5 L330.1,927.1 L330.5,928.7 L330.9,930.2 L331.3,931.8 L331.6,933.3 L332.0,934.9 L332.4,936.5 L332.9,938.0 L333.3,939.6 L333.7,941.1 L334.1,942.6 L334.6,944.2 L335.0,945.7 L335.5,947.2 L335.9,948.8 L336.4,950.3 L336.8,951.8 L337.3,953.3 L337.8,954.9 L338.3,956.4 L338.7,957.9 L339.2,959.4 L339.7,960.9 L340.2,962.4 L340.7,963.9 L341.2,965.4 L341.7,966.9 L342.2,968.4 L342.6,969.9 L343.1,971.4 L343.6,972.9 L344.1,974.4 L344.6,975.9 L345.1,977.3 L345.6,978.8 L346.1,980.3 L346.6,981.8 L347.0,983.3 L347.5,984.7 L348.0,986.2 L348.5,987.7 L348.9,989.1 L349.4,990.6 L349.9,992.1 L350.3,993.5 L350.8,995.0 L351.2,996.4 L351.7,997.9 L352.1,999.4 L352.5,1000.8 L353.0,1002.3 L353.4,1003.7 L353.8,1005.2 L354.3,1006.6 L354.7,1008.1 L355.1,1009.5 L355.6,1011.0 L356.0,1012.4 L356.4,1013.8 L356.8,1015.3 L357.3,1016.7 L357.7,1018.2 L358.1,1019.6 L358.6,1021.0 L359.0,1022.5 L359.5,1023.9 L359.9,1025.4 L360.3,1026.8 L360.8,1028.2 L361.2,1029.7 L361.7,1031.1 L362.2,1032.6 L362.6,1034.0 L363.1,1035.4 L363.6,1036.9 L364.1,1038.3 L364.6,1039.7 L365.1,1041.2 L365.6,1042.6 L366.1,1044.1 L366.6,1045.5 L367.1,1046.9 L367.7,1048.4 L368.2,1049.8 L368.8,1051.3 L369.3,1052.7 L369.9,1054.1 L370.5,1055.6 L371.1,1057.0 L371.7,1058.5 L372.3,1059.9 L372.9,1061.4 L373.5,1062.8 L374.2,1064.3 L374.8,1065.7 L375.5,1067.2 L376.2,1068.6 L376.9,1070.1 L377.6,1071.5 L378.3,1073.0 L379.1,1074.4 L379.8,1075.9 L380.6,1077.4 L381.3,1078.8 L382.1,1080.2 L382.9,1081.7 L383.7,1083.1 L384.6,1084.6 L385.4,1086.0 L386.3,1087.4 L387.1,1088.8 L388.0,1090.3 L388.9,1091.7 L389.8,1093.1 L390.7,1094.4 L391.6,1095.8 L392.6,1097.2 L393.5,1098.5 L394.5,1099.9 L395.4,1101.2 L396.4,1102.5 L397.4,1103.8 L398.4,1105.1 L399.5,1106.4 L400.0,1107.1 L402.1,1109.5 L404.1,1111.9 L406.2,1114.2 L408.3,1116.3 L410.3,1118.3 L412.4,1120.3 L414.5,1122.1 L416.6,1123.9 L418.6,1125.5 L420.7,1127.0 L422.8,1128.5 L424.8,1129.8 L426.9,1131.1 L429.0,1132.3 L431.0,1133.4 L433.1,1134.3 L435.2,1135.3 L437.2,1136.1 L439.3,1136.8 L441.4,1137.5 L443.4,1138.0 L445.5,1138.5 L447.6,1138.9 L449.7,1139.2 L451.7,1139.4 L453.8,1139.6 L455.9,1139.6 L457.9,1139.5 L460.0,1139.4 L460.3,1139.4 L461.1,1139.3 L461.9,1139.2 L462.7,1139.1 L463.5,1138.9 L464.3,1138.8 L465.1,1138.7 L465.9,1138.5 L466.7,1138.4 L467.4,1138.2 L468.2,1138.0 L469.0,1137.8 L469.8,1137.6 L470.6,1137.4 L471.4,1137.2 L472.2,1137.0 L473.0,1136.7 L473.8,1136.5 L474.5,1136.2 L475.3,1136.0 L476.1,1135.7 L476.9,1135.5 L477.7,1135.2 L478.5,1134.9 L479.3,1134.7 L480.0,1134.4 L480.8,1134.1 L481.6,1133.8 L482.4,1133.5 L483.2,1133.2 L484.0,1132.9 L484.7,1132.6 L485.5,1132.3 L486.3,1132.0 L487.1,1131.6 L487.9,1131.3 L488.7,1131.0 L489.4,1130.7 L490.2,1130.4 L491.0,1130.1 L491.8,1129.7 L492.6,1129.4 L493.3,1129.1 L494.1,1128.8 L494.9,1128.5 L495.7,1128.1 L496.5,1127.8 L497.2,1127.5 L498.0,1127.2 L498.8,1126.9 L499.6,1126.6 L500.3,1126.3 L501.1,1126.0 L501.9,1125.7 L502.7,1125.4 L503.4,1125.1 L504.2,1124.8 L505.0,1124.5 L505.8,1124.3 L506.5,1124.0 L507.3,1123.7 L508.1,1123.4 L508.9,1123.2 L509.6,1122.9 L510.4,1122.6 L511.2,1122.3 L511.9,1122.1 L512.7,1121.8 L513.5,1121.6 L514.3,1121.3 L515.0,1121.0 L515.8,1120.8 L516.6,1120.5 L517.4,1120.3 L518.1,1120.0 L518.9,1119.8 L519.7,1119.5 L520.4,1119.3 L521.2,1119.0 L522.0,1118.8 L522.8,1118.6 L523.5,1118.3 L524.3,1118.1 L525.1,1117.8 L525.9,1117.6 L526.6,1117.4 L527.4,1117.1 L528.2,1116.9 L529.0,1116.7 L529.7,1116.4 L530.5,1116.2 L531.3,1116.0 L532.1,1115.7 L532.8,1115.5 L533.6,1115.3 L534.4,1115.1 L535.2,1114.8 L535.9,1114.6 L536.7,1114.4 L537.5,1114.2 L538.3,1113.9 L539.1,1113.7 L539.8,1113.5 L540.6,1113.3 L541.4,1113.1 L542.2,1112.8 L543.0,1112.6 L543.7,1112.4 L544.5,1112.2 L545.3,1112.0 L546.1,1111.7 L546.9,1111.5 L547.7,1111.3 L548.5,1111.1 L549.2,1110.9 L550.0,1110.6 L550.8,1110.4 L551.6,1110.2 L552.4,1110.0 L553.2,1109.8 L554.0,1109.6 L554.8,1109.3 L555.5,1109.1 L556.3,1108.9 L557.1,1108.7 L557.9,1108.5 L558.7,1108.3 L559.5,1108.0 L560.3,1107.8 L561.1,1107.6 L561.9,1107.4 L562.7,1107.2 L563.5,1107.0 L564.2,1106.8 L565.0,1106.5 L565.8,1106.3 L566.6,1106.1 L567.4,1105.9 L568.2,1105.7 L569.0,1105.5 L569.8,1105.3 L570.6,1105.0 L571.4,1104.8 L572.2,1104.6 L573.0,1104.4 L573.8,1104.2 L574.6,1104.0 L575.4,1103.8 L576.2,1103.5 L577.0,1103.3 L577.7,1103.1 L578.5,1102.9 L579.3,1102.7 L580.1,1102.5 L580.9,1102.3 L581.7,1102.0 L582.5,1101.8 L583.3,1101.6 L584.1,1101.4 L584.9,1101.2 L585.7,1101.0 L586.5,1100.8 L587.3,1100.5 L588.1,1100.3 L588.9,1100.1 L589.7,1099.9 L590.5,1099.7 L591.3,1099.5 L592.1,1099.3 L592.9,1099.0 L593.7,1098.8 L594.5,1098.6 L595.2,1098.4 L596.0,1098.2 L596.8,1098.0 L597.6,1097.7 L598.4,1097.5 L599.2,1097.3 L600.0,1097.1 L600.8,1096.9 L601.6,1096.7 L602.4,1096.4 L603.2,1096.2 L604.0,1096.0 L604.8,1095.8 L605.6,1095.6 L606.4,1095.3 L607.2,1095.1 L607.9,1094.9 L608.7,1094.7 L609.5,1094.5 L610.3,1094.2 L611.1,1094.0 L611.9,1093.8 L612.7,1093.6 L613.5,1093.4 L614.3,1093.1 L615.1,1092.9 L615.8,1092.7 L616.6,1092.5 L617.4,1092.2 L618.2,1092.0 L619.0,1091.8 L619.8,1091.6 L620.6,1091.3 L621.4,1091.1 L622.1,1090.9 L622.9,1090.7 L623.7,1090.4 L624.5,1090.2 L625.3,1090.0 L626.1,1089.7 L626.8,1089.5 L627.6,1089.3 L628.4,1089.1 L629.2,1088.8 L630.0,1088.6 L630.8,1088.4 L631.5,1088.1 L632.3,1087.9 L633.1,1087.7 L633.9,1087.4 L634.6,1087.2 L635.4,1087.0 L636.2,1086.7 L637.0,1086.5 L637.7,1086.2 L638.5,1086.0 L639.3,1085.7 L640.1,1085.5 L640.8,1085.2 L641.6,1085.0 L642.4,1084.7 L643.1,1084.5 L643.9,1084.2 L644.7,1084.0 L645.4,1083.7 L646.2,1083.4 L647.0,1083.2 L647.7,1082.9 L648.5,1082.6 L649.3,1082.4 L650.0,1082.1 L650.8,1081.8 L651.5,1081.6 L652.3,1081.3 L653.1,1081.1 L653.8,1080.8 L654.6,1080.6 L655.4,1080.4 L656.1,1080.2 L656.9,1080.1 L657.7,1080.0 L658.5,1079.9 L659.3,1079.8 L660.1,1079.8 L660.9,1079.8 L661.7,1079.8 L662.5,1079.9 L663.3,1080.0 L664.1,1080.1 L664.9,1080.2 L665.8,1080.4 L666.6,1080.5 L667.4,1080.7 L668.2,1080.9 L669.1,1081.1 L669.9,1081.3 L670.7,1081.5 L671.5,1081.7 L672.4,1081.9 L673.2,1082.1 L674.0,1082.3 L674.8,1082.5" fill="none" stroke="#1f77b4" stroke-width="3.1" stroke-linejoin="round"/>
<path d="M143.1,738.1 L143.4,739.6 L143.6,741.2 L143.9,742.7 L144.1,744.2 L144.3,745.8 L144.6,747.3 L144.8,748.9 L145.1,750.4 L145.4,751.9 L145.6,753.5 L145.9,755.0 L146.2,756.6 L146.4,758.1 L146.7,759.7 L147.0,761.2 L147.3,762.8 L147.6,764.3 L147.8,765.9 L148.1,767.4 L148.4,769.0 L148.7,770.5 L149.0,772.1 L149.3,773.7 L149.6,775.2 L149.9,776.8 L150.3,778.3 L150.6,779.9 L150.9,781.5 L151.2,783.0 L151.5,784.6 L151.8,786.2 L152.2,787.7 L152.5,789.3 L152.8,790.9 L153.1,792.4 L153.5,794.0 L153.8,795.5 L154.1,797.1 L154.5,798.7 L154.8,800.2 L155.2,801.8 L155.5,803.4 L155.9,805.0 L156.2,806.5 L156.5,808.1 L156.9,809.7 L157.2,811.2 L157.6,812.8 L157.9,814.4 L158.3,815.9 L158.7,817.5 L159.0,819.1 L159.4,820.6 L159.7,822.2 L160.1,823.8 L160.4,825.3 L160.8,826.9 L161.2,828.5 L161.5,830.0 L161.9,831.6 L162.2,833.1 L162.6,834.7 L163.0,836.3 L163.3,837.8 L163.7,839.4 L164.1,840.9 L164.4,842.5 L164.8,844.1 L165.1,845.6 L165.5,847.2 L165.9,848.7 L166.2,850.3 L166.6,851.8 L167.0,853.4 L167.3,854.9 L167.7,856.5 L168.0,858.0 L168.4,859.6 L168.8,861.1 L169.1,862.7 L169.5,864.2 L169.8,865.7 L170.2,867.3 L170.6,868.8 L170.9,870.4 L171.3,871.9 L171.6,873.4 L172.0,875.0 L172.3,876.5 L172.7,878.0 L173.0,879.5 L173.4,881.1 L173.7,882.6 L174.1,884.1 L174.4,885.6 L174.7,887.2 L175.1,888.7 L175.4,890.2 L175.8,891.7 L176.1,893.2 L176.5,894.7 L176.8,896.2 L177.1,897.7 L177.5,899.2 L177.8,900.7 L178.2,902.3 L178.5,903.8 L178.9,905.3 L179.2,906.8 L179.6,908.3 L179.9,909.8 L180.3,911.3 L180.6,912.8 L181.0,914.3 L181.3,915.7 L181.7,917.2 L182.0,918.7 L182.4,920.2 L182.8,921.7 L183.2,923.2 L183.5,924.7 L183.9,926.2 L184.3,927.7 L184.7,929.2 L185.1,930.7 L185.5,932.2 L185.9,933.7 L186.3,935.2 L186.7,936.7 L187.1,938.2 L187.5,939.7 L187.9,941.2 L188.4,942.7 L188.8,944.2 L189.3,945.6 L189.7,947.1 L190.2,948.6 L190.6,950.1 L191.1,951.6 L191.6,953.1 L192.0,954.6 L192.5,956.1 L193.0,957.7 L193.5,959.2 L194.0,960.7 L194.5,962.2 L195.1,963.7 L195.6,965.2 L196.1,966.7 L196.7,968.2 L197.2,969.7 L197.8,971.2 L198.4,972.8 L199.0,974.3 L199.6,975.8 L200.2,977.3 L200.8,978.8 L201.4,980.4 L202.0,981.9 L202.7,983.4 L203.3,985.0 L204.0,986.5 L204.7,988.0 L205.3,989.6 L206.0,991.1 L206.7,992.7 L207.5,994.2 L208.2,995.7 L208.9,997.3 L209.7,998.8 L210.4,1000.4 L211.2,1002.0 L212.0,1003.5 L212.8,1005.1 L213.6,1006.7 L214.5,1008.2 L215.3,1009.8 L216.1,1011.3 L217.0,1012.9 L217.9,1014.4 L218.8,1015.9 L219.7,1017.4 L220.6,1018.9 L221.5,1020.3 L222.5,1021.8 L223.4,1023.1 L224.4,1024.5 L225.4,1025.7 L226.4,1027.0 L227.4,1028.2 L228.4,1029.3 L229.4,1030.3 L230.5,1031.4 L231.5,1032.3 L232.6,1033.2 L233.7,1033.9 L234.8,1034.7 L235.9,1035.3 L237.0,1035.8 L238.2,1036.3 L239.3,1036.6 L240.5,1036.9 L241.6,1037.0 L242.8,1037.1 L244.0,1037.0 L245.2,1036.9 L246.5,1036.6 L247.7,1036.2 L248.9,1035.8 L250.2,1035.2 L251.4,1034.6 L252.7,1033.9 L253.9,1033.1 L255.2,1032.3 L256.5,1031.3 L257.7,1030.4 L258.9,1029.3 L260.2,1028.2 L261.4,1027.0 L262.6,1025.8 L263.8,1024.6 L265.0,1023.3 L266.2,1022.0 L267.4,1020.7 L268.5,1019.3 L269.7,1017.9 L270.8,1016.5 L271.8,1015.0 L272.9,1013.6 L273.9,1012.2 L275.0,1010.7 L275.9,1009.3 L276.9,1007.9 L277.8,1006.4 L278.7,1005.0 L279.6,1003.6 L280.4,1002.2 L281.3,1000.8 L282.1,999.4 L282.8,998.0 L283.6,996.7 L284.3,995.3 L285.0,993.9 L285.7,992.5 L286.4,991.2 L287.0,989.8 L287.6,988.4 L288.3,987.0 L288.9,985.7 L289.5,984.3 L290.0,982.9 L290.6,981.5 L291.2,980.2 L291.7,978.8 L292.2,977.4 L292.8,976.0 L293.3,974.6 L293.8,973.1 L294.3,971.7 L294.8,970.3 L295.3,968.9 L295.8,967.4 L296.3,965.9 L296.8,964.5 L297.3,963.0 L297.8,961.5 L298.3,960.0 L298.8,958.5 L299.3,956.9 L299.9,955.4 L300.4,953.8 L300.9,952.2 L301.5,950.6 L302.0,949.0 L302.5,947.4 L303.1,945.7 L303.7,944.1 L304.2,942.4 L304.8,940.7 L305.4,939.0 L306.0,937.2 L306.6,935.5 L307.2,933.7 L307.8,931.9 L308.5,930.1 L309.1,928.3 L309.7,926.5 L310.4,924.7 L311.1,923.0 L311.7,921.2 L312.4,919.5 L313.1,917.8 L313.9,916.1 L314.6,914.5 L315.3,913.0 L316.1,911.5 L316.8,910.0 L317.6,908.7 L318.4,907.4 L319.2,906.2 L320.0,905.1 L320.9,904.0 L321.7,903.1 L322.5,902.3 L323.3,901.6 L324.2,901.1 L325.0,900.6 L325.9,900.3 L326.7,900.2 L327.5,900.1 L328.4,900.3 L329.2,900.6 L330.0,901.0 L330.8,901.6 L331.6,902.3 L332.4,903.1 L333.2,904.0 L334.0,905.1 L334.8,906.3 L335.5,907.6 L336.3,908.9 L337.0,910.4 L337.7,911.9 L338.4,913.5 L339.1,915.2 L339.8,916.9 L340.5,918.7 L341.2,920.5 L341.8,922.3 L342.4,924.1 L343.1,926.0 L343.7,927.9 L344.3,929.7 L344.8,931.6 L345.4,933.4 L346.0,935.2 L346.5,937.0 L347.0,938.8 L347.6,940.5 L348.1,942.2 L348.6,943.9 L349.0,945.6 L349.5,947.3 L350.0,948.9 L350.5,950.6 L350.9,952.2 L351.4,953.8 L351.9,955.4 L352.3,957.0 L352.8,958.6 L353.2,960.2 L353.6,961.8 L354.1,963.4 L354.5,964.9 L355.0,966.5 L355.4,968.0 L355.8,969.6 L356.3,971.1 L356.7,972.6 L357.1,974.2 L357.6,975.7 L358.0,977.2 L358.4,978.7 L358.8,980.2 L359.3,981.7 L359.7,983.2 L360.1,984.7 L360.6,986.2 L361.0,987.7 L361.4,989.1 L361.8,990.6 L362.3,992.1 L362.7,993.5 L363.1,995.0 L363.6,996.5 L364.0,997.9 L364.4,999.4 L364.9,1000.8 L365.3,1002.3 L365.8,1003.7 L366.2,1005.2 L366.7,1006.6 L367.1,1008.1 L367.6,1009.5 L368.0,1011.0 L368.5,1012.4 L369.0,1013.8 L369.4,1015.3 L369.9,1016.7 L370.4,1018.2 L370.9,1019.6 L371.4,1021.1 L371.8,1022.5 L372.3,1023.9 L372.8,1025.4 L373.3,1026.8 L373.9,1028.3 L374.4,1029.7 L374.9,1031.2 L375.4,1032.6 L376.0,1034.1 L376.5,1035.5 L377.0,1037.0 L377.6,1038.4 L378.2,1039.9 L378.7,1041.4 L379.3,1042.8 L379.9,1044.3 L380.5,1045.8 L381.1,1047.3 L381.7,1048.8 L382.3,1050.3 L382.9,1051.7 L383.5,1053.2 L384.1,1054.7 L384.8,1056.2 L385.4,1057.7 L386.1,1059.2 L386.7,1060.7 L387.4,1062.2 L388.1,1063.7 L388.8,1065.1 L389.5,1066.6 L390.2,1068.1 L390.9,1069.6 L391.7,1071.1 L392.4,1072.5 L393.1,1074.0 L393.9,1075.4 L394.7,1076.9 L395.4,1078.3 L396.2,1079.8 L397.0,1081.2 L397.8,1082.7 L398.6,1084.1 L399.5,1085.5 L400.0,1086.4 L402.1,1089.8 L404.1,1093.0 L406.2,1096.1 L408.3,1099.0 L410.3,1101.8 L412.4,1104.4 L414.5,1106.9 L416.6,1109.3 L418.6,1111.6 L420.7,1113.8 L422.8,1115.9 L424.8,1117.9 L426.9,1119.9 L429.0,1121.7 L431.0,1123.5 L433.1,1125.2 L435.2,1126.8 L437.2,1128.3 L439.3,1129.8 L441.4,1131.2 L443.4,1132.4 L445.5,1133.6 L447.6,1134.7 L449.7,1135.7 L451.7,1136.6 L453.8,1137.3 L455.9,1138.0 L457.9,1138.5 L460.0,1139.0 L460.6,1139.1 L461.5,1139.2 L462.3,1139.3 L463.2,1139.4 L464.0,1139.5 L464.9,1139.6 L465.7,1139.7 L466.6,1139.7 L467.4,1139.7 L468.3,1139.8 L469.1,1139.8 L470.0,1139.8 L470.8,1139.8 L471.7,1139.7 L472.6,1139.7 L473.4,1139.7 L474.3,1139.6 L475.1,1139.5 L476.0,1139.4 L476.9,1139.4 L477.7,1139.3 L478.6,1139.1 L479.5,1139.0 L480.3,1138.9 L481.2,1138.7 L482.0,1138.6 L482.9,1138.4 L483.8,1138.2 L484.6,1138.0 L485.5,1137.9 L486.3,1137.7 L487.2,1137.4 L488.0,1137.2 L488.9,1137.0 L489.7,1136.8 L490.6,1136.5 L491.4,1136.3 L492.3,1136.0 L493.1,1135.7 L494.0,1135.5 L494.8,1135.2 L495.6,1134.9 L496.5,1134.6 L497.3,1134.3 L498.1,1134.0 L498.9,1133.7 L499.7,1133.3 L500.6,1133.0 L501.4,1132.7 L502.2,1132.3 L503.0,1132.0 L503.8,1131.6 L504.6,1131.3 L505.4,1130.9 L506.2,1130.6 L507.0,1130.2 L507.8,1129.8 L508.5,1129.5 L509.3,1129.1 L510.1,1128.7 L510.9,1128.3 L511.7,1127.9 L512.4,1127.5 L513.2,1127.1 L514.0,1126.7 L514.8,1126.3 L515.5,1125.9 L516.3,1125.5 L517.1,1125.1 L517.8,1124.7 L518.6,1124.3 L519.4,1123.9 L520.1,1123.5 L520.9,1123.1 L521.7,1122.7 L522.4,1122.3 L523.2,1121.9 L524.0,1121.5 L524.7,1121.0 L525.5,1120.6 L526.3,1120.2 L527.0,1119.8 L527.8,1119.4 L528.6,1119.0 L529.3,1118.6 L530.1,1118.2 L530.9,1117.8 L531.7,1117.4 L532.4,1117.0 L533.2,1116.7 L534.0,1116.3 L534.8,1115.9 L535.5,1115.5 L536.3,1115.1 L537.1,1114.8 L537.9,1114.4 L538.7,1114.0 L539.5,1113.7 L540.3,1113.3 L541.1,1113.0 L541.8,1112.6 L542.6,1112.3 L543.5,1111.9 L544.3,1111.6 L545.1,1111.3 L545.9,1110.9 L546.7,1110.6 L547.5,1110.3 L548.3,1110.0 L549.1,1109.6 L549.9,1109.3 L550.7,1109.0 L551.5,1108.6 L552.3,1108.3 L553.1,1108.0 L553.9,1107.6 L554.7,1107.3 L555.5,1106.9 L556.3,1106.6 L557.1,1106.2 L557.9,1105.9 L558.7,1105.5 L559.5,1105.1 L560.3,1104.7 L561.0,1104.3 L561.8,1103.9 L562.6,1103.5 L563.3,1103.1 L564.1,1102.6 L564.9,1102.2 L565.6,1101.8 L566.4,1101.3 L567.1,1100.8 L567.9,1100.4 L568.6,1099.9 L569.3,1099.4 L570.1,1099.0 L570.8,1098.5 L571.6,1098.0 L572.3,1097.6 L573.0,1097.1 L573.8,1096.6 L574.5,1096.1 L575.3,1095.7 L576.0,1095.2 L576.7,1094.8 L577.5,1094.3 L578.2,1093.9 L579.0,1093.4 L579.8,1093.0 L580.5,1092.6 L581.3,1092.2 L582.0,1091.7 L582.8,1091.4 L583.6,1091.0 L584.4,1090.6 L585.2,1090.3 L586.0,1089.9 L586.8,1089.6 L587.6,1089.3 L588.4,1089.0 L589.2,1088.7 L590.0,1088.4 L590.8,1088.1 L591.6,1087.9 L592.5,1087.6 L593.3,1087.4 L594.1,1087.1 L595.0,1086.9 L595.8,1086.7 L596.7,1086.5 L597.5,1086.3 L598.4,1086.1 L599.2,1085.9 L600.1,1085.7 L600.9,1085.6 L601.8,1085.4 L602.7,1085.2 L603.5,1085.1 L604.4,1084.9 L605.3,1084.8 L606.1,1084.7 L607.0,1084.5 L607.9,1084.4 L608.7,1084.3 L609.6,1084.1 L610.4,1084.0 L611.3,1083.9 L612.2,1083.7 L613.0,1083.6 L613.9,1083.5 L614.7,1083.3 L615.6,1083.1 L616.4,1082.9 L617.2,1082.7 L618.1,1082.5 L618.9,1082.3 L619.7,1082.0 L620.5,1081.8 L621.3,1081.5 L622.1,1081.2 L622.9,1080.8 L623.7,1080.5 L624.4,1080.1 L625.2,1079.7 L625.9,1079.3 L626.7,1078.9 L627.4,1078.5 L628.2,1078.0 L628.9,1077.6 L629.6,1077.1 L630.4,1076.6 L631.1,1076.2 L631.8,1075.7 L632.5,1075.2 L633.3,1074.7 L634.0,1074.2 L634.7,1073.7 L635.4,1073.2 L636.2,1072.8 L636.9,1072.3 L637.6,1071.8 L638.4,1071.3 L639.1,1070.9 L639.8,1070.4 L640.6,1070.0 L641.3,1069.6 L642.1,1069.2 L642.9,1068.8 L643.6,1068.4 L644.4,1068.1 L645.2,1067.7 L646.0,1067.4 L646.8,1067.1 L647.6,1066.8 L648.4,1066.5 L649.2,1066.3 L650.0,1066.0 L650.8,1065.8 L651.7,1065.5 L652.5,1065.3 L653.3,1065.1 L654.1,1064.9 L655.0,1064.7 L655.8,1064.4 L656.7,1064.2 L657.5,1064.0 L658.3,1063.8 L659.2,1063.6 L660.0,1063.4 L660.9,1063.2 L661.7,1063.0 L662.6,1062.8 L663.4,1062.6 L664.2,1062.3 L665.1,1062.1 L665.9,1061.9 L666.7,1061.6 L667.6,1061.3 L668.4,1061.1 L669.2,1060.8 L670.0,1060.5 L670.8,1060.2 L671.6,1059.8 L672.4,1059.5 L673.2,1059.1 L674.0,1058.7 L674.8,1058.3" fill="none" stroke="#d62728" stroke-width="3.1" stroke-linejoin="round"/>
</g>
<rect x="125.0" y="682.0" width="585.30" height="484.30" fill="none" stroke="#000" stroke-width="1.7"/>
<line x1="118.80" y1="1139.70" x2="125.0" y2="1139.70" stroke="#000" stroke-width="1.7"/>
<line x1="118.80" y1="996.47" x2="125.0" y2="996.47" stroke="#000" stroke-width="1.7"/>
<line x1="118.80" y1="853.24" x2="125.0" y2="853.24" stroke="#000" stroke-width="1.7"/>
<line x1="118.80" y1="710.01" x2="125.0" y2="710.01" stroke="#000" stroke-width="1.7"/>
<line x1="125.00" y1="1166.3" x2="125.00" y2="1172.50" stroke="#000" stroke-width="1.7"/>
<line x1="216.50" y1="1166.3" x2="216.50" y2="1172.50" stroke="#000" stroke-width="1.7"/>
<line x1="308.00" y1="1166.3" x2="308.00" y2="1172.50" stroke="#000" stroke-width="1.7"/>
<line x1="399.50" y1="1166.3" x2="399.50" y2="1172.50" stroke="#000" stroke-width="1.7"/>
<line x1="491.00" y1="1166.3" x2="491.00" y2="1172.50" stroke="#000" stroke-width="1.7"/>
<line x1="582.50" y1="1166.3" x2="582.50" y2="1172.50" stroke="#000" stroke-width="1.7"/>
<line x1="674.00" y1="1166.3" x2="674.00" y2="1172.50" stroke="#000" stroke-width="1.7"/>
<line x1="550" y1="718.7" x2="609" y2="718.7" stroke="#1f77b4" stroke-width="3.1"/>
<line x1="550" y1="759.9" x2="609" y2="759.9" stroke="#d62728" stroke-width="3.1"/>
<defs><radialGradient id="gO" cx="0.5" cy="0.45" r="0.55" fx="0.52" fy="0.42"><stop offset="0" stop-color="#ffd0d0"/><stop offset="0.12" stop-color="#ff1010"/><stop offset="0.55" stop-color="#e80000"/><stop offset="0.85" stop-color="#a00000"/><stop offset="1" stop-color="#500000"/></radialGradient><radialGradient id="gH" cx="0.5" cy="0.45" r="0.55" fx="0.55" fy="0.4"><stop offset="0" stop-color="#ffffff"/><stop offset="0.5" stop-color="#eeeeee"/><stop offset="0.85" stop-color="#b0b0b0"/><stop offset="1" stop-color="#666"/></radialGradient><radialGradient id="gC" cx="0.5" cy="0.45" r="0.55" fx="0.55" fy="0.4"><stop offset="0" stop-color="#b0b0b0"/><stop offset="0.55" stop-color="#8a8a8a"/><stop offset="0.85" stop-color="#5a5a5a"/><stop offset="1" stop-color="#2a2a2a"/></radialGradient><linearGradient id="gS" x1="0" y1="0" x2="0" y2="1"><stop offset="0" stop-color="#8c8c8c"/><stop offset="0.5" stop-color="#cfcfcf"/><stop offset="1" stop-color="#fafafa"/></linearGradient></defs>
<rect x="448" y="1012" width="135.2" height="28" fill="url(#gS)"/>
<circle cx="510.3" cy="842.2" r="8.9" fill="url(#gH)"/>
<circle cx="479.9" cy="866.6" r="8.9" fill="url(#gH)"/>
<circle cx="500.7" cy="864.4" r="14.8" fill="url(#gO)"/>
<circle cx="454" cy="892.5" r="8.9" fill="url(#gH)"/>
<circle cx="432.6" cy="922.1" r="8.9" fill="url(#gH)"/>
<circle cx="431.8" cy="900.7" r="15.5" fill="url(#gO)"/>
<circle cx="550.3" cy="885.1" r="8.9" fill="url(#gH)"/>
<circle cx="562.8" cy="899.9" r="14.8" fill="url(#gO)"/>
<circle cx="545.1" cy="902.2" r="9.2" fill="url(#gH)"/>
<circle cx="601.3" cy="937" r="9.2" fill="url(#gH)"/>
<circle cx="583.6" cy="952.5" r="14.8" fill="url(#gO)"/>
<circle cx="570.2" cy="956.5" r="9.2" fill="url(#gH)"/>
<circle cx="519.9" cy="929.5" r="13.3" fill="url(#gO)"/>
<circle cx="502.1" cy="937" r="14.1" fill="url(#gC)"/>
<circle cx="485.9" cy="945.1" r="13" fill="url(#gO)"/>
<line x1="505.1" y1="938" x2="505.1" y2="1012" stroke="#000" stroke-width="2.2" stroke-dasharray="6,4"/>
<path d="M499.5,948 L505.1,935.7 L510.7,948" fill="none" stroke="#000" stroke-width="2.2"/>
<path d="M499.5,1002 L505.1,1014.4 L510.7,1002" fill="none" stroke="#000" stroke-width="2.2"/>
<rect x="913.20" y="712.08" width="20.4" height="457.72" fill="#79acd3" stroke="#000" stroke-width="1.4"/>
<rect x="933.60" y="910.27" width="20.4" height="259.53" fill="#e57c7e" stroke="#000" stroke-width="1.4"/>
<rect x="994.70" y="1076.75" width="20.4" height="93.05" fill="#79acd3" stroke="#000" stroke-width="1.4"/>
<rect x="1015.10" y="1088.85" width="20.4" height="80.95" fill="#e57c7e" stroke="#000" stroke-width="1.4"/>
<rect x="1076.20" y="1109.72" width="20.4" height="60.08" fill="#79acd3" stroke="#000" stroke-width="1.4"/>
<rect x="1096.60" y="1065.90" width="20.4" height="103.90" fill="#e57c7e" stroke="#000" stroke-width="1.4"/>
<rect x="1157.70" y="1081.34" width="20.4" height="88.46" fill="#79acd3" stroke="#000" stroke-width="1.4"/>
<rect x="1178.10" y="1009.99" width="20.4" height="159.81" fill="#e57c7e" stroke="#000" stroke-width="1.4"/>
<rect x="1239.20" y="1088.44" width="20.4" height="81.36" fill="#79acd3" stroke="#000" stroke-width="1.4"/>
<rect x="1259.60" y="1022.93" width="20.4" height="146.87" fill="#e57c7e" stroke="#000" stroke-width="1.4"/>
<rect x="1320.70" y="1131.00" width="20.4" height="38.80" fill="#79acd3" stroke="#000" stroke-width="1.4"/>
<rect x="1341.10" y="1100.95" width="20.4" height="68.85" fill="#e57c7e" stroke="#000" stroke-width="1.4"/>
<rect x="1402.20" y="1160.62" width="20.4" height="9.18" fill="#79acd3" stroke="#000" stroke-width="1.4"/>
<rect x="1422.60" y="1160.20" width="20.4" height="9.60" fill="#e57c7e" stroke="#000" stroke-width="1.4"/>
<rect x="887.2" y="689.1" width="581.50" height="480.90" fill="none" stroke="#000" stroke-width="1.7"/>
<line x1="881.00" y1="1169.80" x2="887.2" y2="1169.80" stroke="#000" stroke-width="1.7"/>
<line x1="881.00" y1="1086.35" x2="887.2" y2="1086.35" stroke="#000" stroke-width="1.7"/>
<line x1="881.00" y1="1002.90" x2="887.2" y2="1002.90" stroke="#000" stroke-width="1.7"/>
<line x1="881.00" y1="919.45" x2="887.2" y2="919.45" stroke="#000" stroke-width="1.7"/>
<line x1="881.00" y1="836.00" x2="887.2" y2="836.00" stroke="#000" stroke-width="1.7"/>
<line x1="881.00" y1="752.55" x2="887.2" y2="752.55" stroke="#000" stroke-width="1.7"/>
<line x1="933.60" y1="1170.0" x2="933.60" y2="1176.20" stroke="#000" stroke-width="1.7"/>
<line x1="1015.10" y1="1170.0" x2="1015.10" y2="1176.20" stroke="#000" stroke-width="1.7"/>
<line x1="1096.60" y1="1170.0" x2="1096.60" y2="1176.20" stroke="#000" stroke-width="1.7"/>
<line x1="1178.10" y1="1170.0" x2="1178.10" y2="1176.20" stroke="#000" stroke-width="1.7"/>
<line x1="1259.60" y1="1170.0" x2="1259.60" y2="1176.20" stroke="#000" stroke-width="1.7"/>
<line x1="1341.10" y1="1170.0" x2="1341.10" y2="1176.20" stroke="#000" stroke-width="1.7"/>
<line x1="1422.60" y1="1170.0" x2="1422.60" y2="1176.20" stroke="#000" stroke-width="1.7"/>
<rect x="1309.8" y="715.5" width="56.7" height="19.8" fill="#79acd3" stroke="#000" stroke-width="1.4"/>
<rect x="1309.8" y="756.4" width="56.7" height="19.8" fill="#e57c7e" stroke="#000" stroke-width="1.4"/>
<text transform="matrix(1.0860,0.0000,0.0000,0.9900,90.4480,61.1800)" font-size="30" fill="#000">180</text>
<text transform="matrix(1.0860,0.0000,0.0000,0.9900,90.4480,129.3600)" font-size="30" fill="#000">170</text>
<text transform="matrix(1.0860,0.0000,0.0000,0.9900,90.4480,197.5400)" font-size="30" fill="#000">160</text>
<text transform="matrix(1.0860,0.0000,0.0000,0.9900,90.4480,265.7200)" font-size="30" fill="#000">150</text>
<text transform="matrix(1.0860,0.0000,0.0000,0.9900,90.4480,333.9000)" font-size="30" fill="#000">140</text>
<text transform="matrix(1.0860,0.0000,0.0000,0.9900,90.4480,402.0800)" font-size="30" fill="#000">130</text>
<text transform="matrix(1.0860,0.0000,0.0000,0.9900,90.4480,470.2600)" font-size="30" fill="#000">120</text>
<text transform="matrix(1.0860,0.0000,0.0000,0.9900,92.6200,538.4400)" font-size="30" fill="#000">110</text>
<text transform="matrix(1.0860,0.0000,0.0000,0.9900,215.4690,568.0900)" font-size="30" fill="#000">2</text>
<text transform="matrix(1.0860,0.0000,0.0000,0.9900,383.6500,568.0900)" font-size="30" fill="#000">3</text>
<text transform="matrix(1.0860,0.0000,0.0000,0.9900,551.6310,567.7600)" font-size="30" fill="#000">4</text>
<text transform="matrix(1.0860,0.0000,0.0000,0.9900,772.8480,58.3300)" font-size="30" fill="#000">180</text>
<text transform="matrix(1.0860,0.0000,0.0000,0.9900,772.8480,127.1050)" font-size="30" fill="#000">170</text>
<text transform="matrix(1.0860,0.0000,0.0000,0.9900,772.8480,195.8800)" font-size="30" fill="#000">160</text>
<text transform="matrix(1.0860,0.0000,0.0000,0.9900,772.8480,264.6550)" font-size="30" fill="#000">150</text>
<text transform="matrix(1.0860,0.0000,0.0000,0.9900,772.8480,333.4300)" font-size="30" fill="#000">140</text>
<text transform="matrix(1.0860,0.0000,0.0000,0.9900,772.8480,402.2050)" font-size="30" fill="#000">130</text>
<text transform="matrix(1.0860,0.0000,0.0000,0.9900,772.8480,470.9800)" font-size="30" fill="#000">120</text>
<text transform="matrix(1.0860,0.0000,0.0000,0.9900,775.0200,539.7550)" font-size="30" fill="#000">110</text>
<text transform="matrix(1.0860,0.0000,0.0000,0.9900,897.5690,569.2900)" font-size="30" fill="#000">2</text>
<text transform="matrix(1.0860,0.0000,0.0000,0.9900,1066.9500,569.2900)" font-size="30" fill="#000">3</text>
<text transform="matrix(1.0860,0.0000,0.0000,0.9900,1236.3310,568.9600)" font-size="30" fill="#000">4</text>
<text transform="matrix(1.0331,0.0000,0.0000,1.0100,-0.5549,32.4100)" font-size="43" fill="#000">(a)</text>
<text transform="matrix(0.9844,0.0000,0.0000,0.9875,353.9750,24.2708)" font-size="34" fill="#000">PZC</text>
<text transform="matrix(0.9893,0.0000,0.0000,1.0167,1086.4511,24.6611)" font-size="34" fill="#000">CP</text>
<text transform="matrix(1.0810,0.0000,0.0000,1.0500,274.5587,610.7000)" font-size="33" fill="#000">d (surf, CO<tspan font-size="23.10" dy="5.28">2</tspan><tspan dy="-5.28"></tspan>) [Å]</text>
<text transform="matrix(1.0810,0.0000,0.0000,1.0500,957.3587,612.0000)" font-size="33" fill="#000">d (surf, CO<tspan font-size="23.10" dy="5.28">2</tspan><tspan dy="-5.28"></tspan>) [Å]</text>
<text transform="matrix(0.0000,-1.0889,1.0632,0.0000,68.5000,396.8148)" font-size="33" fill="#000">CO<tspan font-size="23.10" dy="5.28">2</tspan><tspan dy="-5.28"></tspan> angle [°]</text>
<text transform="matrix(0.0000,-1.0937,1.0632,0.0000,749.0000,397.2228)" font-size="33" fill="#000">CO<tspan font-size="23.10" dy="5.28">2</tspan><tspan dy="-5.28"></tspan> angle [°]</text>
<text transform="matrix(1.0860,0.0000,0.0000,0.9900,1386.1520,546.6300)" font-size="30" fill="#000">0.0</text>
<text transform="matrix(1.0860,0.0000,0.0000,0.9900,1386.1520,465.2800)" font-size="30" fill="#000">0.1</text>
<text transform="matrix(1.0860,0.0000,0.0000,0.9900,1386.1520,383.9300)" font-size="30" fill="#000">0.2</text>
<text transform="matrix(1.0860,0.0000,0.0000,0.9900,1386.1520,302.5800)" font-size="30" fill="#000">0.3</text>
<text transform="matrix(1.0860,0.0000,0.0000,0.9900,1386.1520,221.2300)" font-size="30" fill="#000">0.4</text>
<text transform="matrix(1.0860,0.0000,0.0000,0.9900,1386.1520,139.8800)" font-size="30" fill="#000">0.5</text>
<text transform="matrix(1.1453,0.0000,0.0000,1.0125,1386.8729,58.4625)" font-size="30" fill="#000">&gt;0.6</text>
<text transform="matrix(0.0000,-1.0770,1.0632,0.0000,1479.5000,423.4720)" font-size="33" fill="#000">Free energy [eV]</text>
<text transform="matrix(1.0058,0.0000,0.0000,1.0556,476.0589,118.6000)" font-size="26" fill="#fff">CO<tspan font-size="17.68" dy="7.02">2</tspan><tspan dy="-7.02"></tspan> (aq)</text>
<text transform="matrix(1.0068,0.0000,0.0000,1.0556,1169.1575,114.2000)" font-size="26" fill="#fff">CO<tspan font-size="17.68" dy="7.02">2</tspan><tspan dy="-7.02"></tspan> (aq)</text>
<text transform="matrix(0.8571,0.0000,0.0000,0.8556,198.5143,466.5000)" font-size="26" fill="#fff">*</text>
<text transform="matrix(1.0093,0.0000,0.0000,1.0500,207.5543,477.5000)" font-size="26" fill="#fff">CO<tspan font-size="17.68" dy="7.02">2</tspan><tspan dy="-7.02"></tspan></text>
<text transform="matrix(0.8250,0.0000,0.0000,0.7889,908.8250,460.2000)" font-size="26" fill="#fff">*</text>
<text transform="matrix(1.0286,0.0000,0.0000,1.0500,916.6286,472.0000)" font-size="26" fill="#fff">CO<tspan font-size="17.68" dy="7.02">2</tspan><tspan dy="-7.02"></tspan></text>
<text transform="matrix(1.0860,0.0000,0.0000,0.9900,67.2980,1150.9300)" font-size="30" fill="#000">0.0</text>
<text transform="matrix(1.0860,0.0000,0.0000,0.9900,67.2980,1007.7000)" font-size="30" fill="#000">0.1</text>
<text transform="matrix(1.0860,0.0000,0.0000,0.9900,67.2980,864.4700)" font-size="30" fill="#000">0.2</text>
<text transform="matrix(1.0860,0.0000,0.0000,0.9900,67.2980,721.2400)" font-size="30" fill="#000">0.3</text>
<text transform="matrix(1.0860,0.0000,0.0000,0.9900,101.8320,1200.0600)" font-size="30" fill="#000">1.5</text>
<text transform="matrix(1.0860,0.0000,0.0000,0.9900,193.6940,1200.3900)" font-size="30" fill="#000">2.0</text>
<text transform="matrix(1.0860,0.0000,0.0000,0.9900,285.1940,1200.3900)" font-size="30" fill="#000">2.5</text>
<text transform="matrix(1.0860,0.0000,0.0000,0.9900,376.8750,1200.3900)" font-size="30" fill="#000">3.0</text>
<text transform="matrix(1.0860,0.0000,0.0000,0.9900,468.3750,1200.3900)" font-size="30" fill="#000">3.5</text>
<text transform="matrix(1.0860,0.0000,0.0000,0.9900,560.2370,1200.3900)" font-size="30" fill="#000">4.0</text>
<text transform="matrix(1.0860,0.0000,0.0000,0.9900,651.7370,1200.0600)" font-size="30" fill="#000">4.5</text>
<text transform="matrix(1.0246,0.0000,0.0000,1.0100,-2.3324,685.4100)" font-size="43" fill="#000">(b)</text>
<text transform="matrix(0.0000,-1.0679,1.0632,0.0000,45.0000,1054.9476)" font-size="33" fill="#000">Free energy [eV]</text>
<text transform="matrix(1.0784,0.0000,0.0000,1.0500,291.3622,1243.3000)" font-size="33" fill="#000">d (surf, CO<tspan font-size="23.10" dy="5.28">2</tspan><tspan dy="-5.28"></tspan>) [Å]</text>
<text transform="matrix(0.9355,0.0000,0.0000,0.9750,629.5172,728.6750)" font-size="30" fill="#000">PZC</text>
<text transform="matrix(0.9026,0.0000,0.0000,0.9750,629.5957,769.5750)" font-size="30" fill="#000">CP</text>
<text transform="matrix(1.2133,0.0000,0.0000,1.1425,516.0822,989.8192)" font-size="33" fill="#000">d</text>
<text transform="matrix(1.0860,0.0000,0.0000,0.9900,857.0480,1181.0300)" font-size="30" fill="#000">0</text>
<text transform="matrix(1.0860,0.0000,0.0000,0.9900,838.9480,1097.5800)" font-size="30" fill="#000">10</text>
<text transform="matrix(1.0860,0.0000,0.0000,0.9900,838.9480,1014.1300)" font-size="30" fill="#000">20</text>
<text transform="matrix(1.0860,0.0000,0.0000,0.9900,838.9480,930.6800)" font-size="30" fill="#000">30</text>
<text transform="matrix(1.0860,0.0000,0.0000,0.9900,838.9480,847.2300)" font-size="30" fill="#000">40</text>
<text transform="matrix(1.0860,0.0000,0.0000,0.9900,838.9480,763.7800)" font-size="30" fill="#000">50</text>
<text transform="matrix(1.0860,0.0000,0.0000,0.9900,924.5500,1204.4900)" font-size="30" fill="#000">0</text>
<text transform="matrix(1.0860,0.0000,0.0000,0.9900,1005.5070,1204.1600)" font-size="30" fill="#000">1</text>
<text transform="matrix(1.0860,0.0000,0.0000,0.9900,1087.3690,1204.4900)" font-size="30" fill="#000">2</text>
<text transform="matrix(1.0860,0.0000,0.0000,0.9900,1169.0500,1204.4900)" font-size="30" fill="#000">3</text>
<text transform="matrix(1.0860,0.0000,0.0000,0.9900,1250.7310,1204.1600)" font-size="30" fill="#000">4</text>
<text transform="matrix(1.0860,0.0000,0.0000,0.9900,1332.0500,1204.1600)" font-size="30" fill="#000">5</text>
<text transform="matrix(1.0860,0.0000,0.0000,0.9900,1413.3690,1204.4900)" font-size="30" fill="#000">6</text>
<text transform="matrix(1.0455,0.0000,0.0000,1.0175,756.5119,685.4425)" font-size="43" fill="#000">(c)</text>
<text transform="matrix(0.0000,-1.0690,1.0632,0.0000,816.9000,1050.6508)" font-size="33" fill="#000">Percentage [%]</text>
<text transform="matrix(1.0441,0.0000,0.0000,1.0632,1033.7157,1243.3000)" font-size="33" fill="#000">HB number of CO<tspan font-size="23.10" dy="5.28">2</tspan><tspan dy="-5.28"></tspan></text>
<text transform="matrix(0.9249,0.0000,0.0000,0.9609,1388.0420,734.9797)" font-size="30" fill="#000">PZC</text>
<text transform="matrix(0.8948,0.0000,0.0000,0.9609,1388.1087,775.8797)" font-size="30" fill="#000">CP</text>
</svg></body></html>
